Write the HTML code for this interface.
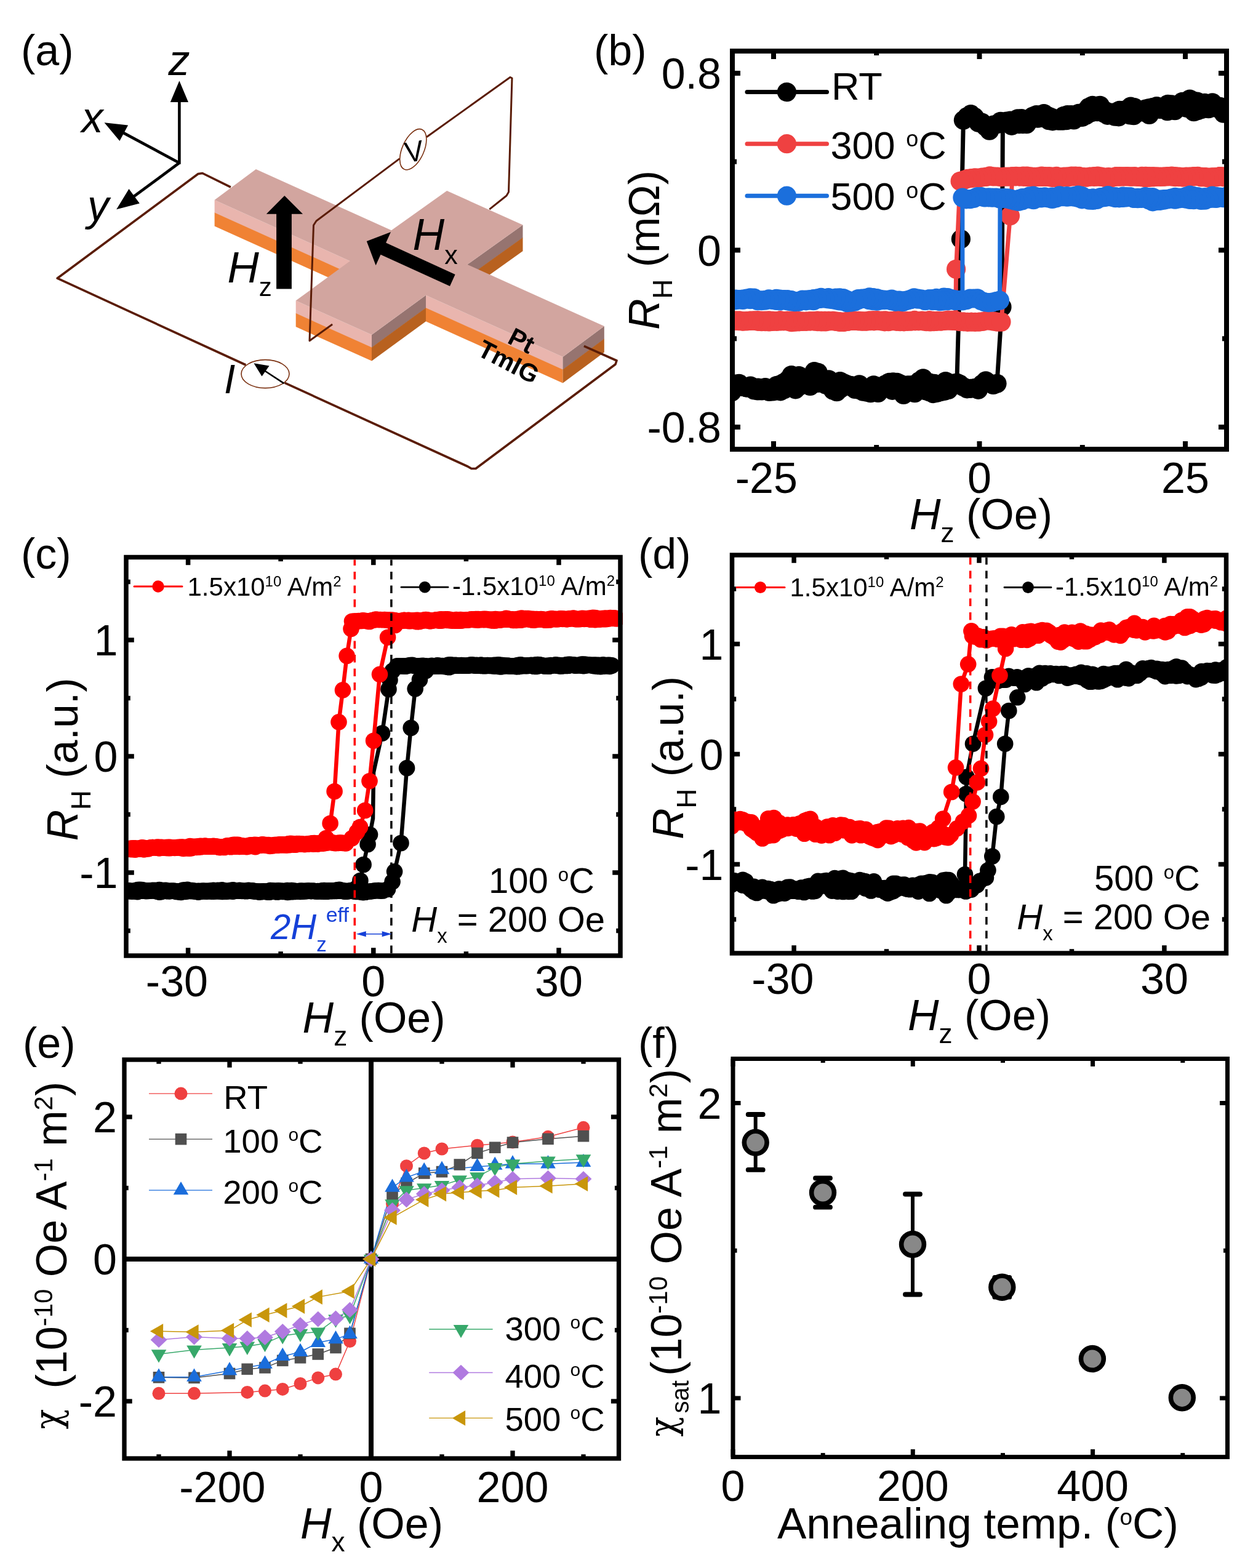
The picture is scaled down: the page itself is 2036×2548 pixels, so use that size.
<!DOCTYPE html>
<html><head><meta charset="utf-8"><title>Figure</title>
<style>html,body{margin:0;padding:0;background:#fff;} svg{display:block;}</style></head>
<body><svg xmlns="http://www.w3.org/2000/svg" width="2036" height="2548" viewBox="0 0 2036 2548" font-family="'Liberation Sans', Arial, Helvetica, sans-serif">
<rect width="2036" height="2548" fill="#fff"/>
<clipPath id="cb"><rect x="1190" y="83" width="803" height="647"/></clipPath>
<g clip-path="url(#cb)">
<polyline points="1176.7,631.6 1182.8,628.7 1188.9,627.3 1194.9,624.1 1201,623.3 1207.1,628.5 1213.2,629.8 1219.2,629.2 1225.3,634 1231.4,635 1237.4,631 1243.5,629.6 1249.6,631.5 1255.7,632.1 1261.7,626.7 1267.8,624.8 1273.9,621.7 1279.9,617.7 1286,609.5 1292.1,613.1 1298.2,610.5 1304.2,617.5 1310.3,622.1 1316.4,627.4 1322.5,620.1 1328.5,622.4 1334.6,621.4 1340.7,621.3 1346.7,616.9 1352.8,623.5 1358.9,622.1 1365,619.6 1371,622.7 1377.1,625 1383.2,626.5 1389.3,632.5 1395.3,633.2 1401.4,629.4 1407.5,632.4 1413.5,632.7 1419.6,625.9 1425.7,628 1431.8,632.7 1437.8,627.4 1443.9,630 1450,634.3 1456,632 1462.1,634 1468.2,641.5 1474.3,634.9 1480.3,634.7 1486.4,638.6 1492.5,631.6 1498.6,631.3 1504.6,635 1510.7,636.9 1516.8,639.7 1522.8,638.1 1528.9,636.5 1535,635.3 1541.1,633.5 1547.1,625.1 1553.2,625.4 1559.3,624.1 1565.3,628.5 1571.4,631.8 1577.5,631.3 1583.6,630.6 1589.6,633.3 1595.7,624 1601.8,618.9 1607.9,622.8 1613.9,625.4 1620,623.3 1628,498.9 1629.4,198.6 1635.4,197.1 1641.5,196.1 1647.6,196.7 1653.7,192.8 1659.8,192.7 1665.8,194.7 1671.9,194.9 1678,189.1 1684.1,186.6 1690.2,187.3 1696.2,184.5 1702.3,188.4 1708.4,190.9 1714.5,194.2 1720.6,196.1 1726.6,196.2 1732.7,195.6 1738.8,193.2 1744.9,194.9 1751,188.3 1757,190.3 1763.1,181.2 1769.2,174.4 1775.3,171.3 1781.3,172.3 1787.4,171.4 1793.5,183.8 1799.6,187.3 1805.7,186 1811.7,189.2 1817.8,189.8 1823.9,181.7 1830,183.2 1836.1,187 1842.1,187.6 1848.2,182.1 1854.3,181.9 1860.4,182.1 1866.5,175.9 1872.5,174.5 1878.6,174.5 1884.7,177.4 1890.8,177.4 1896.9,180.7 1902.9,177.6 1909,179.6 1915.1,169.8 1921.2,165.3 1927.2,166.1 1933.3,161.1 1939.4,164.2 1945.5,165 1951.6,171.1 1957.6,167.3 1963.7,176.7 1969.8,174.4 1975.9,175.2 1982,176.8 1988,184.1 1994.1,181.4 2000.2,180.9 2006.3,185.7" fill="none" stroke="#000" stroke-width="7" stroke-linejoin="round" stroke-linecap="round" />
<circle cx="1176.7" cy="631.6" r="15.6" fill="#000" />
<circle cx="1182.8" cy="628.7" r="15.6" fill="#000" />
<circle cx="1188.9" cy="627.3" r="15.6" fill="#000" />
<circle cx="1194.9" cy="624.1" r="15.6" fill="#000" />
<circle cx="1201" cy="623.3" r="15.6" fill="#000" />
<circle cx="1207.1" cy="628.5" r="15.6" fill="#000" />
<circle cx="1213.2" cy="629.8" r="15.6" fill="#000" />
<circle cx="1219.2" cy="629.2" r="15.6" fill="#000" />
<circle cx="1225.3" cy="634" r="15.6" fill="#000" />
<circle cx="1231.4" cy="635" r="15.6" fill="#000" />
<circle cx="1237.4" cy="631" r="15.6" fill="#000" />
<circle cx="1243.5" cy="629.6" r="15.6" fill="#000" />
<circle cx="1249.6" cy="631.5" r="15.6" fill="#000" />
<circle cx="1255.7" cy="632.1" r="15.6" fill="#000" />
<circle cx="1261.7" cy="626.7" r="15.6" fill="#000" />
<circle cx="1267.8" cy="624.8" r="15.6" fill="#000" />
<circle cx="1273.9" cy="621.7" r="15.6" fill="#000" />
<circle cx="1279.9" cy="617.7" r="15.6" fill="#000" />
<circle cx="1286" cy="609.5" r="15.6" fill="#000" />
<circle cx="1292.1" cy="613.1" r="15.6" fill="#000" />
<circle cx="1298.2" cy="610.5" r="15.6" fill="#000" />
<circle cx="1304.2" cy="617.5" r="15.6" fill="#000" />
<circle cx="1310.3" cy="622.1" r="15.6" fill="#000" />
<circle cx="1316.4" cy="627.4" r="15.6" fill="#000" />
<circle cx="1322.5" cy="620.1" r="15.6" fill="#000" />
<circle cx="1328.5" cy="622.4" r="15.6" fill="#000" />
<circle cx="1334.6" cy="621.4" r="15.6" fill="#000" />
<circle cx="1340.7" cy="621.3" r="15.6" fill="#000" />
<circle cx="1346.7" cy="616.9" r="15.6" fill="#000" />
<circle cx="1352.8" cy="623.5" r="15.6" fill="#000" />
<circle cx="1358.9" cy="622.1" r="15.6" fill="#000" />
<circle cx="1365" cy="619.6" r="15.6" fill="#000" />
<circle cx="1371" cy="622.7" r="15.6" fill="#000" />
<circle cx="1377.1" cy="625" r="15.6" fill="#000" />
<circle cx="1383.2" cy="626.5" r="15.6" fill="#000" />
<circle cx="1389.3" cy="632.5" r="15.6" fill="#000" />
<circle cx="1395.3" cy="633.2" r="15.6" fill="#000" />
<circle cx="1401.4" cy="629.4" r="15.6" fill="#000" />
<circle cx="1407.5" cy="632.4" r="15.6" fill="#000" />
<circle cx="1413.5" cy="632.7" r="15.6" fill="#000" />
<circle cx="1419.6" cy="625.9" r="15.6" fill="#000" />
<circle cx="1425.7" cy="628" r="15.6" fill="#000" />
<circle cx="1431.8" cy="632.7" r="15.6" fill="#000" />
<circle cx="1437.8" cy="627.4" r="15.6" fill="#000" />
<circle cx="1443.9" cy="630" r="15.6" fill="#000" />
<circle cx="1450" cy="634.3" r="15.6" fill="#000" />
<circle cx="1456" cy="632" r="15.6" fill="#000" />
<circle cx="1462.1" cy="634" r="15.6" fill="#000" />
<circle cx="1468.2" cy="641.5" r="15.6" fill="#000" />
<circle cx="1474.3" cy="634.9" r="15.6" fill="#000" />
<circle cx="1480.3" cy="634.7" r="15.6" fill="#000" />
<circle cx="1486.4" cy="638.6" r="15.6" fill="#000" />
<circle cx="1492.5" cy="631.6" r="15.6" fill="#000" />
<circle cx="1498.6" cy="631.3" r="15.6" fill="#000" />
<circle cx="1504.6" cy="635" r="15.6" fill="#000" />
<circle cx="1510.7" cy="636.9" r="15.6" fill="#000" />
<circle cx="1516.8" cy="639.7" r="15.6" fill="#000" />
<circle cx="1522.8" cy="638.1" r="15.6" fill="#000" />
<circle cx="1528.9" cy="636.5" r="15.6" fill="#000" />
<circle cx="1535" cy="635.3" r="15.6" fill="#000" />
<circle cx="1541.1" cy="633.5" r="15.6" fill="#000" />
<circle cx="1547.1" cy="625.1" r="15.6" fill="#000" />
<circle cx="1553.2" cy="625.4" r="15.6" fill="#000" />
<circle cx="1559.3" cy="624.1" r="15.6" fill="#000" />
<circle cx="1565.3" cy="628.5" r="15.6" fill="#000" />
<circle cx="1571.4" cy="631.8" r="15.6" fill="#000" />
<circle cx="1577.5" cy="631.3" r="15.6" fill="#000" />
<circle cx="1583.6" cy="630.6" r="15.6" fill="#000" />
<circle cx="1589.6" cy="633.3" r="15.6" fill="#000" />
<circle cx="1595.7" cy="624" r="15.6" fill="#000" />
<circle cx="1601.8" cy="618.9" r="15.6" fill="#000" />
<circle cx="1607.9" cy="622.8" r="15.6" fill="#000" />
<circle cx="1613.9" cy="625.4" r="15.6" fill="#000" />
<circle cx="1620" cy="623.3" r="15.6" fill="#000" />
<circle cx="1628" cy="498.9" r="15.6" fill="#000" />
<circle cx="1629.4" cy="198.6" r="15.6" fill="#000" />
<circle cx="1635.4" cy="197.1" r="15.6" fill="#000" />
<circle cx="1641.5" cy="196.1" r="15.6" fill="#000" />
<circle cx="1647.6" cy="196.7" r="15.6" fill="#000" />
<circle cx="1653.7" cy="192.8" r="15.6" fill="#000" />
<circle cx="1659.8" cy="192.7" r="15.6" fill="#000" />
<circle cx="1665.8" cy="194.7" r="15.6" fill="#000" />
<circle cx="1671.9" cy="194.9" r="15.6" fill="#000" />
<circle cx="1678" cy="189.1" r="15.6" fill="#000" />
<circle cx="1684.1" cy="186.6" r="15.6" fill="#000" />
<circle cx="1690.2" cy="187.3" r="15.6" fill="#000" />
<circle cx="1696.2" cy="184.5" r="15.6" fill="#000" />
<circle cx="1702.3" cy="188.4" r="15.6" fill="#000" />
<circle cx="1708.4" cy="190.9" r="15.6" fill="#000" />
<circle cx="1714.5" cy="194.2" r="15.6" fill="#000" />
<circle cx="1720.6" cy="196.1" r="15.6" fill="#000" />
<circle cx="1726.6" cy="196.2" r="15.6" fill="#000" />
<circle cx="1732.7" cy="195.6" r="15.6" fill="#000" />
<circle cx="1738.8" cy="193.2" r="15.6" fill="#000" />
<circle cx="1744.9" cy="194.9" r="15.6" fill="#000" />
<circle cx="1751" cy="188.3" r="15.6" fill="#000" />
<circle cx="1757" cy="190.3" r="15.6" fill="#000" />
<circle cx="1763.1" cy="181.2" r="15.6" fill="#000" />
<circle cx="1769.2" cy="174.4" r="15.6" fill="#000" />
<circle cx="1775.3" cy="171.3" r="15.6" fill="#000" />
<circle cx="1781.3" cy="172.3" r="15.6" fill="#000" />
<circle cx="1787.4" cy="171.4" r="15.6" fill="#000" />
<circle cx="1793.5" cy="183.8" r="15.6" fill="#000" />
<circle cx="1799.6" cy="187.3" r="15.6" fill="#000" />
<circle cx="1805.7" cy="186" r="15.6" fill="#000" />
<circle cx="1811.7" cy="189.2" r="15.6" fill="#000" />
<circle cx="1817.8" cy="189.8" r="15.6" fill="#000" />
<circle cx="1823.9" cy="181.7" r="15.6" fill="#000" />
<circle cx="1830" cy="183.2" r="15.6" fill="#000" />
<circle cx="1836.1" cy="187" r="15.6" fill="#000" />
<circle cx="1842.1" cy="187.6" r="15.6" fill="#000" />
<circle cx="1848.2" cy="182.1" r="15.6" fill="#000" />
<circle cx="1854.3" cy="181.9" r="15.6" fill="#000" />
<circle cx="1860.4" cy="182.1" r="15.6" fill="#000" />
<circle cx="1866.5" cy="175.9" r="15.6" fill="#000" />
<circle cx="1872.5" cy="174.5" r="15.6" fill="#000" />
<circle cx="1878.6" cy="174.5" r="15.6" fill="#000" />
<circle cx="1884.7" cy="177.4" r="15.6" fill="#000" />
<circle cx="1890.8" cy="177.4" r="15.6" fill="#000" />
<circle cx="1896.9" cy="180.7" r="15.6" fill="#000" />
<circle cx="1902.9" cy="177.6" r="15.6" fill="#000" />
<circle cx="1909" cy="179.6" r="15.6" fill="#000" />
<circle cx="1915.1" cy="169.8" r="15.6" fill="#000" />
<circle cx="1921.2" cy="165.3" r="15.6" fill="#000" />
<circle cx="1927.2" cy="166.1" r="15.6" fill="#000" />
<circle cx="1933.3" cy="161.1" r="15.6" fill="#000" />
<circle cx="1939.4" cy="164.2" r="15.6" fill="#000" />
<circle cx="1945.5" cy="165" r="15.6" fill="#000" />
<circle cx="1951.6" cy="171.1" r="15.6" fill="#000" />
<circle cx="1957.6" cy="167.3" r="15.6" fill="#000" />
<circle cx="1963.7" cy="176.7" r="15.6" fill="#000" />
<circle cx="1969.8" cy="174.4" r="15.6" fill="#000" />
<circle cx="1975.9" cy="175.2" r="15.6" fill="#000" />
<circle cx="1982" cy="176.8" r="15.6" fill="#000" />
<circle cx="1988" cy="184.1" r="15.6" fill="#000" />
<circle cx="1994.1" cy="181.4" r="15.6" fill="#000" />
<circle cx="2000.2" cy="180.9" r="15.6" fill="#000" />
<circle cx="2006.3" cy="185.7" r="15.6" fill="#000" />
</g>
<g clip-path="url(#cb)">
<polyline points="2006.3,172.7 2000.2,176.4 1994.2,174.7 1988.2,175.4 1982.1,173.4 1976.1,174.5 1970,166.8 1964,172.6 1958,172.2 1951.9,177.8 1945.9,179.8 1939.8,181.7 1933.8,176.6 1927.8,175.3 1921.7,172.4 1915.7,171.3 1909.7,172.8 1903.6,169.8 1897.6,169.3 1891.5,175.1 1885.5,174.6 1879.5,172.7 1873.4,178.7 1867.4,186.4 1861.3,177 1855.3,179 1849.3,180.9 1843.2,174.7 1837.2,173 1831.1,178.1 1825.1,179.4 1819.1,179.4 1813,186.9 1807,183.2 1800.9,183.1 1794.9,179.6 1788.9,178.4 1782.8,181.6 1776.8,181.9 1770.7,183.6 1764.7,187.3 1758.7,190.1 1752.6,184.4 1746.6,188.3 1740.5,186.7 1734.5,186.5 1728.5,188.3 1722.4,193.9 1716.4,194.4 1710.4,196.8 1704.3,195.7 1698.3,191.5 1692.2,191 1686.2,192.1 1680.2,190.7 1674.1,194.5 1668.1,201.7 1662,201.6 1656,201.7 1650,200.9 1643.9,204.3 1637.9,198 1631.8,198.4 1625.8,197.3 1619.8,201.8 1613.7,203.2 1607.7,212.2 1601.6,206 1595.6,199.2 1589.6,199.3 1583.5,190.2 1577.5,185.7 1571.4,189.6 1565.4,195.3 1561.4,388.5 1554.8,622.1 1548.7,623 1542.6,623.1 1536.5,619.6 1530.4,625 1524.3,629 1518.2,623.3 1512.1,622.7 1506,620.3 1500,614.9 1493.9,619.3 1487.8,624 1481.7,625.8 1475.6,625.8 1469.5,628.9 1463.4,624.1 1457.3,621.4 1451.2,620.8 1445.1,621.4 1439,624.7 1432.9,629 1426.8,638.4 1420.7,633.3 1414.6,638.6 1408.5,637.2 1402.4,636.1 1396.3,624.9 1390.2,627.9 1384.1,627.4 1378,627.4 1371.9,627.7 1365.8,631.5 1359.7,636.7 1353.6,634.2 1347.5,627.4 1341.4,624.9 1335.3,619.5 1329.2,605.3 1323.1,603.7 1317,615 1310.9,617.4 1304.8,620 1298.7,627.4 1292.6,632.8 1286.5,629 1280.4,629 1274.3,632.6 1268.2,635.8 1262.1,634.7 1256,636 1249.9,636.5 1243.8,633.3 1237.7,634.9 1231.6,630.1 1225.5,631.8 1219.4,627 1213.3,629.9 1207.2,628.3 1201.1,626.2 1195,628.2 1188.9,637 1182.8,637.5 1176.7,637.5" fill="none" stroke="#000" stroke-width="7" stroke-linejoin="round" stroke-linecap="round" />
<circle cx="2006.3" cy="172.7" r="15.6" fill="#000" />
<circle cx="2000.2" cy="176.4" r="15.6" fill="#000" />
<circle cx="1994.2" cy="174.7" r="15.6" fill="#000" />
<circle cx="1988.2" cy="175.4" r="15.6" fill="#000" />
<circle cx="1982.1" cy="173.4" r="15.6" fill="#000" />
<circle cx="1976.1" cy="174.5" r="15.6" fill="#000" />
<circle cx="1970" cy="166.8" r="15.6" fill="#000" />
<circle cx="1964" cy="172.6" r="15.6" fill="#000" />
<circle cx="1958" cy="172.2" r="15.6" fill="#000" />
<circle cx="1951.9" cy="177.8" r="15.6" fill="#000" />
<circle cx="1945.9" cy="179.8" r="15.6" fill="#000" />
<circle cx="1939.8" cy="181.7" r="15.6" fill="#000" />
<circle cx="1933.8" cy="176.6" r="15.6" fill="#000" />
<circle cx="1927.8" cy="175.3" r="15.6" fill="#000" />
<circle cx="1921.7" cy="172.4" r="15.6" fill="#000" />
<circle cx="1915.7" cy="171.3" r="15.6" fill="#000" />
<circle cx="1909.7" cy="172.8" r="15.6" fill="#000" />
<circle cx="1903.6" cy="169.8" r="15.6" fill="#000" />
<circle cx="1897.6" cy="169.3" r="15.6" fill="#000" />
<circle cx="1891.5" cy="175.1" r="15.6" fill="#000" />
<circle cx="1885.5" cy="174.6" r="15.6" fill="#000" />
<circle cx="1879.5" cy="172.7" r="15.6" fill="#000" />
<circle cx="1873.4" cy="178.7" r="15.6" fill="#000" />
<circle cx="1867.4" cy="186.4" r="15.6" fill="#000" />
<circle cx="1861.3" cy="177" r="15.6" fill="#000" />
<circle cx="1855.3" cy="179" r="15.6" fill="#000" />
<circle cx="1849.3" cy="180.9" r="15.6" fill="#000" />
<circle cx="1843.2" cy="174.7" r="15.6" fill="#000" />
<circle cx="1837.2" cy="173" r="15.6" fill="#000" />
<circle cx="1831.1" cy="178.1" r="15.6" fill="#000" />
<circle cx="1825.1" cy="179.4" r="15.6" fill="#000" />
<circle cx="1819.1" cy="179.4" r="15.6" fill="#000" />
<circle cx="1813" cy="186.9" r="15.6" fill="#000" />
<circle cx="1807" cy="183.2" r="15.6" fill="#000" />
<circle cx="1800.9" cy="183.1" r="15.6" fill="#000" />
<circle cx="1794.9" cy="179.6" r="15.6" fill="#000" />
<circle cx="1788.9" cy="178.4" r="15.6" fill="#000" />
<circle cx="1782.8" cy="181.6" r="15.6" fill="#000" />
<circle cx="1776.8" cy="181.9" r="15.6" fill="#000" />
<circle cx="1770.7" cy="183.6" r="15.6" fill="#000" />
<circle cx="1764.7" cy="187.3" r="15.6" fill="#000" />
<circle cx="1758.7" cy="190.1" r="15.6" fill="#000" />
<circle cx="1752.6" cy="184.4" r="15.6" fill="#000" />
<circle cx="1746.6" cy="188.3" r="15.6" fill="#000" />
<circle cx="1740.5" cy="186.7" r="15.6" fill="#000" />
<circle cx="1734.5" cy="186.5" r="15.6" fill="#000" />
<circle cx="1728.5" cy="188.3" r="15.6" fill="#000" />
<circle cx="1722.4" cy="193.9" r="15.6" fill="#000" />
<circle cx="1716.4" cy="194.4" r="15.6" fill="#000" />
<circle cx="1710.4" cy="196.8" r="15.6" fill="#000" />
<circle cx="1704.3" cy="195.7" r="15.6" fill="#000" />
<circle cx="1698.3" cy="191.5" r="15.6" fill="#000" />
<circle cx="1692.2" cy="191" r="15.6" fill="#000" />
<circle cx="1686.2" cy="192.1" r="15.6" fill="#000" />
<circle cx="1680.2" cy="190.7" r="15.6" fill="#000" />
<circle cx="1674.1" cy="194.5" r="15.6" fill="#000" />
<circle cx="1668.1" cy="201.7" r="15.6" fill="#000" />
<circle cx="1662" cy="201.6" r="15.6" fill="#000" />
<circle cx="1656" cy="201.7" r="15.6" fill="#000" />
<circle cx="1650" cy="200.9" r="15.6" fill="#000" />
<circle cx="1643.9" cy="204.3" r="15.6" fill="#000" />
<circle cx="1637.9" cy="198" r="15.6" fill="#000" />
<circle cx="1631.8" cy="198.4" r="15.6" fill="#000" />
<circle cx="1625.8" cy="197.3" r="15.6" fill="#000" />
<circle cx="1619.8" cy="201.8" r="15.6" fill="#000" />
<circle cx="1613.7" cy="203.2" r="15.6" fill="#000" />
<circle cx="1607.7" cy="212.2" r="15.6" fill="#000" />
<circle cx="1601.6" cy="206" r="15.6" fill="#000" />
<circle cx="1595.6" cy="199.2" r="15.6" fill="#000" />
<circle cx="1589.6" cy="199.3" r="15.6" fill="#000" />
<circle cx="1583.5" cy="190.2" r="15.6" fill="#000" />
<circle cx="1577.5" cy="185.7" r="15.6" fill="#000" />
<circle cx="1571.4" cy="189.6" r="15.6" fill="#000" />
<circle cx="1565.4" cy="195.3" r="15.6" fill="#000" />
<circle cx="1561.4" cy="388.5" r="15.6" fill="#000" />
<circle cx="1554.8" cy="622.1" r="15.6" fill="#000" />
<circle cx="1548.7" cy="623" r="15.6" fill="#000" />
<circle cx="1542.6" cy="623.1" r="15.6" fill="#000" />
<circle cx="1536.5" cy="619.6" r="15.6" fill="#000" />
<circle cx="1530.4" cy="625" r="15.6" fill="#000" />
<circle cx="1524.3" cy="629" r="15.6" fill="#000" />
<circle cx="1518.2" cy="623.3" r="15.6" fill="#000" />
<circle cx="1512.1" cy="622.7" r="15.6" fill="#000" />
<circle cx="1506" cy="620.3" r="15.6" fill="#000" />
<circle cx="1500" cy="614.9" r="15.6" fill="#000" />
<circle cx="1493.9" cy="619.3" r="15.6" fill="#000" />
<circle cx="1487.8" cy="624" r="15.6" fill="#000" />
<circle cx="1481.7" cy="625.8" r="15.6" fill="#000" />
<circle cx="1475.6" cy="625.8" r="15.6" fill="#000" />
<circle cx="1469.5" cy="628.9" r="15.6" fill="#000" />
<circle cx="1463.4" cy="624.1" r="15.6" fill="#000" />
<circle cx="1457.3" cy="621.4" r="15.6" fill="#000" />
<circle cx="1451.2" cy="620.8" r="15.6" fill="#000" />
<circle cx="1445.1" cy="621.4" r="15.6" fill="#000" />
<circle cx="1439" cy="624.7" r="15.6" fill="#000" />
<circle cx="1432.9" cy="629" r="15.6" fill="#000" />
<circle cx="1426.8" cy="638.4" r="15.6" fill="#000" />
<circle cx="1420.7" cy="633.3" r="15.6" fill="#000" />
<circle cx="1414.6" cy="638.6" r="15.6" fill="#000" />
<circle cx="1408.5" cy="637.2" r="15.6" fill="#000" />
<circle cx="1402.4" cy="636.1" r="15.6" fill="#000" />
<circle cx="1396.3" cy="624.9" r="15.6" fill="#000" />
<circle cx="1390.2" cy="627.9" r="15.6" fill="#000" />
<circle cx="1384.1" cy="627.4" r="15.6" fill="#000" />
<circle cx="1378" cy="627.4" r="15.6" fill="#000" />
<circle cx="1371.9" cy="627.7" r="15.6" fill="#000" />
<circle cx="1365.8" cy="631.5" r="15.6" fill="#000" />
<circle cx="1359.7" cy="636.7" r="15.6" fill="#000" />
<circle cx="1353.6" cy="634.2" r="15.6" fill="#000" />
<circle cx="1347.5" cy="627.4" r="15.6" fill="#000" />
<circle cx="1341.4" cy="624.9" r="15.6" fill="#000" />
<circle cx="1335.3" cy="619.5" r="15.6" fill="#000" />
<circle cx="1329.2" cy="605.3" r="15.6" fill="#000" />
<circle cx="1323.1" cy="603.7" r="15.6" fill="#000" />
<circle cx="1317" cy="615" r="15.6" fill="#000" />
<circle cx="1310.9" cy="617.4" r="15.6" fill="#000" />
<circle cx="1304.8" cy="620" r="15.6" fill="#000" />
<circle cx="1298.7" cy="627.4" r="15.6" fill="#000" />
<circle cx="1292.6" cy="632.8" r="15.6" fill="#000" />
<circle cx="1286.5" cy="629" r="15.6" fill="#000" />
<circle cx="1280.4" cy="629" r="15.6" fill="#000" />
<circle cx="1274.3" cy="632.6" r="15.6" fill="#000" />
<circle cx="1268.2" cy="635.8" r="15.6" fill="#000" />
<circle cx="1262.1" cy="634.7" r="15.6" fill="#000" />
<circle cx="1256" cy="636" r="15.6" fill="#000" />
<circle cx="1249.9" cy="636.5" r="15.6" fill="#000" />
<circle cx="1243.8" cy="633.3" r="15.6" fill="#000" />
<circle cx="1237.7" cy="634.9" r="15.6" fill="#000" />
<circle cx="1231.6" cy="630.1" r="15.6" fill="#000" />
<circle cx="1225.5" cy="631.8" r="15.6" fill="#000" />
<circle cx="1219.4" cy="627" r="15.6" fill="#000" />
<circle cx="1213.3" cy="629.9" r="15.6" fill="#000" />
<circle cx="1207.2" cy="628.3" r="15.6" fill="#000" />
<circle cx="1201.1" cy="626.2" r="15.6" fill="#000" />
<circle cx="1195" cy="628.2" r="15.6" fill="#000" />
<circle cx="1188.9" cy="637" r="15.6" fill="#000" />
<circle cx="1182.8" cy="637.5" r="15.6" fill="#000" />
<circle cx="1176.7" cy="637.5" r="15.6" fill="#000" />
</g>
<g clip-path="url(#cb)">
<polyline points="1176.7,522.1 1182.8,522.3 1188.9,521.3 1195,521.1 1201.1,520.9 1207.1,522.1 1213.2,521.5 1219.3,521.4 1225.4,521.3 1231.5,522.3 1237.6,522.6 1243.6,522.7 1249.7,522.9 1255.8,522.4 1261.9,522.3 1268,520.7 1274.1,521.7 1280.2,522.3 1286.2,523.6 1292.3,523.2 1298.4,522.8 1304.5,522.5 1310.6,522 1316.7,521.9 1322.7,521.8 1328.8,522.6 1334.9,523 1341,522.9 1347.1,522 1353.2,521.4 1359.2,522.2 1365.3,522.7 1371.4,523 1377.5,522.1 1383.6,521.4 1389.7,521.3 1395.8,521.9 1401.8,522.2 1407.9,522.1 1414,521.6 1420.1,521.8 1426.2,521.2 1432.3,521.2 1438.3,520.8 1444.4,521.9 1450.5,521.7 1456.6,522.3 1462.7,522.6 1468.8,522.8 1474.8,522.3 1480.9,521.7 1487,521.8 1493.1,521.6 1499.2,521.8 1505.3,522.7 1511.4,523 1517.4,522.7 1523.5,521.3 1529.6,521.6 1535.7,521.1 1541.8,521.1 1547.9,521.5 1553.9,521.7 1560,522.7 1566.1,522.8 1572.2,523.3 1578.3,523.1 1584.4,523.3 1590.5,523.1 1596.5,522.5 1602.6,521 1608.7,521.1 1614.8,522.1 1620.9,523.1 1627,523.1 1641.4,350.8 1645,286.7 1651,286.4 1657.1,287 1663.1,287.3 1669.1,287.6 1675.1,287.6 1681.1,287.6 1687.2,287.5 1693.2,287.4 1699.2,287.5 1705.2,287.8 1711.3,288.6 1717.3,288.9 1723.3,288.7 1729.3,287 1735.3,286.9 1741.4,286 1747.4,286.1 1753.4,286.3 1759.4,287.6 1765.4,288.2 1771.5,287 1777.5,286.5 1783.5,286.2 1789.5,287.3 1795.5,288.5 1801.6,288.9 1807.6,288.3 1813.6,286.7 1819.6,286.6 1825.7,286.9 1831.7,286.9 1837.7,286.9 1843.7,286.5 1849.7,287.5 1855.8,288 1861.8,289 1867.8,288.3 1873.8,288 1879.8,287.5 1885.9,287.5 1891.9,287.1 1897.9,286.6 1903.9,286.1 1909.9,286.6 1916,287.1 1922,287.9 1928,288 1934,287.3 1940,286.8 1946.1,286.4 1952.1,287.4 1958.1,287.6 1964.1,288 1970.2,287.9 1976.2,287.5 1982.2,286.6 1988.2,286.9 1994.2,287.7 2000.3,287.2 2006.3,286.8" fill="none" stroke="#ef4141" stroke-width="7" stroke-linejoin="round" stroke-linecap="round" />
<circle cx="1176.7" cy="522.1" r="15.6" fill="#ef4141" />
<circle cx="1182.8" cy="522.3" r="15.6" fill="#ef4141" />
<circle cx="1188.9" cy="521.3" r="15.6" fill="#ef4141" />
<circle cx="1195" cy="521.1" r="15.6" fill="#ef4141" />
<circle cx="1201.1" cy="520.9" r="15.6" fill="#ef4141" />
<circle cx="1207.1" cy="522.1" r="15.6" fill="#ef4141" />
<circle cx="1213.2" cy="521.5" r="15.6" fill="#ef4141" />
<circle cx="1219.3" cy="521.4" r="15.6" fill="#ef4141" />
<circle cx="1225.4" cy="521.3" r="15.6" fill="#ef4141" />
<circle cx="1231.5" cy="522.3" r="15.6" fill="#ef4141" />
<circle cx="1237.6" cy="522.6" r="15.6" fill="#ef4141" />
<circle cx="1243.6" cy="522.7" r="15.6" fill="#ef4141" />
<circle cx="1249.7" cy="522.9" r="15.6" fill="#ef4141" />
<circle cx="1255.8" cy="522.4" r="15.6" fill="#ef4141" />
<circle cx="1261.9" cy="522.3" r="15.6" fill="#ef4141" />
<circle cx="1268" cy="520.7" r="15.6" fill="#ef4141" />
<circle cx="1274.1" cy="521.7" r="15.6" fill="#ef4141" />
<circle cx="1280.2" cy="522.3" r="15.6" fill="#ef4141" />
<circle cx="1286.2" cy="523.6" r="15.6" fill="#ef4141" />
<circle cx="1292.3" cy="523.2" r="15.6" fill="#ef4141" />
<circle cx="1298.4" cy="522.8" r="15.6" fill="#ef4141" />
<circle cx="1304.5" cy="522.5" r="15.6" fill="#ef4141" />
<circle cx="1310.6" cy="522" r="15.6" fill="#ef4141" />
<circle cx="1316.7" cy="521.9" r="15.6" fill="#ef4141" />
<circle cx="1322.7" cy="521.8" r="15.6" fill="#ef4141" />
<circle cx="1328.8" cy="522.6" r="15.6" fill="#ef4141" />
<circle cx="1334.9" cy="523" r="15.6" fill="#ef4141" />
<circle cx="1341" cy="522.9" r="15.6" fill="#ef4141" />
<circle cx="1347.1" cy="522" r="15.6" fill="#ef4141" />
<circle cx="1353.2" cy="521.4" r="15.6" fill="#ef4141" />
<circle cx="1359.2" cy="522.2" r="15.6" fill="#ef4141" />
<circle cx="1365.3" cy="522.7" r="15.6" fill="#ef4141" />
<circle cx="1371.4" cy="523" r="15.6" fill="#ef4141" />
<circle cx="1377.5" cy="522.1" r="15.6" fill="#ef4141" />
<circle cx="1383.6" cy="521.4" r="15.6" fill="#ef4141" />
<circle cx="1389.7" cy="521.3" r="15.6" fill="#ef4141" />
<circle cx="1395.8" cy="521.9" r="15.6" fill="#ef4141" />
<circle cx="1401.8" cy="522.2" r="15.6" fill="#ef4141" />
<circle cx="1407.9" cy="522.1" r="15.6" fill="#ef4141" />
<circle cx="1414" cy="521.6" r="15.6" fill="#ef4141" />
<circle cx="1420.1" cy="521.8" r="15.6" fill="#ef4141" />
<circle cx="1426.2" cy="521.2" r="15.6" fill="#ef4141" />
<circle cx="1432.3" cy="521.2" r="15.6" fill="#ef4141" />
<circle cx="1438.3" cy="520.8" r="15.6" fill="#ef4141" />
<circle cx="1444.4" cy="521.9" r="15.6" fill="#ef4141" />
<circle cx="1450.5" cy="521.7" r="15.6" fill="#ef4141" />
<circle cx="1456.6" cy="522.3" r="15.6" fill="#ef4141" />
<circle cx="1462.7" cy="522.6" r="15.6" fill="#ef4141" />
<circle cx="1468.8" cy="522.8" r="15.6" fill="#ef4141" />
<circle cx="1474.8" cy="522.3" r="15.6" fill="#ef4141" />
<circle cx="1480.9" cy="521.7" r="15.6" fill="#ef4141" />
<circle cx="1487" cy="521.8" r="15.6" fill="#ef4141" />
<circle cx="1493.1" cy="521.6" r="15.6" fill="#ef4141" />
<circle cx="1499.2" cy="521.8" r="15.6" fill="#ef4141" />
<circle cx="1505.3" cy="522.7" r="15.6" fill="#ef4141" />
<circle cx="1511.4" cy="523" r="15.6" fill="#ef4141" />
<circle cx="1517.4" cy="522.7" r="15.6" fill="#ef4141" />
<circle cx="1523.5" cy="521.3" r="15.6" fill="#ef4141" />
<circle cx="1529.6" cy="521.6" r="15.6" fill="#ef4141" />
<circle cx="1535.7" cy="521.1" r="15.6" fill="#ef4141" />
<circle cx="1541.8" cy="521.1" r="15.6" fill="#ef4141" />
<circle cx="1547.9" cy="521.5" r="15.6" fill="#ef4141" />
<circle cx="1553.9" cy="521.7" r="15.6" fill="#ef4141" />
<circle cx="1560" cy="522.7" r="15.6" fill="#ef4141" />
<circle cx="1566.1" cy="522.8" r="15.6" fill="#ef4141" />
<circle cx="1572.2" cy="523.3" r="15.6" fill="#ef4141" />
<circle cx="1578.3" cy="523.1" r="15.6" fill="#ef4141" />
<circle cx="1584.4" cy="523.3" r="15.6" fill="#ef4141" />
<circle cx="1590.5" cy="523.1" r="15.6" fill="#ef4141" />
<circle cx="1596.5" cy="522.5" r="15.6" fill="#ef4141" />
<circle cx="1602.6" cy="521" r="15.6" fill="#ef4141" />
<circle cx="1608.7" cy="521.1" r="15.6" fill="#ef4141" />
<circle cx="1614.8" cy="522.1" r="15.6" fill="#ef4141" />
<circle cx="1620.9" cy="523.1" r="15.6" fill="#ef4141" />
<circle cx="1627" cy="523.1" r="15.6" fill="#ef4141" />
<circle cx="1641.4" cy="350.8" r="15.6" fill="#ef4141" />
<circle cx="1645" cy="286.7" r="15.6" fill="#ef4141" />
<circle cx="1651" cy="286.4" r="15.6" fill="#ef4141" />
<circle cx="1657.1" cy="287" r="15.6" fill="#ef4141" />
<circle cx="1663.1" cy="287.3" r="15.6" fill="#ef4141" />
<circle cx="1669.1" cy="287.6" r="15.6" fill="#ef4141" />
<circle cx="1675.1" cy="287.6" r="15.6" fill="#ef4141" />
<circle cx="1681.1" cy="287.6" r="15.6" fill="#ef4141" />
<circle cx="1687.2" cy="287.5" r="15.6" fill="#ef4141" />
<circle cx="1693.2" cy="287.4" r="15.6" fill="#ef4141" />
<circle cx="1699.2" cy="287.5" r="15.6" fill="#ef4141" />
<circle cx="1705.2" cy="287.8" r="15.6" fill="#ef4141" />
<circle cx="1711.3" cy="288.6" r="15.6" fill="#ef4141" />
<circle cx="1717.3" cy="288.9" r="15.6" fill="#ef4141" />
<circle cx="1723.3" cy="288.7" r="15.6" fill="#ef4141" />
<circle cx="1729.3" cy="287" r="15.6" fill="#ef4141" />
<circle cx="1735.3" cy="286.9" r="15.6" fill="#ef4141" />
<circle cx="1741.4" cy="286" r="15.6" fill="#ef4141" />
<circle cx="1747.4" cy="286.1" r="15.6" fill="#ef4141" />
<circle cx="1753.4" cy="286.3" r="15.6" fill="#ef4141" />
<circle cx="1759.4" cy="287.6" r="15.6" fill="#ef4141" />
<circle cx="1765.4" cy="288.2" r="15.6" fill="#ef4141" />
<circle cx="1771.5" cy="287" r="15.6" fill="#ef4141" />
<circle cx="1777.5" cy="286.5" r="15.6" fill="#ef4141" />
<circle cx="1783.5" cy="286.2" r="15.6" fill="#ef4141" />
<circle cx="1789.5" cy="287.3" r="15.6" fill="#ef4141" />
<circle cx="1795.5" cy="288.5" r="15.6" fill="#ef4141" />
<circle cx="1801.6" cy="288.9" r="15.6" fill="#ef4141" />
<circle cx="1807.6" cy="288.3" r="15.6" fill="#ef4141" />
<circle cx="1813.6" cy="286.7" r="15.6" fill="#ef4141" />
<circle cx="1819.6" cy="286.6" r="15.6" fill="#ef4141" />
<circle cx="1825.7" cy="286.9" r="15.6" fill="#ef4141" />
<circle cx="1831.7" cy="286.9" r="15.6" fill="#ef4141" />
<circle cx="1837.7" cy="286.9" r="15.6" fill="#ef4141" />
<circle cx="1843.7" cy="286.5" r="15.6" fill="#ef4141" />
<circle cx="1849.7" cy="287.5" r="15.6" fill="#ef4141" />
<circle cx="1855.8" cy="288" r="15.6" fill="#ef4141" />
<circle cx="1861.8" cy="289" r="15.6" fill="#ef4141" />
<circle cx="1867.8" cy="288.3" r="15.6" fill="#ef4141" />
<circle cx="1873.8" cy="288" r="15.6" fill="#ef4141" />
<circle cx="1879.8" cy="287.5" r="15.6" fill="#ef4141" />
<circle cx="1885.9" cy="287.5" r="15.6" fill="#ef4141" />
<circle cx="1891.9" cy="287.1" r="15.6" fill="#ef4141" />
<circle cx="1897.9" cy="286.6" r="15.6" fill="#ef4141" />
<circle cx="1903.9" cy="286.1" r="15.6" fill="#ef4141" />
<circle cx="1909.9" cy="286.6" r="15.6" fill="#ef4141" />
<circle cx="1916" cy="287.1" r="15.6" fill="#ef4141" />
<circle cx="1922" cy="287.9" r="15.6" fill="#ef4141" />
<circle cx="1928" cy="288" r="15.6" fill="#ef4141" />
<circle cx="1934" cy="287.3" r="15.6" fill="#ef4141" />
<circle cx="1940" cy="286.8" r="15.6" fill="#ef4141" />
<circle cx="1946.1" cy="286.4" r="15.6" fill="#ef4141" />
<circle cx="1952.1" cy="287.4" r="15.6" fill="#ef4141" />
<circle cx="1958.1" cy="287.6" r="15.6" fill="#ef4141" />
<circle cx="1964.1" cy="288" r="15.6" fill="#ef4141" />
<circle cx="1970.2" cy="287.9" r="15.6" fill="#ef4141" />
<circle cx="1976.2" cy="287.5" r="15.6" fill="#ef4141" />
<circle cx="1982.2" cy="286.6" r="15.6" fill="#ef4141" />
<circle cx="1988.2" cy="286.9" r="15.6" fill="#ef4141" />
<circle cx="1994.2" cy="287.7" r="15.6" fill="#ef4141" />
<circle cx="2000.3" cy="287.2" r="15.6" fill="#ef4141" />
<circle cx="2006.3" cy="286.8" r="15.6" fill="#ef4141" />
</g>
<g clip-path="url(#cb)">
<polyline points="2006.3,288.4 2000.2,289 1994.2,288.2 1988.2,287.8 1982.2,286.7 1976.1,288 1970.1,288.1 1964.1,289.3 1958,287.9 1952,288 1946,286.5 1939.9,286.6 1933.9,287 1927.9,287.2 1921.9,287.9 1915.8,287.6 1909.8,287.7 1903.8,286.9 1897.7,286.6 1891.7,287 1885.7,287 1879.6,286.8 1873.6,286.7 1867.6,286.5 1861.6,286.3 1855.5,286.4 1849.5,287.3 1843.5,287.2 1837.4,287.2 1831.4,286.5 1825.4,286.8 1819.3,287.1 1813.3,287.2 1807.3,288.3 1801.3,287.6 1795.2,288 1789.2,287.2 1783.2,287.2 1777.1,287.3 1771.1,287.4 1765.1,288 1759,287.7 1753,287.3 1747,286.9 1741,287 1734.9,287.9 1728.9,287.5 1722.9,287.5 1716.8,286.3 1710.8,287 1704.8,286.5 1698.7,286.5 1692.7,286.1 1686.7,287.2 1680.7,287.3 1674.6,286.8 1668.6,286 1662.6,286.1 1656.5,286.8 1650.5,286.8 1644.5,287 1638.4,287.1 1632.4,287.2 1626.4,287.7 1620.4,287 1614.3,286.9 1608.3,285.9 1602.3,287.4 1596.2,288 1590.2,289.2 1584.2,288.8 1578.1,289.6 1572.1,290.4 1566.1,292.6 1560.1,294.4 1553.6,437.4 1552.7,520.8 1546.6,520.3 1540.6,520.2 1534.5,521.3 1528.4,522.1 1522.4,522.3 1516.3,521.3 1510.2,520.7 1504.2,521.8 1498.1,521.2 1492.1,521.6 1486,520.4 1479.9,522.2 1473.9,521.5 1467.8,521.9 1461.7,520.7 1455.7,520.7 1449.6,521.5 1443.5,522.6 1437.5,522.8 1431.4,521.8 1425.4,520.5 1419.3,520.5 1413.2,520.9 1407.2,521.8 1401.1,521.9 1395,521.4 1389,521.4 1382.9,521.4 1376.8,522.5 1370.8,523.4 1364.7,523.4 1358.6,522.4 1352.6,521.6 1346.5,521.3 1340.5,521.3 1334.4,521.3 1328.3,521.1 1322.3,521.8 1316.2,521.8 1310.1,522.3 1304.1,522 1298,521.7 1291.9,521.1 1285.9,521.1 1279.8,521.2 1273.7,521.7 1267.7,521.9 1261.6,521.5 1255.6,521.4 1249.5,520.8 1243.4,521.1 1237.4,521 1231.3,520.6 1225.2,520.9 1219.2,521.2 1213.1,522 1207,521.8 1201,521.6 1194.9,521.2 1188.8,521.3 1182.8,521.2 1176.7,521.6" fill="none" stroke="#ef4141" stroke-width="7" stroke-linejoin="round" stroke-linecap="round" />
<circle cx="2006.3" cy="288.4" r="15.6" fill="#ef4141" />
<circle cx="2000.2" cy="289" r="15.6" fill="#ef4141" />
<circle cx="1994.2" cy="288.2" r="15.6" fill="#ef4141" />
<circle cx="1988.2" cy="287.8" r="15.6" fill="#ef4141" />
<circle cx="1982.2" cy="286.7" r="15.6" fill="#ef4141" />
<circle cx="1976.1" cy="288" r="15.6" fill="#ef4141" />
<circle cx="1970.1" cy="288.1" r="15.6" fill="#ef4141" />
<circle cx="1964.1" cy="289.3" r="15.6" fill="#ef4141" />
<circle cx="1958" cy="287.9" r="15.6" fill="#ef4141" />
<circle cx="1952" cy="288" r="15.6" fill="#ef4141" />
<circle cx="1946" cy="286.5" r="15.6" fill="#ef4141" />
<circle cx="1939.9" cy="286.6" r="15.6" fill="#ef4141" />
<circle cx="1933.9" cy="287" r="15.6" fill="#ef4141" />
<circle cx="1927.9" cy="287.2" r="15.6" fill="#ef4141" />
<circle cx="1921.9" cy="287.9" r="15.6" fill="#ef4141" />
<circle cx="1915.8" cy="287.6" r="15.6" fill="#ef4141" />
<circle cx="1909.8" cy="287.7" r="15.6" fill="#ef4141" />
<circle cx="1903.8" cy="286.9" r="15.6" fill="#ef4141" />
<circle cx="1897.7" cy="286.6" r="15.6" fill="#ef4141" />
<circle cx="1891.7" cy="287" r="15.6" fill="#ef4141" />
<circle cx="1885.7" cy="287" r="15.6" fill="#ef4141" />
<circle cx="1879.6" cy="286.8" r="15.6" fill="#ef4141" />
<circle cx="1873.6" cy="286.7" r="15.6" fill="#ef4141" />
<circle cx="1867.6" cy="286.5" r="15.6" fill="#ef4141" />
<circle cx="1861.6" cy="286.3" r="15.6" fill="#ef4141" />
<circle cx="1855.5" cy="286.4" r="15.6" fill="#ef4141" />
<circle cx="1849.5" cy="287.3" r="15.6" fill="#ef4141" />
<circle cx="1843.5" cy="287.2" r="15.6" fill="#ef4141" />
<circle cx="1837.4" cy="287.2" r="15.6" fill="#ef4141" />
<circle cx="1831.4" cy="286.5" r="15.6" fill="#ef4141" />
<circle cx="1825.4" cy="286.8" r="15.6" fill="#ef4141" />
<circle cx="1819.3" cy="287.1" r="15.6" fill="#ef4141" />
<circle cx="1813.3" cy="287.2" r="15.6" fill="#ef4141" />
<circle cx="1807.3" cy="288.3" r="15.6" fill="#ef4141" />
<circle cx="1801.3" cy="287.6" r="15.6" fill="#ef4141" />
<circle cx="1795.2" cy="288" r="15.6" fill="#ef4141" />
<circle cx="1789.2" cy="287.2" r="15.6" fill="#ef4141" />
<circle cx="1783.2" cy="287.2" r="15.6" fill="#ef4141" />
<circle cx="1777.1" cy="287.3" r="15.6" fill="#ef4141" />
<circle cx="1771.1" cy="287.4" r="15.6" fill="#ef4141" />
<circle cx="1765.1" cy="288" r="15.6" fill="#ef4141" />
<circle cx="1759" cy="287.7" r="15.6" fill="#ef4141" />
<circle cx="1753" cy="287.3" r="15.6" fill="#ef4141" />
<circle cx="1747" cy="286.9" r="15.6" fill="#ef4141" />
<circle cx="1741" cy="287" r="15.6" fill="#ef4141" />
<circle cx="1734.9" cy="287.9" r="15.6" fill="#ef4141" />
<circle cx="1728.9" cy="287.5" r="15.6" fill="#ef4141" />
<circle cx="1722.9" cy="287.5" r="15.6" fill="#ef4141" />
<circle cx="1716.8" cy="286.3" r="15.6" fill="#ef4141" />
<circle cx="1710.8" cy="287" r="15.6" fill="#ef4141" />
<circle cx="1704.8" cy="286.5" r="15.6" fill="#ef4141" />
<circle cx="1698.7" cy="286.5" r="15.6" fill="#ef4141" />
<circle cx="1692.7" cy="286.1" r="15.6" fill="#ef4141" />
<circle cx="1686.7" cy="287.2" r="15.6" fill="#ef4141" />
<circle cx="1680.7" cy="287.3" r="15.6" fill="#ef4141" />
<circle cx="1674.6" cy="286.8" r="15.6" fill="#ef4141" />
<circle cx="1668.6" cy="286" r="15.6" fill="#ef4141" />
<circle cx="1662.6" cy="286.1" r="15.6" fill="#ef4141" />
<circle cx="1656.5" cy="286.8" r="15.6" fill="#ef4141" />
<circle cx="1650.5" cy="286.8" r="15.6" fill="#ef4141" />
<circle cx="1644.5" cy="287" r="15.6" fill="#ef4141" />
<circle cx="1638.4" cy="287.1" r="15.6" fill="#ef4141" />
<circle cx="1632.4" cy="287.2" r="15.6" fill="#ef4141" />
<circle cx="1626.4" cy="287.7" r="15.6" fill="#ef4141" />
<circle cx="1620.4" cy="287" r="15.6" fill="#ef4141" />
<circle cx="1614.3" cy="286.9" r="15.6" fill="#ef4141" />
<circle cx="1608.3" cy="285.9" r="15.6" fill="#ef4141" />
<circle cx="1602.3" cy="287.4" r="15.6" fill="#ef4141" />
<circle cx="1596.2" cy="288" r="15.6" fill="#ef4141" />
<circle cx="1590.2" cy="289.2" r="15.6" fill="#ef4141" />
<circle cx="1584.2" cy="288.8" r="15.6" fill="#ef4141" />
<circle cx="1578.1" cy="289.6" r="15.6" fill="#ef4141" />
<circle cx="1572.1" cy="290.4" r="15.6" fill="#ef4141" />
<circle cx="1566.1" cy="292.6" r="15.6" fill="#ef4141" />
<circle cx="1560.1" cy="294.4" r="15.6" fill="#ef4141" />
<circle cx="1553.6" cy="437.4" r="15.6" fill="#ef4141" />
<circle cx="1552.7" cy="520.8" r="15.6" fill="#ef4141" />
<circle cx="1546.6" cy="520.3" r="15.6" fill="#ef4141" />
<circle cx="1540.6" cy="520.2" r="15.6" fill="#ef4141" />
<circle cx="1534.5" cy="521.3" r="15.6" fill="#ef4141" />
<circle cx="1528.4" cy="522.1" r="15.6" fill="#ef4141" />
<circle cx="1522.4" cy="522.3" r="15.6" fill="#ef4141" />
<circle cx="1516.3" cy="521.3" r="15.6" fill="#ef4141" />
<circle cx="1510.2" cy="520.7" r="15.6" fill="#ef4141" />
<circle cx="1504.2" cy="521.8" r="15.6" fill="#ef4141" />
<circle cx="1498.1" cy="521.2" r="15.6" fill="#ef4141" />
<circle cx="1492.1" cy="521.6" r="15.6" fill="#ef4141" />
<circle cx="1486" cy="520.4" r="15.6" fill="#ef4141" />
<circle cx="1479.9" cy="522.2" r="15.6" fill="#ef4141" />
<circle cx="1473.9" cy="521.5" r="15.6" fill="#ef4141" />
<circle cx="1467.8" cy="521.9" r="15.6" fill="#ef4141" />
<circle cx="1461.7" cy="520.7" r="15.6" fill="#ef4141" />
<circle cx="1455.7" cy="520.7" r="15.6" fill="#ef4141" />
<circle cx="1449.6" cy="521.5" r="15.6" fill="#ef4141" />
<circle cx="1443.5" cy="522.6" r="15.6" fill="#ef4141" />
<circle cx="1437.5" cy="522.8" r="15.6" fill="#ef4141" />
<circle cx="1431.4" cy="521.8" r="15.6" fill="#ef4141" />
<circle cx="1425.4" cy="520.5" r="15.6" fill="#ef4141" />
<circle cx="1419.3" cy="520.5" r="15.6" fill="#ef4141" />
<circle cx="1413.2" cy="520.9" r="15.6" fill="#ef4141" />
<circle cx="1407.2" cy="521.8" r="15.6" fill="#ef4141" />
<circle cx="1401.1" cy="521.9" r="15.6" fill="#ef4141" />
<circle cx="1395" cy="521.4" r="15.6" fill="#ef4141" />
<circle cx="1389" cy="521.4" r="15.6" fill="#ef4141" />
<circle cx="1382.9" cy="521.4" r="15.6" fill="#ef4141" />
<circle cx="1376.8" cy="522.5" r="15.6" fill="#ef4141" />
<circle cx="1370.8" cy="523.4" r="15.6" fill="#ef4141" />
<circle cx="1364.7" cy="523.4" r="15.6" fill="#ef4141" />
<circle cx="1358.6" cy="522.4" r="15.6" fill="#ef4141" />
<circle cx="1352.6" cy="521.6" r="15.6" fill="#ef4141" />
<circle cx="1346.5" cy="521.3" r="15.6" fill="#ef4141" />
<circle cx="1340.5" cy="521.3" r="15.6" fill="#ef4141" />
<circle cx="1334.4" cy="521.3" r="15.6" fill="#ef4141" />
<circle cx="1328.3" cy="521.1" r="15.6" fill="#ef4141" />
<circle cx="1322.3" cy="521.8" r="15.6" fill="#ef4141" />
<circle cx="1316.2" cy="521.8" r="15.6" fill="#ef4141" />
<circle cx="1310.1" cy="522.3" r="15.6" fill="#ef4141" />
<circle cx="1304.1" cy="522" r="15.6" fill="#ef4141" />
<circle cx="1298" cy="521.7" r="15.6" fill="#ef4141" />
<circle cx="1291.9" cy="521.1" r="15.6" fill="#ef4141" />
<circle cx="1285.9" cy="521.1" r="15.6" fill="#ef4141" />
<circle cx="1279.8" cy="521.2" r="15.6" fill="#ef4141" />
<circle cx="1273.7" cy="521.7" r="15.6" fill="#ef4141" />
<circle cx="1267.7" cy="521.9" r="15.6" fill="#ef4141" />
<circle cx="1261.6" cy="521.5" r="15.6" fill="#ef4141" />
<circle cx="1255.6" cy="521.4" r="15.6" fill="#ef4141" />
<circle cx="1249.5" cy="520.8" r="15.6" fill="#ef4141" />
<circle cx="1243.4" cy="521.1" r="15.6" fill="#ef4141" />
<circle cx="1237.4" cy="521" r="15.6" fill="#ef4141" />
<circle cx="1231.3" cy="520.6" r="15.6" fill="#ef4141" />
<circle cx="1225.2" cy="520.9" r="15.6" fill="#ef4141" />
<circle cx="1219.2" cy="521.2" r="15.6" fill="#ef4141" />
<circle cx="1213.1" cy="522" r="15.6" fill="#ef4141" />
<circle cx="1207" cy="521.8" r="15.6" fill="#ef4141" />
<circle cx="1201" cy="521.6" r="15.6" fill="#ef4141" />
<circle cx="1194.9" cy="521.2" r="15.6" fill="#ef4141" />
<circle cx="1188.8" cy="521.3" r="15.6" fill="#ef4141" />
<circle cx="1182.8" cy="521.2" r="15.6" fill="#ef4141" />
<circle cx="1176.7" cy="521.6" r="15.6" fill="#ef4141" />
</g>
<g clip-path="url(#cb)">
<polyline points="1176.7,486.2 1182.8,486.5 1188.8,486.5 1194.9,487.8 1200.9,487 1207,487.5 1213,485.7 1219.1,486.7 1225.1,486.4 1231.2,488.6 1237.2,488.6 1243.3,487.5 1249.3,486.9 1255.4,487.2 1261.4,488.4 1267.5,489 1273.5,486.5 1279.6,486.6 1285.7,487.7 1291.7,490.6 1297.8,490.3 1303.8,487.1 1309.9,487.1 1315.9,486.6 1322,485.5 1328,484.8 1334.1,483.3 1340.1,484.7 1346.2,483.5 1352.2,486.7 1358.3,487.8 1364.3,488.9 1370.4,489.4 1376.4,491.7 1382.5,491.2 1388.5,488.9 1394.6,485.6 1400.6,485 1406.7,485.7 1412.7,487.6 1418.8,488.6 1424.8,489.2 1430.9,487.9 1436.9,487.7 1443,487.4 1449,489 1455.1,490.3 1461.2,489.9 1467.2,488.8 1473.3,488 1479.3,486.4 1485.4,484.9 1491.4,485.1 1497.5,486.2 1503.5,488.5 1509.6,485.8 1515.6,485.5 1521.7,484.4 1527.7,485.4 1533.8,483.2 1539.8,483.5 1545.9,485.5 1551.9,488.6 1558,488.3 1564,487.2 1570.1,487.7 1576.1,485.2 1582.2,485 1588.2,484.8 1594.3,488.8 1600.3,490.9 1606.4,491.6 1612.4,491.1 1618.5,489.5 1624.5,488.2 1625,321.8 1631,321.7 1637.1,321.9 1643.1,324.8 1649.2,324.6 1655.2,323.5 1661.3,321.5 1667.3,323.2 1673.4,323.2 1679.4,324.7 1685.5,322 1691.5,321.9 1697.6,319.9 1703.6,322 1709.7,323.4 1715.7,321.9 1721.8,319.9 1727.8,319.1 1733.9,320.1 1740,319.4 1746,320.2 1752.1,321.5 1758.1,323.8 1764.2,322.1 1770.2,322.7 1776.3,321.9 1782.3,323.7 1788.4,321.4 1794.4,320.7 1800.5,319.7 1806.5,319.9 1812.6,321.7 1818.6,321.8 1824.7,321.5 1830.7,320.8 1836.8,320.1 1842.9,322.2 1848.9,321.4 1855,321.3 1861,321.7 1867.1,325 1873.1,327.8 1879.2,326.5 1885.2,324.1 1891.3,323.6 1897.3,323.4 1903.4,322 1909.4,320.4 1915.5,321 1921.5,321.2 1927.6,319.2 1933.6,317 1939.7,318.7 1945.8,319.7 1951.8,321.2 1957.9,320.7 1963.9,322.3 1970,322.1 1976,322.4 1982.1,320.7 1988.1,320.6 1994.2,318.9 2000.2,321.2 2006.3,321.6" fill="none" stroke="#1b6fdc" stroke-width="7" stroke-linejoin="round" stroke-linecap="round" />
<circle cx="1176.7" cy="486.2" r="15.6" fill="#1b6fdc" />
<circle cx="1182.8" cy="486.5" r="15.6" fill="#1b6fdc" />
<circle cx="1188.8" cy="486.5" r="15.6" fill="#1b6fdc" />
<circle cx="1194.9" cy="487.8" r="15.6" fill="#1b6fdc" />
<circle cx="1200.9" cy="487" r="15.6" fill="#1b6fdc" />
<circle cx="1207" cy="487.5" r="15.6" fill="#1b6fdc" />
<circle cx="1213" cy="485.7" r="15.6" fill="#1b6fdc" />
<circle cx="1219.1" cy="486.7" r="15.6" fill="#1b6fdc" />
<circle cx="1225.1" cy="486.4" r="15.6" fill="#1b6fdc" />
<circle cx="1231.2" cy="488.6" r="15.6" fill="#1b6fdc" />
<circle cx="1237.2" cy="488.6" r="15.6" fill="#1b6fdc" />
<circle cx="1243.3" cy="487.5" r="15.6" fill="#1b6fdc" />
<circle cx="1249.3" cy="486.9" r="15.6" fill="#1b6fdc" />
<circle cx="1255.4" cy="487.2" r="15.6" fill="#1b6fdc" />
<circle cx="1261.4" cy="488.4" r="15.6" fill="#1b6fdc" />
<circle cx="1267.5" cy="489" r="15.6" fill="#1b6fdc" />
<circle cx="1273.5" cy="486.5" r="15.6" fill="#1b6fdc" />
<circle cx="1279.6" cy="486.6" r="15.6" fill="#1b6fdc" />
<circle cx="1285.7" cy="487.7" r="15.6" fill="#1b6fdc" />
<circle cx="1291.7" cy="490.6" r="15.6" fill="#1b6fdc" />
<circle cx="1297.8" cy="490.3" r="15.6" fill="#1b6fdc" />
<circle cx="1303.8" cy="487.1" r="15.6" fill="#1b6fdc" />
<circle cx="1309.9" cy="487.1" r="15.6" fill="#1b6fdc" />
<circle cx="1315.9" cy="486.6" r="15.6" fill="#1b6fdc" />
<circle cx="1322" cy="485.5" r="15.6" fill="#1b6fdc" />
<circle cx="1328" cy="484.8" r="15.6" fill="#1b6fdc" />
<circle cx="1334.1" cy="483.3" r="15.6" fill="#1b6fdc" />
<circle cx="1340.1" cy="484.7" r="15.6" fill="#1b6fdc" />
<circle cx="1346.2" cy="483.5" r="15.6" fill="#1b6fdc" />
<circle cx="1352.2" cy="486.7" r="15.6" fill="#1b6fdc" />
<circle cx="1358.3" cy="487.8" r="15.6" fill="#1b6fdc" />
<circle cx="1364.3" cy="488.9" r="15.6" fill="#1b6fdc" />
<circle cx="1370.4" cy="489.4" r="15.6" fill="#1b6fdc" />
<circle cx="1376.4" cy="491.7" r="15.6" fill="#1b6fdc" />
<circle cx="1382.5" cy="491.2" r="15.6" fill="#1b6fdc" />
<circle cx="1388.5" cy="488.9" r="15.6" fill="#1b6fdc" />
<circle cx="1394.6" cy="485.6" r="15.6" fill="#1b6fdc" />
<circle cx="1400.6" cy="485" r="15.6" fill="#1b6fdc" />
<circle cx="1406.7" cy="485.7" r="15.6" fill="#1b6fdc" />
<circle cx="1412.7" cy="487.6" r="15.6" fill="#1b6fdc" />
<circle cx="1418.8" cy="488.6" r="15.6" fill="#1b6fdc" />
<circle cx="1424.8" cy="489.2" r="15.6" fill="#1b6fdc" />
<circle cx="1430.9" cy="487.9" r="15.6" fill="#1b6fdc" />
<circle cx="1436.9" cy="487.7" r="15.6" fill="#1b6fdc" />
<circle cx="1443" cy="487.4" r="15.6" fill="#1b6fdc" />
<circle cx="1449" cy="489" r="15.6" fill="#1b6fdc" />
<circle cx="1455.1" cy="490.3" r="15.6" fill="#1b6fdc" />
<circle cx="1461.2" cy="489.9" r="15.6" fill="#1b6fdc" />
<circle cx="1467.2" cy="488.8" r="15.6" fill="#1b6fdc" />
<circle cx="1473.3" cy="488" r="15.6" fill="#1b6fdc" />
<circle cx="1479.3" cy="486.4" r="15.6" fill="#1b6fdc" />
<circle cx="1485.4" cy="484.9" r="15.6" fill="#1b6fdc" />
<circle cx="1491.4" cy="485.1" r="15.6" fill="#1b6fdc" />
<circle cx="1497.5" cy="486.2" r="15.6" fill="#1b6fdc" />
<circle cx="1503.5" cy="488.5" r="15.6" fill="#1b6fdc" />
<circle cx="1509.6" cy="485.8" r="15.6" fill="#1b6fdc" />
<circle cx="1515.6" cy="485.5" r="15.6" fill="#1b6fdc" />
<circle cx="1521.7" cy="484.4" r="15.6" fill="#1b6fdc" />
<circle cx="1527.7" cy="485.4" r="15.6" fill="#1b6fdc" />
<circle cx="1533.8" cy="483.2" r="15.6" fill="#1b6fdc" />
<circle cx="1539.8" cy="483.5" r="15.6" fill="#1b6fdc" />
<circle cx="1545.9" cy="485.5" r="15.6" fill="#1b6fdc" />
<circle cx="1551.9" cy="488.6" r="15.6" fill="#1b6fdc" />
<circle cx="1558" cy="488.3" r="15.6" fill="#1b6fdc" />
<circle cx="1564" cy="487.2" r="15.6" fill="#1b6fdc" />
<circle cx="1570.1" cy="487.7" r="15.6" fill="#1b6fdc" />
<circle cx="1576.1" cy="485.2" r="15.6" fill="#1b6fdc" />
<circle cx="1582.2" cy="485" r="15.6" fill="#1b6fdc" />
<circle cx="1588.2" cy="484.8" r="15.6" fill="#1b6fdc" />
<circle cx="1594.3" cy="488.8" r="15.6" fill="#1b6fdc" />
<circle cx="1600.3" cy="490.9" r="15.6" fill="#1b6fdc" />
<circle cx="1606.4" cy="491.6" r="15.6" fill="#1b6fdc" />
<circle cx="1612.4" cy="491.1" r="15.6" fill="#1b6fdc" />
<circle cx="1618.5" cy="489.5" r="15.6" fill="#1b6fdc" />
<circle cx="1624.5" cy="488.2" r="15.6" fill="#1b6fdc" />
<circle cx="1625" cy="321.8" r="15.6" fill="#1b6fdc" />
<circle cx="1631" cy="321.7" r="15.6" fill="#1b6fdc" />
<circle cx="1637.1" cy="321.9" r="15.6" fill="#1b6fdc" />
<circle cx="1643.1" cy="324.8" r="15.6" fill="#1b6fdc" />
<circle cx="1649.2" cy="324.6" r="15.6" fill="#1b6fdc" />
<circle cx="1655.2" cy="323.5" r="15.6" fill="#1b6fdc" />
<circle cx="1661.3" cy="321.5" r="15.6" fill="#1b6fdc" />
<circle cx="1667.3" cy="323.2" r="15.6" fill="#1b6fdc" />
<circle cx="1673.4" cy="323.2" r="15.6" fill="#1b6fdc" />
<circle cx="1679.4" cy="324.7" r="15.6" fill="#1b6fdc" />
<circle cx="1685.5" cy="322" r="15.6" fill="#1b6fdc" />
<circle cx="1691.5" cy="321.9" r="15.6" fill="#1b6fdc" />
<circle cx="1697.6" cy="319.9" r="15.6" fill="#1b6fdc" />
<circle cx="1703.6" cy="322" r="15.6" fill="#1b6fdc" />
<circle cx="1709.7" cy="323.4" r="15.6" fill="#1b6fdc" />
<circle cx="1715.7" cy="321.9" r="15.6" fill="#1b6fdc" />
<circle cx="1721.8" cy="319.9" r="15.6" fill="#1b6fdc" />
<circle cx="1727.8" cy="319.1" r="15.6" fill="#1b6fdc" />
<circle cx="1733.9" cy="320.1" r="15.6" fill="#1b6fdc" />
<circle cx="1740" cy="319.4" r="15.6" fill="#1b6fdc" />
<circle cx="1746" cy="320.2" r="15.6" fill="#1b6fdc" />
<circle cx="1752.1" cy="321.5" r="15.6" fill="#1b6fdc" />
<circle cx="1758.1" cy="323.8" r="15.6" fill="#1b6fdc" />
<circle cx="1764.2" cy="322.1" r="15.6" fill="#1b6fdc" />
<circle cx="1770.2" cy="322.7" r="15.6" fill="#1b6fdc" />
<circle cx="1776.3" cy="321.9" r="15.6" fill="#1b6fdc" />
<circle cx="1782.3" cy="323.7" r="15.6" fill="#1b6fdc" />
<circle cx="1788.4" cy="321.4" r="15.6" fill="#1b6fdc" />
<circle cx="1794.4" cy="320.7" r="15.6" fill="#1b6fdc" />
<circle cx="1800.5" cy="319.7" r="15.6" fill="#1b6fdc" />
<circle cx="1806.5" cy="319.9" r="15.6" fill="#1b6fdc" />
<circle cx="1812.6" cy="321.7" r="15.6" fill="#1b6fdc" />
<circle cx="1818.6" cy="321.8" r="15.6" fill="#1b6fdc" />
<circle cx="1824.7" cy="321.5" r="15.6" fill="#1b6fdc" />
<circle cx="1830.7" cy="320.8" r="15.6" fill="#1b6fdc" />
<circle cx="1836.8" cy="320.1" r="15.6" fill="#1b6fdc" />
<circle cx="1842.9" cy="322.2" r="15.6" fill="#1b6fdc" />
<circle cx="1848.9" cy="321.4" r="15.6" fill="#1b6fdc" />
<circle cx="1855" cy="321.3" r="15.6" fill="#1b6fdc" />
<circle cx="1861" cy="321.7" r="15.6" fill="#1b6fdc" />
<circle cx="1867.1" cy="325" r="15.6" fill="#1b6fdc" />
<circle cx="1873.1" cy="327.8" r="15.6" fill="#1b6fdc" />
<circle cx="1879.2" cy="326.5" r="15.6" fill="#1b6fdc" />
<circle cx="1885.2" cy="324.1" r="15.6" fill="#1b6fdc" />
<circle cx="1891.3" cy="323.6" r="15.6" fill="#1b6fdc" />
<circle cx="1897.3" cy="323.4" r="15.6" fill="#1b6fdc" />
<circle cx="1903.4" cy="322" r="15.6" fill="#1b6fdc" />
<circle cx="1909.4" cy="320.4" r="15.6" fill="#1b6fdc" />
<circle cx="1915.5" cy="321" r="15.6" fill="#1b6fdc" />
<circle cx="1921.5" cy="321.2" r="15.6" fill="#1b6fdc" />
<circle cx="1927.6" cy="319.2" r="15.6" fill="#1b6fdc" />
<circle cx="1933.6" cy="317" r="15.6" fill="#1b6fdc" />
<circle cx="1939.7" cy="318.7" r="15.6" fill="#1b6fdc" />
<circle cx="1945.8" cy="319.7" r="15.6" fill="#1b6fdc" />
<circle cx="1951.8" cy="321.2" r="15.6" fill="#1b6fdc" />
<circle cx="1957.9" cy="320.7" r="15.6" fill="#1b6fdc" />
<circle cx="1963.9" cy="322.3" r="15.6" fill="#1b6fdc" />
<circle cx="1970" cy="322.1" r="15.6" fill="#1b6fdc" />
<circle cx="1976" cy="322.4" r="15.6" fill="#1b6fdc" />
<circle cx="1982.1" cy="320.7" r="15.6" fill="#1b6fdc" />
<circle cx="1988.1" cy="320.6" r="15.6" fill="#1b6fdc" />
<circle cx="1994.2" cy="318.9" r="15.6" fill="#1b6fdc" />
<circle cx="2000.2" cy="321.2" r="15.6" fill="#1b6fdc" />
<circle cx="2006.3" cy="321.6" r="15.6" fill="#1b6fdc" />
</g>
<g clip-path="url(#cb)">
<polyline points="2006.3,320.6 2000.2,320.2 1994.2,320 1988.1,321.6 1982,320.2 1976,319.3 1969.9,318 1963.9,322.8 1957.8,325.1 1951.7,325.4 1945.7,323.3 1939.6,324.6 1933.6,324.4 1927.5,323.2 1921.4,322.2 1915.4,323 1909.3,324.2 1903.3,322.3 1897.2,323.9 1891.1,325.1 1885.1,326.3 1879,324.9 1873,320.6 1866.9,320.7 1860.9,319.7 1854.8,322.5 1848.7,322.6 1842.7,322.4 1836.6,319.9 1830.6,319.6 1824.5,319.1 1818.4,320.7 1812.4,319.6 1806.3,320 1800.3,317.7 1794.2,319.8 1788.1,320.5 1782.1,324.5 1776,325.4 1770,325.1 1763.9,321.7 1757.8,318.4 1751.8,317 1745.7,318.5 1739.7,319.6 1733.6,318.7 1727.5,319.7 1721.5,317.8 1715.4,320.5 1709.4,320 1703.3,321.4 1697.2,320.9 1691.2,320.4 1685.1,320.1 1679.1,318.2 1673,318.8 1666.9,321.7 1660.9,325.9 1654.8,327.4 1648.8,326.1 1642.7,323.1 1636.7,323.2 1630.6,322.3 1624.5,323 1618.5,321 1612.4,321.2 1606.4,320.8 1600.3,321 1594.2,319.6 1588.2,319.7 1582.1,322.4 1576.1,323.6 1570,323.8 1563.9,321.1 1563.9,488.9 1557.9,487.6 1551.8,486.8 1545.8,487 1539.7,488.6 1533.7,489 1527.6,489.7 1521.6,488.7 1515.5,488.6 1509.5,486.2 1503.4,488.7 1497.4,486.4 1491.3,486.2 1485.3,483.9 1479.2,486.9 1473.2,488.4 1467.1,490.6 1461.1,488 1455,488.2 1449,486.2 1442.9,487.3 1436.9,487 1430.8,486.3 1424.8,484.7 1418.7,483.6 1412.7,482.9 1406.6,484.6 1400.6,485.5 1394.5,487.5 1388.5,490.1 1382.4,489.5 1376.4,487.3 1370.3,484.6 1364.3,483.8 1358.2,484.2 1352.2,485.5 1346.1,485.9 1340.1,485 1334,485.3 1328,485.9 1321.9,488.6 1315.9,487.9 1309.8,488.8 1303.8,488.4 1297.7,489.7 1291.7,489.5 1285.6,489.9 1279.6,488.9 1273.5,486.7 1267.5,486.1 1261.4,485.3 1255.4,487.3 1249.3,485.9 1243.3,488.1 1237.2,487.9 1231.2,488.1 1225.1,484.2 1219.1,483.8 1213,485.1 1207,486.2 1200.9,486.7 1194.9,486 1188.8,487.5 1182.8,486.6 1176.7,487.3" fill="none" stroke="#1b6fdc" stroke-width="7" stroke-linejoin="round" stroke-linecap="round" />
<circle cx="2006.3" cy="320.6" r="15.6" fill="#1b6fdc" />
<circle cx="2000.2" cy="320.2" r="15.6" fill="#1b6fdc" />
<circle cx="1994.2" cy="320" r="15.6" fill="#1b6fdc" />
<circle cx="1988.1" cy="321.6" r="15.6" fill="#1b6fdc" />
<circle cx="1982" cy="320.2" r="15.6" fill="#1b6fdc" />
<circle cx="1976" cy="319.3" r="15.6" fill="#1b6fdc" />
<circle cx="1969.9" cy="318" r="15.6" fill="#1b6fdc" />
<circle cx="1963.9" cy="322.8" r="15.6" fill="#1b6fdc" />
<circle cx="1957.8" cy="325.1" r="15.6" fill="#1b6fdc" />
<circle cx="1951.7" cy="325.4" r="15.6" fill="#1b6fdc" />
<circle cx="1945.7" cy="323.3" r="15.6" fill="#1b6fdc" />
<circle cx="1939.6" cy="324.6" r="15.6" fill="#1b6fdc" />
<circle cx="1933.6" cy="324.4" r="15.6" fill="#1b6fdc" />
<circle cx="1927.5" cy="323.2" r="15.6" fill="#1b6fdc" />
<circle cx="1921.4" cy="322.2" r="15.6" fill="#1b6fdc" />
<circle cx="1915.4" cy="323" r="15.6" fill="#1b6fdc" />
<circle cx="1909.3" cy="324.2" r="15.6" fill="#1b6fdc" />
<circle cx="1903.3" cy="322.3" r="15.6" fill="#1b6fdc" />
<circle cx="1897.2" cy="323.9" r="15.6" fill="#1b6fdc" />
<circle cx="1891.1" cy="325.1" r="15.6" fill="#1b6fdc" />
<circle cx="1885.1" cy="326.3" r="15.6" fill="#1b6fdc" />
<circle cx="1879" cy="324.9" r="15.6" fill="#1b6fdc" />
<circle cx="1873" cy="320.6" r="15.6" fill="#1b6fdc" />
<circle cx="1866.9" cy="320.7" r="15.6" fill="#1b6fdc" />
<circle cx="1860.9" cy="319.7" r="15.6" fill="#1b6fdc" />
<circle cx="1854.8" cy="322.5" r="15.6" fill="#1b6fdc" />
<circle cx="1848.7" cy="322.6" r="15.6" fill="#1b6fdc" />
<circle cx="1842.7" cy="322.4" r="15.6" fill="#1b6fdc" />
<circle cx="1836.6" cy="319.9" r="15.6" fill="#1b6fdc" />
<circle cx="1830.6" cy="319.6" r="15.6" fill="#1b6fdc" />
<circle cx="1824.5" cy="319.1" r="15.6" fill="#1b6fdc" />
<circle cx="1818.4" cy="320.7" r="15.6" fill="#1b6fdc" />
<circle cx="1812.4" cy="319.6" r="15.6" fill="#1b6fdc" />
<circle cx="1806.3" cy="320" r="15.6" fill="#1b6fdc" />
<circle cx="1800.3" cy="317.7" r="15.6" fill="#1b6fdc" />
<circle cx="1794.2" cy="319.8" r="15.6" fill="#1b6fdc" />
<circle cx="1788.1" cy="320.5" r="15.6" fill="#1b6fdc" />
<circle cx="1782.1" cy="324.5" r="15.6" fill="#1b6fdc" />
<circle cx="1776" cy="325.4" r="15.6" fill="#1b6fdc" />
<circle cx="1770" cy="325.1" r="15.6" fill="#1b6fdc" />
<circle cx="1763.9" cy="321.7" r="15.6" fill="#1b6fdc" />
<circle cx="1757.8" cy="318.4" r="15.6" fill="#1b6fdc" />
<circle cx="1751.8" cy="317" r="15.6" fill="#1b6fdc" />
<circle cx="1745.7" cy="318.5" r="15.6" fill="#1b6fdc" />
<circle cx="1739.7" cy="319.6" r="15.6" fill="#1b6fdc" />
<circle cx="1733.6" cy="318.7" r="15.6" fill="#1b6fdc" />
<circle cx="1727.5" cy="319.7" r="15.6" fill="#1b6fdc" />
<circle cx="1721.5" cy="317.8" r="15.6" fill="#1b6fdc" />
<circle cx="1715.4" cy="320.5" r="15.6" fill="#1b6fdc" />
<circle cx="1709.4" cy="320" r="15.6" fill="#1b6fdc" />
<circle cx="1703.3" cy="321.4" r="15.6" fill="#1b6fdc" />
<circle cx="1697.2" cy="320.9" r="15.6" fill="#1b6fdc" />
<circle cx="1691.2" cy="320.4" r="15.6" fill="#1b6fdc" />
<circle cx="1685.1" cy="320.1" r="15.6" fill="#1b6fdc" />
<circle cx="1679.1" cy="318.2" r="15.6" fill="#1b6fdc" />
<circle cx="1673" cy="318.8" r="15.6" fill="#1b6fdc" />
<circle cx="1666.9" cy="321.7" r="15.6" fill="#1b6fdc" />
<circle cx="1660.9" cy="325.9" r="15.6" fill="#1b6fdc" />
<circle cx="1654.8" cy="327.4" r="15.6" fill="#1b6fdc" />
<circle cx="1648.8" cy="326.1" r="15.6" fill="#1b6fdc" />
<circle cx="1642.7" cy="323.1" r="15.6" fill="#1b6fdc" />
<circle cx="1636.7" cy="323.2" r="15.6" fill="#1b6fdc" />
<circle cx="1630.6" cy="322.3" r="15.6" fill="#1b6fdc" />
<circle cx="1624.5" cy="323" r="15.6" fill="#1b6fdc" />
<circle cx="1618.5" cy="321" r="15.6" fill="#1b6fdc" />
<circle cx="1612.4" cy="321.2" r="15.6" fill="#1b6fdc" />
<circle cx="1606.4" cy="320.8" r="15.6" fill="#1b6fdc" />
<circle cx="1600.3" cy="321" r="15.6" fill="#1b6fdc" />
<circle cx="1594.2" cy="319.6" r="15.6" fill="#1b6fdc" />
<circle cx="1588.2" cy="319.7" r="15.6" fill="#1b6fdc" />
<circle cx="1582.1" cy="322.4" r="15.6" fill="#1b6fdc" />
<circle cx="1576.1" cy="323.6" r="15.6" fill="#1b6fdc" />
<circle cx="1570" cy="323.8" r="15.6" fill="#1b6fdc" />
<circle cx="1563.9" cy="321.1" r="15.6" fill="#1b6fdc" />
<circle cx="1563.9" cy="488.9" r="15.6" fill="#1b6fdc" />
<circle cx="1557.9" cy="487.6" r="15.6" fill="#1b6fdc" />
<circle cx="1551.8" cy="486.8" r="15.6" fill="#1b6fdc" />
<circle cx="1545.8" cy="487" r="15.6" fill="#1b6fdc" />
<circle cx="1539.7" cy="488.6" r="15.6" fill="#1b6fdc" />
<circle cx="1533.7" cy="489" r="15.6" fill="#1b6fdc" />
<circle cx="1527.6" cy="489.7" r="15.6" fill="#1b6fdc" />
<circle cx="1521.6" cy="488.7" r="15.6" fill="#1b6fdc" />
<circle cx="1515.5" cy="488.6" r="15.6" fill="#1b6fdc" />
<circle cx="1509.5" cy="486.2" r="15.6" fill="#1b6fdc" />
<circle cx="1503.4" cy="488.7" r="15.6" fill="#1b6fdc" />
<circle cx="1497.4" cy="486.4" r="15.6" fill="#1b6fdc" />
<circle cx="1491.3" cy="486.2" r="15.6" fill="#1b6fdc" />
<circle cx="1485.3" cy="483.9" r="15.6" fill="#1b6fdc" />
<circle cx="1479.2" cy="486.9" r="15.6" fill="#1b6fdc" />
<circle cx="1473.2" cy="488.4" r="15.6" fill="#1b6fdc" />
<circle cx="1467.1" cy="490.6" r="15.6" fill="#1b6fdc" />
<circle cx="1461.1" cy="488" r="15.6" fill="#1b6fdc" />
<circle cx="1455" cy="488.2" r="15.6" fill="#1b6fdc" />
<circle cx="1449" cy="486.2" r="15.6" fill="#1b6fdc" />
<circle cx="1442.9" cy="487.3" r="15.6" fill="#1b6fdc" />
<circle cx="1436.9" cy="487" r="15.6" fill="#1b6fdc" />
<circle cx="1430.8" cy="486.3" r="15.6" fill="#1b6fdc" />
<circle cx="1424.8" cy="484.7" r="15.6" fill="#1b6fdc" />
<circle cx="1418.7" cy="483.6" r="15.6" fill="#1b6fdc" />
<circle cx="1412.7" cy="482.9" r="15.6" fill="#1b6fdc" />
<circle cx="1406.6" cy="484.6" r="15.6" fill="#1b6fdc" />
<circle cx="1400.6" cy="485.5" r="15.6" fill="#1b6fdc" />
<circle cx="1394.5" cy="487.5" r="15.6" fill="#1b6fdc" />
<circle cx="1388.5" cy="490.1" r="15.6" fill="#1b6fdc" />
<circle cx="1382.4" cy="489.5" r="15.6" fill="#1b6fdc" />
<circle cx="1376.4" cy="487.3" r="15.6" fill="#1b6fdc" />
<circle cx="1370.3" cy="484.6" r="15.6" fill="#1b6fdc" />
<circle cx="1364.3" cy="483.8" r="15.6" fill="#1b6fdc" />
<circle cx="1358.2" cy="484.2" r="15.6" fill="#1b6fdc" />
<circle cx="1352.2" cy="485.5" r="15.6" fill="#1b6fdc" />
<circle cx="1346.1" cy="485.9" r="15.6" fill="#1b6fdc" />
<circle cx="1340.1" cy="485" r="15.6" fill="#1b6fdc" />
<circle cx="1334" cy="485.3" r="15.6" fill="#1b6fdc" />
<circle cx="1328" cy="485.9" r="15.6" fill="#1b6fdc" />
<circle cx="1321.9" cy="488.6" r="15.6" fill="#1b6fdc" />
<circle cx="1315.9" cy="487.9" r="15.6" fill="#1b6fdc" />
<circle cx="1309.8" cy="488.8" r="15.6" fill="#1b6fdc" />
<circle cx="1303.8" cy="488.4" r="15.6" fill="#1b6fdc" />
<circle cx="1297.7" cy="489.7" r="15.6" fill="#1b6fdc" />
<circle cx="1291.7" cy="489.5" r="15.6" fill="#1b6fdc" />
<circle cx="1285.6" cy="489.9" r="15.6" fill="#1b6fdc" />
<circle cx="1279.6" cy="488.9" r="15.6" fill="#1b6fdc" />
<circle cx="1273.5" cy="486.7" r="15.6" fill="#1b6fdc" />
<circle cx="1267.5" cy="486.1" r="15.6" fill="#1b6fdc" />
<circle cx="1261.4" cy="485.3" r="15.6" fill="#1b6fdc" />
<circle cx="1255.4" cy="487.3" r="15.6" fill="#1b6fdc" />
<circle cx="1249.3" cy="485.9" r="15.6" fill="#1b6fdc" />
<circle cx="1243.3" cy="488.1" r="15.6" fill="#1b6fdc" />
<circle cx="1237.2" cy="487.9" r="15.6" fill="#1b6fdc" />
<circle cx="1231.2" cy="488.1" r="15.6" fill="#1b6fdc" />
<circle cx="1225.1" cy="484.2" r="15.6" fill="#1b6fdc" />
<circle cx="1219.1" cy="483.8" r="15.6" fill="#1b6fdc" />
<circle cx="1213" cy="485.1" r="15.6" fill="#1b6fdc" />
<circle cx="1207" cy="486.2" r="15.6" fill="#1b6fdc" />
<circle cx="1200.9" cy="486.7" r="15.6" fill="#1b6fdc" />
<circle cx="1194.9" cy="486" r="15.6" fill="#1b6fdc" />
<circle cx="1188.8" cy="487.5" r="15.6" fill="#1b6fdc" />
<circle cx="1182.8" cy="486.6" r="15.6" fill="#1b6fdc" />
<circle cx="1176.7" cy="487.3" r="15.6" fill="#1b6fdc" />
</g>
<line x1="1257" y1="83" x2="1257" y2="96" stroke="#000" stroke-width="8" stroke-linecap="butt" />
<line x1="1257" y1="730" x2="1257" y2="717" stroke="#000" stroke-width="8" stroke-linecap="butt" />
<line x1="1591.5" y1="83" x2="1591.5" y2="96" stroke="#000" stroke-width="8" stroke-linecap="butt" />
<line x1="1591.5" y1="730" x2="1591.5" y2="717" stroke="#000" stroke-width="8" stroke-linecap="butt" />
<line x1="1926" y1="83" x2="1926" y2="96" stroke="#000" stroke-width="8" stroke-linecap="butt" />
<line x1="1926" y1="730" x2="1926" y2="717" stroke="#000" stroke-width="8" stroke-linecap="butt" />
<line x1="1424.2" y1="83" x2="1424.2" y2="90" stroke="#000" stroke-width="8" stroke-linecap="butt" />
<line x1="1424.2" y1="730" x2="1424.2" y2="723" stroke="#000" stroke-width="8" stroke-linecap="butt" />
<line x1="1758.8" y1="83" x2="1758.8" y2="90" stroke="#000" stroke-width="8" stroke-linecap="butt" />
<line x1="1758.8" y1="730" x2="1758.8" y2="723" stroke="#000" stroke-width="8" stroke-linecap="butt" />
<line x1="1190" y1="119" x2="1203" y2="119" stroke="#000" stroke-width="8" stroke-linecap="butt" />
<line x1="1993" y1="119" x2="1980" y2="119" stroke="#000" stroke-width="8" stroke-linecap="butt" />
<line x1="1190" y1="406.5" x2="1203" y2="406.5" stroke="#000" stroke-width="8" stroke-linecap="butt" />
<line x1="1993" y1="406.5" x2="1980" y2="406.5" stroke="#000" stroke-width="8" stroke-linecap="butt" />
<line x1="1190" y1="694" x2="1203" y2="694" stroke="#000" stroke-width="8" stroke-linecap="butt" />
<line x1="1993" y1="694" x2="1980" y2="694" stroke="#000" stroke-width="8" stroke-linecap="butt" />
<line x1="1190" y1="262.7" x2="1197" y2="262.7" stroke="#000" stroke-width="8" stroke-linecap="butt" />
<line x1="1993" y1="262.7" x2="1986" y2="262.7" stroke="#000" stroke-width="8" stroke-linecap="butt" />
<line x1="1190" y1="550.3" x2="1197" y2="550.3" stroke="#000" stroke-width="8" stroke-linecap="butt" />
<line x1="1993" y1="550.3" x2="1986" y2="550.3" stroke="#000" stroke-width="8" stroke-linecap="butt" />
<rect x="1190" y="83" width="803" height="647" fill="none" stroke="#000" stroke-width="8" stroke-linejoin="miter"/>
<text x="1295.9" y="800.5" font-size="70" text-anchor="end"  style="">-25</text>
<text x="1591.5" y="800.5" font-size="70" text-anchor="middle"  style="">0</text>
<text x="1926" y="800.5" font-size="70" text-anchor="middle"  style="">25</text>
<text x="1172" y="144" font-size="70" text-anchor="end"  style="">0.8</text>
<text x="1172" y="431.6" font-size="70" text-anchor="end"  style="">0</text>
<text x="1172" y="719.1" font-size="70" text-anchor="end"  style="">-0.8</text>
<line x1="1214" y1="149.6" x2="1343.5" y2="149.6" stroke="#000" stroke-width="7" stroke-linecap="round" />
<circle cx="1278.4" cy="149.6" r="15.6" fill="#000" />
<line x1="1214" y1="233.7" x2="1343.5" y2="233.7" stroke="#ef4141" stroke-width="7" stroke-linecap="round" />
<circle cx="1278.4" cy="233.7" r="15.6" fill="#ef4141" />
<line x1="1214" y1="318.2" x2="1343.5" y2="318.2" stroke="#1b6fdc" stroke-width="7" stroke-linecap="round" />
<circle cx="1278.4" cy="318.2" r="15.6" fill="#1b6fdc" />
<text x="1351" y="161.8" font-size="63" text-anchor="start"  style="">RT</text>
<text x="1349.5" y="257.5" font-size="63" text-anchor="start"  style="">300 <tspan font-size="36" dy="-19.5">o</tspan><tspan dy="19.5">C</tspan></text>
<text x="1349.5" y="341.2" font-size="63" text-anchor="start"  style="">500 <tspan font-size="36" dy="-19.5">o</tspan><tspan dy="19.5">C</tspan></text>
<text x="1594" y="859.5" font-size="70" text-anchor="middle"  style=""><tspan font-style="italic">H</tspan><tspan font-size="44" dy="21">z</tspan><tspan dy="-21"> (Oe)</tspan></text>
<g transform="translate(1071,406.5) rotate(-90)">
<text x="0" y="0" font-size="70" text-anchor="middle"  style=""><tspan font-style="italic">R</tspan><tspan font-size="44" dy="21">H</tspan><tspan dy="-21"> (mΩ)</tspan></text>
</g>
<text x="965" y="105.5" font-size="70" text-anchor="start"  style="">(b)</text>
<clipPath id="cc"><rect x="203" y="905.5" width="809" height="647.5"/></clipPath>
<g clip-path="url(#cc)">
<polyline points="994.3,1081.7 990.8,1082.9 987.2,1082.5 983.7,1081.8 980.2,1080.2 976.7,1081.1 973.1,1080.8 969.6,1080.9 966.1,1080.6 962.5,1080.7 959,1080.5 955.5,1080.3 952,1079.7 948.4,1079.5 944.9,1079.6 941.4,1080.6 937.8,1081.2 934.3,1080.6 930.8,1080.3 927.3,1080.8 923.7,1081.8 920.2,1082 916.7,1081.3 913.1,1081.3 909.6,1081.1 906.1,1080.9 902.6,1080.3 899,1081.2 895.5,1081.9 892,1082.8 888.4,1081.9 884.9,1082.3 881.4,1081.4 877.9,1081.6 874.3,1082.3 870.8,1083 867.3,1082.8 863.7,1081.6 860.2,1081.4 856.7,1082.2 853.2,1082.1 849.6,1081.1 846.1,1080.4 842.6,1080.7 839.1,1081.5 835.5,1082.3 832,1082.4 828.5,1082.7 824.9,1081.6 821.4,1081.9 817.9,1082.5 814.4,1083.4 810.8,1083.1 807.3,1082.2 803.8,1082.7 800.2,1082.1 796.7,1082 793.2,1081.4 789.7,1082.2 786.1,1082.1 782.6,1082 779.1,1081.5 775.5,1081.8 772,1081.6 768.5,1081.2 765,1081.1 761.4,1081.6 757.9,1081.7 754.4,1081.6 750.8,1081.5 747.3,1081.5 743.8,1081.7 740.3,1080.9 736.7,1081.9 733.2,1082.9 729.7,1084.3 726.1,1083.7 722.6,1083 719.1,1082.1 715.6,1082.3 712,1082.7 708.5,1082 705,1082.5 701.5,1081.7 697.9,1083 694.4,1082.6 690.9,1082.3 687.3,1081.8 683.8,1082.1 680.3,1082.4 676.8,1082.5 673.2,1081.9 669.7,1080.9 666.2,1081.1 662.6,1081.7 659.1,1082.8 655.6,1082.4 652.1,1082.5 648.5,1082.3 645,1082.3 638,1090 633.5,1105 631.5,1120 621,1191.5 607,1255 606,1330 601,1356.2 597.6,1372 590.6,1405 585.4,1431 578,1444 570,1447.6 566.5,1448.1 562.9,1447.8 559.4,1448.5 555.9,1447.6 552.3,1447.7 548.8,1447.8 545.2,1448 541.7,1447.9 538.2,1447.2 534.6,1447.7 531.1,1448.8 527.6,1448.8 524,1448.5 520.5,1448.3 516.9,1448.2 513.4,1448.2 509.9,1447.9 506.3,1447.9 502.8,1447.5 499.3,1447.6 495.7,1447.8 492.2,1447.8 488.7,1447.6 485.1,1448.1 481.6,1448.4 478,1449 474.5,1449.1 471,1449.2 467.4,1449.9 463.9,1448.9 460.4,1449 456.8,1447.8 453.3,1449.1 449.8,1449.5 446.2,1448.7 442.7,1447.4 439.1,1447 435.6,1448.2 432.1,1449 428.5,1448.7 425,1448.5 421.5,1448.5 417.9,1448.5 414.4,1448.7 410.8,1447.4 407.3,1447.7 403.8,1446.8 400.2,1448.3 396.7,1447.9 393.2,1447.9 389.6,1447.7 386.1,1447.3 382.6,1447.3 379,1446.4 375.5,1446.8 371.9,1447.5 368.4,1448.7 364.9,1448.6 361.3,1448.9 357.8,1448.4 354.3,1448.4 350.7,1448.2 347.2,1448.7 343.7,1448.6 340.1,1448.2 336.6,1447.7 333,1447.9 329.5,1447.5 326,1448.1 322.4,1447.9 318.9,1448.5 315.4,1447.6 311.8,1448 308.3,1448 304.7,1448.2 301.2,1448.9 297.7,1448.9 294.1,1449.9 290.6,1449.4 287.1,1449 283.5,1448 280,1447.7 276.5,1448.1 272.9,1448.3 269.4,1447.9 265.8,1447.1 262.3,1446.9 258.8,1446 255.2,1447 251.7,1446.8 248.2,1447.5 244.6,1447.2 241.1,1447.7 237.6,1447.4 234,1446.7 230.5,1446 226.9,1445.8 223.4,1446.1 219.9,1447.3 216.3,1447.8 212.8,1448.5 209.3,1447.2 205.7,1447.8 202.2,1447.4 198.6,1448 195.1,1447.8" fill="none" stroke="#000" stroke-width="6.5" stroke-linejoin="round" stroke-linecap="round" />
<circle cx="994.3" cy="1081.7" r="13.3" fill="#000" />
<circle cx="990.8" cy="1082.9" r="13.3" fill="#000" />
<circle cx="987.2" cy="1082.5" r="13.3" fill="#000" />
<circle cx="983.7" cy="1081.8" r="13.3" fill="#000" />
<circle cx="980.2" cy="1080.2" r="13.3" fill="#000" />
<circle cx="976.7" cy="1081.1" r="13.3" fill="#000" />
<circle cx="973.1" cy="1080.8" r="13.3" fill="#000" />
<circle cx="969.6" cy="1080.9" r="13.3" fill="#000" />
<circle cx="966.1" cy="1080.6" r="13.3" fill="#000" />
<circle cx="962.5" cy="1080.7" r="13.3" fill="#000" />
<circle cx="959" cy="1080.5" r="13.3" fill="#000" />
<circle cx="955.5" cy="1080.3" r="13.3" fill="#000" />
<circle cx="952" cy="1079.7" r="13.3" fill="#000" />
<circle cx="948.4" cy="1079.5" r="13.3" fill="#000" />
<circle cx="944.9" cy="1079.6" r="13.3" fill="#000" />
<circle cx="941.4" cy="1080.6" r="13.3" fill="#000" />
<circle cx="937.8" cy="1081.2" r="13.3" fill="#000" />
<circle cx="934.3" cy="1080.6" r="13.3" fill="#000" />
<circle cx="930.8" cy="1080.3" r="13.3" fill="#000" />
<circle cx="927.3" cy="1080.8" r="13.3" fill="#000" />
<circle cx="923.7" cy="1081.8" r="13.3" fill="#000" />
<circle cx="920.2" cy="1082" r="13.3" fill="#000" />
<circle cx="916.7" cy="1081.3" r="13.3" fill="#000" />
<circle cx="913.1" cy="1081.3" r="13.3" fill="#000" />
<circle cx="909.6" cy="1081.1" r="13.3" fill="#000" />
<circle cx="906.1" cy="1080.9" r="13.3" fill="#000" />
<circle cx="902.6" cy="1080.3" r="13.3" fill="#000" />
<circle cx="899" cy="1081.2" r="13.3" fill="#000" />
<circle cx="895.5" cy="1081.9" r="13.3" fill="#000" />
<circle cx="892" cy="1082.8" r="13.3" fill="#000" />
<circle cx="888.4" cy="1081.9" r="13.3" fill="#000" />
<circle cx="884.9" cy="1082.3" r="13.3" fill="#000" />
<circle cx="881.4" cy="1081.4" r="13.3" fill="#000" />
<circle cx="877.9" cy="1081.6" r="13.3" fill="#000" />
<circle cx="874.3" cy="1082.3" r="13.3" fill="#000" />
<circle cx="870.8" cy="1083" r="13.3" fill="#000" />
<circle cx="867.3" cy="1082.8" r="13.3" fill="#000" />
<circle cx="863.7" cy="1081.6" r="13.3" fill="#000" />
<circle cx="860.2" cy="1081.4" r="13.3" fill="#000" />
<circle cx="856.7" cy="1082.2" r="13.3" fill="#000" />
<circle cx="853.2" cy="1082.1" r="13.3" fill="#000" />
<circle cx="849.6" cy="1081.1" r="13.3" fill="#000" />
<circle cx="846.1" cy="1080.4" r="13.3" fill="#000" />
<circle cx="842.6" cy="1080.7" r="13.3" fill="#000" />
<circle cx="839.1" cy="1081.5" r="13.3" fill="#000" />
<circle cx="835.5" cy="1082.3" r="13.3" fill="#000" />
<circle cx="832" cy="1082.4" r="13.3" fill="#000" />
<circle cx="828.5" cy="1082.7" r="13.3" fill="#000" />
<circle cx="824.9" cy="1081.6" r="13.3" fill="#000" />
<circle cx="821.4" cy="1081.9" r="13.3" fill="#000" />
<circle cx="817.9" cy="1082.5" r="13.3" fill="#000" />
<circle cx="814.4" cy="1083.4" r="13.3" fill="#000" />
<circle cx="810.8" cy="1083.1" r="13.3" fill="#000" />
<circle cx="807.3" cy="1082.2" r="13.3" fill="#000" />
<circle cx="803.8" cy="1082.7" r="13.3" fill="#000" />
<circle cx="800.2" cy="1082.1" r="13.3" fill="#000" />
<circle cx="796.7" cy="1082" r="13.3" fill="#000" />
<circle cx="793.2" cy="1081.4" r="13.3" fill="#000" />
<circle cx="789.7" cy="1082.2" r="13.3" fill="#000" />
<circle cx="786.1" cy="1082.1" r="13.3" fill="#000" />
<circle cx="782.6" cy="1082" r="13.3" fill="#000" />
<circle cx="779.1" cy="1081.5" r="13.3" fill="#000" />
<circle cx="775.5" cy="1081.8" r="13.3" fill="#000" />
<circle cx="772" cy="1081.6" r="13.3" fill="#000" />
<circle cx="768.5" cy="1081.2" r="13.3" fill="#000" />
<circle cx="765" cy="1081.1" r="13.3" fill="#000" />
<circle cx="761.4" cy="1081.6" r="13.3" fill="#000" />
<circle cx="757.9" cy="1081.7" r="13.3" fill="#000" />
<circle cx="754.4" cy="1081.6" r="13.3" fill="#000" />
<circle cx="750.8" cy="1081.5" r="13.3" fill="#000" />
<circle cx="747.3" cy="1081.5" r="13.3" fill="#000" />
<circle cx="743.8" cy="1081.7" r="13.3" fill="#000" />
<circle cx="740.3" cy="1080.9" r="13.3" fill="#000" />
<circle cx="736.7" cy="1081.9" r="13.3" fill="#000" />
<circle cx="733.2" cy="1082.9" r="13.3" fill="#000" />
<circle cx="729.7" cy="1084.3" r="13.3" fill="#000" />
<circle cx="726.1" cy="1083.7" r="13.3" fill="#000" />
<circle cx="722.6" cy="1083" r="13.3" fill="#000" />
<circle cx="719.1" cy="1082.1" r="13.3" fill="#000" />
<circle cx="715.6" cy="1082.3" r="13.3" fill="#000" />
<circle cx="712" cy="1082.7" r="13.3" fill="#000" />
<circle cx="708.5" cy="1082" r="13.3" fill="#000" />
<circle cx="705" cy="1082.5" r="13.3" fill="#000" />
<circle cx="701.5" cy="1081.7" r="13.3" fill="#000" />
<circle cx="697.9" cy="1083" r="13.3" fill="#000" />
<circle cx="694.4" cy="1082.6" r="13.3" fill="#000" />
<circle cx="690.9" cy="1082.3" r="13.3" fill="#000" />
<circle cx="687.3" cy="1081.8" r="13.3" fill="#000" />
<circle cx="683.8" cy="1082.1" r="13.3" fill="#000" />
<circle cx="680.3" cy="1082.4" r="13.3" fill="#000" />
<circle cx="676.8" cy="1082.5" r="13.3" fill="#000" />
<circle cx="673.2" cy="1081.9" r="13.3" fill="#000" />
<circle cx="669.7" cy="1080.9" r="13.3" fill="#000" />
<circle cx="666.2" cy="1081.1" r="13.3" fill="#000" />
<circle cx="662.6" cy="1081.7" r="13.3" fill="#000" />
<circle cx="659.1" cy="1082.8" r="13.3" fill="#000" />
<circle cx="655.6" cy="1082.4" r="13.3" fill="#000" />
<circle cx="652.1" cy="1082.5" r="13.3" fill="#000" />
<circle cx="648.5" cy="1082.3" r="13.3" fill="#000" />
<circle cx="645" cy="1082.3" r="13.3" fill="#000" />
<circle cx="638" cy="1090" r="13.3" fill="#000" />
<circle cx="633.5" cy="1105" r="13.3" fill="#000" />
<circle cx="631.5" cy="1120" r="13.3" fill="#000" />
<circle cx="621" cy="1191.5" r="13.3" fill="#000" />
<circle cx="601" cy="1356.2" r="13.3" fill="#000" />
<circle cx="597.6" cy="1372" r="13.3" fill="#000" />
<circle cx="590.6" cy="1405" r="13.3" fill="#000" />
<circle cx="585.4" cy="1431" r="13.3" fill="#000" />
<circle cx="578" cy="1444" r="13.3" fill="#000" />
<circle cx="570" cy="1447.6" r="13.3" fill="#000" />
<circle cx="566.5" cy="1448.1" r="13.3" fill="#000" />
<circle cx="562.9" cy="1447.8" r="13.3" fill="#000" />
<circle cx="559.4" cy="1448.5" r="13.3" fill="#000" />
<circle cx="555.9" cy="1447.6" r="13.3" fill="#000" />
<circle cx="552.3" cy="1447.7" r="13.3" fill="#000" />
<circle cx="548.8" cy="1447.8" r="13.3" fill="#000" />
<circle cx="545.2" cy="1448" r="13.3" fill="#000" />
<circle cx="541.7" cy="1447.9" r="13.3" fill="#000" />
<circle cx="538.2" cy="1447.2" r="13.3" fill="#000" />
<circle cx="534.6" cy="1447.7" r="13.3" fill="#000" />
<circle cx="531.1" cy="1448.8" r="13.3" fill="#000" />
<circle cx="527.6" cy="1448.8" r="13.3" fill="#000" />
<circle cx="524" cy="1448.5" r="13.3" fill="#000" />
<circle cx="520.5" cy="1448.3" r="13.3" fill="#000" />
<circle cx="516.9" cy="1448.2" r="13.3" fill="#000" />
<circle cx="513.4" cy="1448.2" r="13.3" fill="#000" />
<circle cx="509.9" cy="1447.9" r="13.3" fill="#000" />
<circle cx="506.3" cy="1447.9" r="13.3" fill="#000" />
<circle cx="502.8" cy="1447.5" r="13.3" fill="#000" />
<circle cx="499.3" cy="1447.6" r="13.3" fill="#000" />
<circle cx="495.7" cy="1447.8" r="13.3" fill="#000" />
<circle cx="492.2" cy="1447.8" r="13.3" fill="#000" />
<circle cx="488.7" cy="1447.6" r="13.3" fill="#000" />
<circle cx="485.1" cy="1448.1" r="13.3" fill="#000" />
<circle cx="481.6" cy="1448.4" r="13.3" fill="#000" />
<circle cx="478" cy="1449" r="13.3" fill="#000" />
<circle cx="474.5" cy="1449.1" r="13.3" fill="#000" />
<circle cx="471" cy="1449.2" r="13.3" fill="#000" />
<circle cx="467.4" cy="1449.9" r="13.3" fill="#000" />
<circle cx="463.9" cy="1448.9" r="13.3" fill="#000" />
<circle cx="460.4" cy="1449" r="13.3" fill="#000" />
<circle cx="456.8" cy="1447.8" r="13.3" fill="#000" />
<circle cx="453.3" cy="1449.1" r="13.3" fill="#000" />
<circle cx="449.8" cy="1449.5" r="13.3" fill="#000" />
<circle cx="446.2" cy="1448.7" r="13.3" fill="#000" />
<circle cx="442.7" cy="1447.4" r="13.3" fill="#000" />
<circle cx="439.1" cy="1447" r="13.3" fill="#000" />
<circle cx="435.6" cy="1448.2" r="13.3" fill="#000" />
<circle cx="432.1" cy="1449" r="13.3" fill="#000" />
<circle cx="428.5" cy="1448.7" r="13.3" fill="#000" />
<circle cx="425" cy="1448.5" r="13.3" fill="#000" />
<circle cx="421.5" cy="1448.5" r="13.3" fill="#000" />
<circle cx="417.9" cy="1448.5" r="13.3" fill="#000" />
<circle cx="414.4" cy="1448.7" r="13.3" fill="#000" />
<circle cx="410.8" cy="1447.4" r="13.3" fill="#000" />
<circle cx="407.3" cy="1447.7" r="13.3" fill="#000" />
<circle cx="403.8" cy="1446.8" r="13.3" fill="#000" />
<circle cx="400.2" cy="1448.3" r="13.3" fill="#000" />
<circle cx="396.7" cy="1447.9" r="13.3" fill="#000" />
<circle cx="393.2" cy="1447.9" r="13.3" fill="#000" />
<circle cx="389.6" cy="1447.7" r="13.3" fill="#000" />
<circle cx="386.1" cy="1447.3" r="13.3" fill="#000" />
<circle cx="382.6" cy="1447.3" r="13.3" fill="#000" />
<circle cx="379" cy="1446.4" r="13.3" fill="#000" />
<circle cx="375.5" cy="1446.8" r="13.3" fill="#000" />
<circle cx="371.9" cy="1447.5" r="13.3" fill="#000" />
<circle cx="368.4" cy="1448.7" r="13.3" fill="#000" />
<circle cx="364.9" cy="1448.6" r="13.3" fill="#000" />
<circle cx="361.3" cy="1448.9" r="13.3" fill="#000" />
<circle cx="357.8" cy="1448.4" r="13.3" fill="#000" />
<circle cx="354.3" cy="1448.4" r="13.3" fill="#000" />
<circle cx="350.7" cy="1448.2" r="13.3" fill="#000" />
<circle cx="347.2" cy="1448.7" r="13.3" fill="#000" />
<circle cx="343.7" cy="1448.6" r="13.3" fill="#000" />
<circle cx="340.1" cy="1448.2" r="13.3" fill="#000" />
<circle cx="336.6" cy="1447.7" r="13.3" fill="#000" />
<circle cx="333" cy="1447.9" r="13.3" fill="#000" />
<circle cx="329.5" cy="1447.5" r="13.3" fill="#000" />
<circle cx="326" cy="1448.1" r="13.3" fill="#000" />
<circle cx="322.4" cy="1447.9" r="13.3" fill="#000" />
<circle cx="318.9" cy="1448.5" r="13.3" fill="#000" />
<circle cx="315.4" cy="1447.6" r="13.3" fill="#000" />
<circle cx="311.8" cy="1448" r="13.3" fill="#000" />
<circle cx="308.3" cy="1448" r="13.3" fill="#000" />
<circle cx="304.7" cy="1448.2" r="13.3" fill="#000" />
<circle cx="301.2" cy="1448.9" r="13.3" fill="#000" />
<circle cx="297.7" cy="1448.9" r="13.3" fill="#000" />
<circle cx="294.1" cy="1449.9" r="13.3" fill="#000" />
<circle cx="290.6" cy="1449.4" r="13.3" fill="#000" />
<circle cx="287.1" cy="1449" r="13.3" fill="#000" />
<circle cx="283.5" cy="1448" r="13.3" fill="#000" />
<circle cx="280" cy="1447.7" r="13.3" fill="#000" />
<circle cx="276.5" cy="1448.1" r="13.3" fill="#000" />
<circle cx="272.9" cy="1448.3" r="13.3" fill="#000" />
<circle cx="269.4" cy="1447.9" r="13.3" fill="#000" />
<circle cx="265.8" cy="1447.1" r="13.3" fill="#000" />
<circle cx="262.3" cy="1446.9" r="13.3" fill="#000" />
<circle cx="258.8" cy="1446" r="13.3" fill="#000" />
<circle cx="255.2" cy="1447" r="13.3" fill="#000" />
<circle cx="251.7" cy="1446.8" r="13.3" fill="#000" />
<circle cx="248.2" cy="1447.5" r="13.3" fill="#000" />
<circle cx="244.6" cy="1447.2" r="13.3" fill="#000" />
<circle cx="241.1" cy="1447.7" r="13.3" fill="#000" />
<circle cx="237.6" cy="1447.4" r="13.3" fill="#000" />
<circle cx="234" cy="1446.7" r="13.3" fill="#000" />
<circle cx="230.5" cy="1446" r="13.3" fill="#000" />
<circle cx="226.9" cy="1445.8" r="13.3" fill="#000" />
<circle cx="223.4" cy="1446.1" r="13.3" fill="#000" />
<circle cx="219.9" cy="1447.3" r="13.3" fill="#000" />
<circle cx="216.3" cy="1447.8" r="13.3" fill="#000" />
<circle cx="212.8" cy="1448.5" r="13.3" fill="#000" />
<circle cx="209.3" cy="1447.2" r="13.3" fill="#000" />
<circle cx="205.7" cy="1447.8" r="13.3" fill="#000" />
<circle cx="202.2" cy="1447.4" r="13.3" fill="#000" />
<circle cx="198.6" cy="1448" r="13.3" fill="#000" />
<circle cx="195.1" cy="1447.8" r="13.3" fill="#000" />
</g>
<g clip-path="url(#cc)">
<polyline points="195.1,1449.1 198.6,1449.2 202.2,1449 205.7,1447.7 209.2,1447.9 212.8,1447.7 216.3,1448.5 219.8,1448.3 223.3,1449.2 226.9,1447.9 230.4,1447.8 233.9,1447.4 237.4,1448.1 241,1447.9 244.5,1447.3 248,1446.9 251.6,1447.3 255.1,1448.5 258.6,1449.7 262.1,1449.1 265.7,1447.6 269.2,1446.9 272.7,1447.9 276.3,1447.9 279.8,1447.8 283.3,1447.7 286.8,1448.5 290.4,1448.6 293.9,1447.7 297.4,1446.6 301,1446.4 304.5,1445.9 308,1447 311.5,1447 315.1,1448.3 318.6,1448.8 322.1,1449.6 325.6,1448.9 329.2,1448.4 332.7,1448.4 336.2,1448.6 339.8,1447.7 343.3,1447.2 346.8,1446.8 350.3,1447.9 353.9,1446.8 357.4,1447.1 360.9,1446.3 364.5,1447.3 368,1447.8 371.5,1448.1 375,1448.1 378.6,1448.6 382.1,1447.4 385.6,1447.5 389.2,1446.7 392.7,1447.7 396.2,1447.8 399.7,1447.7 403.3,1447.4 406.8,1447.6 410.3,1448.2 413.8,1448.2 417.4,1448.8 420.9,1449.7 424.4,1449.3 428,1448.5 431.5,1448.6 435,1449.7 438.5,1449.6 442.1,1448.4 445.6,1447.8 449.1,1447.6 452.7,1447.4 456.2,1448 459.7,1447.9 463.2,1448 466.8,1447.1 470.3,1447.2 473.8,1447 477.4,1447.5 480.9,1448 484.4,1448.6 487.9,1448.9 491.5,1448.6 495,1448.4 498.5,1448.1 502,1447.8 505.6,1448.1 509.1,1447.7 512.6,1448.5 516.2,1448.1 519.7,1448.3 523.2,1447.4 526.7,1447.1 530.3,1447.5 533.8,1447.4 537.3,1448.3 540.9,1447.8 544.4,1447.1 547.9,1446.3 551.4,1445.7 555,1446.7 558.5,1447.5 562,1448.8 565.6,1448.2 569.1,1447.3 572.6,1447.9 576.1,1448.6 579.7,1449 583.2,1448.6 586.7,1449.6 590.2,1450.2 593.8,1449.8 597.3,1448.8 600.8,1448.5 604.4,1448.2 607.9,1447.5 611.4,1447.3 614.9,1447.1 618.5,1447.6 622,1447.5 630,1445 637.6,1432.8 641.1,1416.3 651.5,1370 661.1,1248.1 667.7,1182.8 674.7,1119.3 682,1104.5 692,1090 700,1083 703.5,1082.6 707.1,1082.5 710.6,1081.3 714.2,1081.9 717.7,1082.4 721.3,1082.3 724.8,1081.7 728.4,1080.5 731.9,1080.2 735.5,1080.9 739,1081.6 742.5,1081.6 746.1,1081.2 749.6,1081.1 753.2,1081.8 756.7,1081.7 760.3,1081.6 763.8,1080.5 767.4,1080.3 770.9,1081.1 774.5,1080.9 778,1081.3 781.6,1080.6 785.1,1081.5 788.6,1081.3 792.2,1081.1 795.7,1081.3 799.3,1081.6 802.8,1080.8 806.4,1080.7 809.9,1080.3 813.5,1080.9 817,1081.1 820.6,1081.8 824.1,1082.4 827.6,1082.1 831.2,1082.2 834.7,1082.3 838.3,1083.1 841.8,1083.3 845.4,1082.7 848.9,1082.1 852.5,1081.8 856,1081.2 859.6,1081.4 863.1,1080.8 866.6,1081.2 870.2,1080.3 873.7,1080.1 877.3,1080.3 880.8,1081.5 884.4,1082.4 887.9,1082.3 891.5,1081.8 895,1081 898.6,1081.2 902.1,1081.2 905.7,1081.8 909.2,1082.4 912.7,1082.5 916.3,1081.5 919.8,1080.3 923.4,1079.7 926.9,1079.8 930.5,1080.8 934,1081.6 937.6,1081.4 941.1,1081.1 944.7,1081.6 948.2,1082.1 951.7,1081.5 955.3,1080.7 958.8,1081 962.4,1081.6 965.9,1082.3 969.5,1082.7 973,1083 976.6,1083.1 980.1,1082.8 983.7,1081.5 987.2,1080.8 990.7,1080.7 994.3,1081.4" fill="none" stroke="#000" stroke-width="6.5" stroke-linejoin="round" stroke-linecap="round" />
<circle cx="195.1" cy="1449.1" r="13.3" fill="#000" />
<circle cx="198.6" cy="1449.2" r="13.3" fill="#000" />
<circle cx="202.2" cy="1449" r="13.3" fill="#000" />
<circle cx="205.7" cy="1447.7" r="13.3" fill="#000" />
<circle cx="209.2" cy="1447.9" r="13.3" fill="#000" />
<circle cx="212.8" cy="1447.7" r="13.3" fill="#000" />
<circle cx="216.3" cy="1448.5" r="13.3" fill="#000" />
<circle cx="219.8" cy="1448.3" r="13.3" fill="#000" />
<circle cx="223.3" cy="1449.2" r="13.3" fill="#000" />
<circle cx="226.9" cy="1447.9" r="13.3" fill="#000" />
<circle cx="230.4" cy="1447.8" r="13.3" fill="#000" />
<circle cx="233.9" cy="1447.4" r="13.3" fill="#000" />
<circle cx="237.4" cy="1448.1" r="13.3" fill="#000" />
<circle cx="241" cy="1447.9" r="13.3" fill="#000" />
<circle cx="244.5" cy="1447.3" r="13.3" fill="#000" />
<circle cx="248" cy="1446.9" r="13.3" fill="#000" />
<circle cx="251.6" cy="1447.3" r="13.3" fill="#000" />
<circle cx="255.1" cy="1448.5" r="13.3" fill="#000" />
<circle cx="258.6" cy="1449.7" r="13.3" fill="#000" />
<circle cx="262.1" cy="1449.1" r="13.3" fill="#000" />
<circle cx="265.7" cy="1447.6" r="13.3" fill="#000" />
<circle cx="269.2" cy="1446.9" r="13.3" fill="#000" />
<circle cx="272.7" cy="1447.9" r="13.3" fill="#000" />
<circle cx="276.3" cy="1447.9" r="13.3" fill="#000" />
<circle cx="279.8" cy="1447.8" r="13.3" fill="#000" />
<circle cx="283.3" cy="1447.7" r="13.3" fill="#000" />
<circle cx="286.8" cy="1448.5" r="13.3" fill="#000" />
<circle cx="290.4" cy="1448.6" r="13.3" fill="#000" />
<circle cx="293.9" cy="1447.7" r="13.3" fill="#000" />
<circle cx="297.4" cy="1446.6" r="13.3" fill="#000" />
<circle cx="301" cy="1446.4" r="13.3" fill="#000" />
<circle cx="304.5" cy="1445.9" r="13.3" fill="#000" />
<circle cx="308" cy="1447" r="13.3" fill="#000" />
<circle cx="311.5" cy="1447" r="13.3" fill="#000" />
<circle cx="315.1" cy="1448.3" r="13.3" fill="#000" />
<circle cx="318.6" cy="1448.8" r="13.3" fill="#000" />
<circle cx="322.1" cy="1449.6" r="13.3" fill="#000" />
<circle cx="325.6" cy="1448.9" r="13.3" fill="#000" />
<circle cx="329.2" cy="1448.4" r="13.3" fill="#000" />
<circle cx="332.7" cy="1448.4" r="13.3" fill="#000" />
<circle cx="336.2" cy="1448.6" r="13.3" fill="#000" />
<circle cx="339.8" cy="1447.7" r="13.3" fill="#000" />
<circle cx="343.3" cy="1447.2" r="13.3" fill="#000" />
<circle cx="346.8" cy="1446.8" r="13.3" fill="#000" />
<circle cx="350.3" cy="1447.9" r="13.3" fill="#000" />
<circle cx="353.9" cy="1446.8" r="13.3" fill="#000" />
<circle cx="357.4" cy="1447.1" r="13.3" fill="#000" />
<circle cx="360.9" cy="1446.3" r="13.3" fill="#000" />
<circle cx="364.5" cy="1447.3" r="13.3" fill="#000" />
<circle cx="368" cy="1447.8" r="13.3" fill="#000" />
<circle cx="371.5" cy="1448.1" r="13.3" fill="#000" />
<circle cx="375" cy="1448.1" r="13.3" fill="#000" />
<circle cx="378.6" cy="1448.6" r="13.3" fill="#000" />
<circle cx="382.1" cy="1447.4" r="13.3" fill="#000" />
<circle cx="385.6" cy="1447.5" r="13.3" fill="#000" />
<circle cx="389.2" cy="1446.7" r="13.3" fill="#000" />
<circle cx="392.7" cy="1447.7" r="13.3" fill="#000" />
<circle cx="396.2" cy="1447.8" r="13.3" fill="#000" />
<circle cx="399.7" cy="1447.7" r="13.3" fill="#000" />
<circle cx="403.3" cy="1447.4" r="13.3" fill="#000" />
<circle cx="406.8" cy="1447.6" r="13.3" fill="#000" />
<circle cx="410.3" cy="1448.2" r="13.3" fill="#000" />
<circle cx="413.8" cy="1448.2" r="13.3" fill="#000" />
<circle cx="417.4" cy="1448.8" r="13.3" fill="#000" />
<circle cx="420.9" cy="1449.7" r="13.3" fill="#000" />
<circle cx="424.4" cy="1449.3" r="13.3" fill="#000" />
<circle cx="428" cy="1448.5" r="13.3" fill="#000" />
<circle cx="431.5" cy="1448.6" r="13.3" fill="#000" />
<circle cx="435" cy="1449.7" r="13.3" fill="#000" />
<circle cx="438.5" cy="1449.6" r="13.3" fill="#000" />
<circle cx="442.1" cy="1448.4" r="13.3" fill="#000" />
<circle cx="445.6" cy="1447.8" r="13.3" fill="#000" />
<circle cx="449.1" cy="1447.6" r="13.3" fill="#000" />
<circle cx="452.7" cy="1447.4" r="13.3" fill="#000" />
<circle cx="456.2" cy="1448" r="13.3" fill="#000" />
<circle cx="459.7" cy="1447.9" r="13.3" fill="#000" />
<circle cx="463.2" cy="1448" r="13.3" fill="#000" />
<circle cx="466.8" cy="1447.1" r="13.3" fill="#000" />
<circle cx="470.3" cy="1447.2" r="13.3" fill="#000" />
<circle cx="473.8" cy="1447" r="13.3" fill="#000" />
<circle cx="477.4" cy="1447.5" r="13.3" fill="#000" />
<circle cx="480.9" cy="1448" r="13.3" fill="#000" />
<circle cx="484.4" cy="1448.6" r="13.3" fill="#000" />
<circle cx="487.9" cy="1448.9" r="13.3" fill="#000" />
<circle cx="491.5" cy="1448.6" r="13.3" fill="#000" />
<circle cx="495" cy="1448.4" r="13.3" fill="#000" />
<circle cx="498.5" cy="1448.1" r="13.3" fill="#000" />
<circle cx="502" cy="1447.8" r="13.3" fill="#000" />
<circle cx="505.6" cy="1448.1" r="13.3" fill="#000" />
<circle cx="509.1" cy="1447.7" r="13.3" fill="#000" />
<circle cx="512.6" cy="1448.5" r="13.3" fill="#000" />
<circle cx="516.2" cy="1448.1" r="13.3" fill="#000" />
<circle cx="519.7" cy="1448.3" r="13.3" fill="#000" />
<circle cx="523.2" cy="1447.4" r="13.3" fill="#000" />
<circle cx="526.7" cy="1447.1" r="13.3" fill="#000" />
<circle cx="530.3" cy="1447.5" r="13.3" fill="#000" />
<circle cx="533.8" cy="1447.4" r="13.3" fill="#000" />
<circle cx="537.3" cy="1448.3" r="13.3" fill="#000" />
<circle cx="540.9" cy="1447.8" r="13.3" fill="#000" />
<circle cx="544.4" cy="1447.1" r="13.3" fill="#000" />
<circle cx="547.9" cy="1446.3" r="13.3" fill="#000" />
<circle cx="551.4" cy="1445.7" r="13.3" fill="#000" />
<circle cx="555" cy="1446.7" r="13.3" fill="#000" />
<circle cx="558.5" cy="1447.5" r="13.3" fill="#000" />
<circle cx="562" cy="1448.8" r="13.3" fill="#000" />
<circle cx="565.6" cy="1448.2" r="13.3" fill="#000" />
<circle cx="569.1" cy="1447.3" r="13.3" fill="#000" />
<circle cx="572.6" cy="1447.9" r="13.3" fill="#000" />
<circle cx="576.1" cy="1448.6" r="13.3" fill="#000" />
<circle cx="579.7" cy="1449" r="13.3" fill="#000" />
<circle cx="583.2" cy="1448.6" r="13.3" fill="#000" />
<circle cx="586.7" cy="1449.6" r="13.3" fill="#000" />
<circle cx="590.2" cy="1450.2" r="13.3" fill="#000" />
<circle cx="593.8" cy="1449.8" r="13.3" fill="#000" />
<circle cx="597.3" cy="1448.8" r="13.3" fill="#000" />
<circle cx="600.8" cy="1448.5" r="13.3" fill="#000" />
<circle cx="604.4" cy="1448.2" r="13.3" fill="#000" />
<circle cx="607.9" cy="1447.5" r="13.3" fill="#000" />
<circle cx="611.4" cy="1447.3" r="13.3" fill="#000" />
<circle cx="614.9" cy="1447.1" r="13.3" fill="#000" />
<circle cx="618.5" cy="1447.6" r="13.3" fill="#000" />
<circle cx="622" cy="1447.5" r="13.3" fill="#000" />
<circle cx="630" cy="1445" r="13.3" fill="#000" />
<circle cx="637.6" cy="1432.8" r="13.3" fill="#000" />
<circle cx="641.1" cy="1416.3" r="13.3" fill="#000" />
<circle cx="651.5" cy="1370" r="13.3" fill="#000" />
<circle cx="661.1" cy="1248.1" r="13.3" fill="#000" />
<circle cx="667.7" cy="1182.8" r="13.3" fill="#000" />
<circle cx="674.7" cy="1119.3" r="13.3" fill="#000" />
<circle cx="682" cy="1104.5" r="13.3" fill="#000" />
<circle cx="692" cy="1090" r="13.3" fill="#000" />
<circle cx="700" cy="1083" r="13.3" fill="#000" />
<circle cx="703.5" cy="1082.6" r="13.3" fill="#000" />
<circle cx="707.1" cy="1082.5" r="13.3" fill="#000" />
<circle cx="710.6" cy="1081.3" r="13.3" fill="#000" />
<circle cx="714.2" cy="1081.9" r="13.3" fill="#000" />
<circle cx="717.7" cy="1082.4" r="13.3" fill="#000" />
<circle cx="721.3" cy="1082.3" r="13.3" fill="#000" />
<circle cx="724.8" cy="1081.7" r="13.3" fill="#000" />
<circle cx="728.4" cy="1080.5" r="13.3" fill="#000" />
<circle cx="731.9" cy="1080.2" r="13.3" fill="#000" />
<circle cx="735.5" cy="1080.9" r="13.3" fill="#000" />
<circle cx="739" cy="1081.6" r="13.3" fill="#000" />
<circle cx="742.5" cy="1081.6" r="13.3" fill="#000" />
<circle cx="746.1" cy="1081.2" r="13.3" fill="#000" />
<circle cx="749.6" cy="1081.1" r="13.3" fill="#000" />
<circle cx="753.2" cy="1081.8" r="13.3" fill="#000" />
<circle cx="756.7" cy="1081.7" r="13.3" fill="#000" />
<circle cx="760.3" cy="1081.6" r="13.3" fill="#000" />
<circle cx="763.8" cy="1080.5" r="13.3" fill="#000" />
<circle cx="767.4" cy="1080.3" r="13.3" fill="#000" />
<circle cx="770.9" cy="1081.1" r="13.3" fill="#000" />
<circle cx="774.5" cy="1080.9" r="13.3" fill="#000" />
<circle cx="778" cy="1081.3" r="13.3" fill="#000" />
<circle cx="781.6" cy="1080.6" r="13.3" fill="#000" />
<circle cx="785.1" cy="1081.5" r="13.3" fill="#000" />
<circle cx="788.6" cy="1081.3" r="13.3" fill="#000" />
<circle cx="792.2" cy="1081.1" r="13.3" fill="#000" />
<circle cx="795.7" cy="1081.3" r="13.3" fill="#000" />
<circle cx="799.3" cy="1081.6" r="13.3" fill="#000" />
<circle cx="802.8" cy="1080.8" r="13.3" fill="#000" />
<circle cx="806.4" cy="1080.7" r="13.3" fill="#000" />
<circle cx="809.9" cy="1080.3" r="13.3" fill="#000" />
<circle cx="813.5" cy="1080.9" r="13.3" fill="#000" />
<circle cx="817" cy="1081.1" r="13.3" fill="#000" />
<circle cx="820.6" cy="1081.8" r="13.3" fill="#000" />
<circle cx="824.1" cy="1082.4" r="13.3" fill="#000" />
<circle cx="827.6" cy="1082.1" r="13.3" fill="#000" />
<circle cx="831.2" cy="1082.2" r="13.3" fill="#000" />
<circle cx="834.7" cy="1082.3" r="13.3" fill="#000" />
<circle cx="838.3" cy="1083.1" r="13.3" fill="#000" />
<circle cx="841.8" cy="1083.3" r="13.3" fill="#000" />
<circle cx="845.4" cy="1082.7" r="13.3" fill="#000" />
<circle cx="848.9" cy="1082.1" r="13.3" fill="#000" />
<circle cx="852.5" cy="1081.8" r="13.3" fill="#000" />
<circle cx="856" cy="1081.2" r="13.3" fill="#000" />
<circle cx="859.6" cy="1081.4" r="13.3" fill="#000" />
<circle cx="863.1" cy="1080.8" r="13.3" fill="#000" />
<circle cx="866.6" cy="1081.2" r="13.3" fill="#000" />
<circle cx="870.2" cy="1080.3" r="13.3" fill="#000" />
<circle cx="873.7" cy="1080.1" r="13.3" fill="#000" />
<circle cx="877.3" cy="1080.3" r="13.3" fill="#000" />
<circle cx="880.8" cy="1081.5" r="13.3" fill="#000" />
<circle cx="884.4" cy="1082.4" r="13.3" fill="#000" />
<circle cx="887.9" cy="1082.3" r="13.3" fill="#000" />
<circle cx="891.5" cy="1081.8" r="13.3" fill="#000" />
<circle cx="895" cy="1081" r="13.3" fill="#000" />
<circle cx="898.6" cy="1081.2" r="13.3" fill="#000" />
<circle cx="902.1" cy="1081.2" r="13.3" fill="#000" />
<circle cx="905.7" cy="1081.8" r="13.3" fill="#000" />
<circle cx="909.2" cy="1082.4" r="13.3" fill="#000" />
<circle cx="912.7" cy="1082.5" r="13.3" fill="#000" />
<circle cx="916.3" cy="1081.5" r="13.3" fill="#000" />
<circle cx="919.8" cy="1080.3" r="13.3" fill="#000" />
<circle cx="923.4" cy="1079.7" r="13.3" fill="#000" />
<circle cx="926.9" cy="1079.8" r="13.3" fill="#000" />
<circle cx="930.5" cy="1080.8" r="13.3" fill="#000" />
<circle cx="934" cy="1081.6" r="13.3" fill="#000" />
<circle cx="937.6" cy="1081.4" r="13.3" fill="#000" />
<circle cx="941.1" cy="1081.1" r="13.3" fill="#000" />
<circle cx="944.7" cy="1081.6" r="13.3" fill="#000" />
<circle cx="948.2" cy="1082.1" r="13.3" fill="#000" />
<circle cx="951.7" cy="1081.5" r="13.3" fill="#000" />
<circle cx="955.3" cy="1080.7" r="13.3" fill="#000" />
<circle cx="958.8" cy="1081" r="13.3" fill="#000" />
<circle cx="962.4" cy="1081.6" r="13.3" fill="#000" />
<circle cx="965.9" cy="1082.3" r="13.3" fill="#000" />
<circle cx="969.5" cy="1082.7" r="13.3" fill="#000" />
<circle cx="973" cy="1083" r="13.3" fill="#000" />
<circle cx="976.6" cy="1083.1" r="13.3" fill="#000" />
<circle cx="980.1" cy="1082.8" r="13.3" fill="#000" />
<circle cx="983.7" cy="1081.5" r="13.3" fill="#000" />
<circle cx="987.2" cy="1080.8" r="13.3" fill="#000" />
<circle cx="990.7" cy="1080.7" r="13.3" fill="#000" />
<circle cx="994.3" cy="1081.4" r="13.3" fill="#000" />
</g>
<g clip-path="url(#cc)">
<polyline points="1002.3,1005.3 998.8,1005.2 995.3,1005 991.7,1005.2 988.2,1005.7 984.7,1006.3 981.2,1006.1 977.6,1006.3 974.1,1006.4 970.6,1004.9 967.1,1004.1 963.5,1003.8 960,1004.5 956.5,1004.9 952.9,1005.7 949.4,1006 945.9,1005.4 942.4,1005.8 938.8,1005.9 935.3,1005.9 931.8,1005.1 928.3,1005.5 924.7,1005.8 921.2,1006.1 917.7,1005.7 914.1,1005.6 910.6,1005.4 907.1,1006 903.6,1006.1 900,1006.2 896.5,1005.9 893,1007.5 889.5,1007.1 885.9,1007.8 882.4,1006.5 878.9,1006.8 875.3,1006.5 871.8,1007 868.3,1007.6 864.8,1007.5 861.2,1006.8 857.7,1006 854.2,1006.2 850.7,1006.7 847.1,1007.7 843.6,1007.7 840.1,1007.9 836.5,1008 833,1007.9 829.5,1006.8 826,1005.6 822.4,1004.8 818.9,1006.3 815.4,1006.5 811.9,1007.8 808.3,1007.3 804.8,1008.5 801.3,1008.5 797.7,1008.2 794.2,1007.3 790.7,1006.9 787.2,1007.1 783.6,1007 780.1,1007 776.6,1007.7 773.1,1007.1 769.5,1007.3 766,1006.2 762.5,1007.1 758.9,1007.4 755.4,1007.8 751.9,1008.1 748.4,1007 744.8,1007.6 741.3,1007 737.8,1008.1 734.3,1007.7 730.7,1006.8 727.2,1006.2 723.7,1006.2 720.1,1008.2 716.6,1008.7 713.1,1008.7 709.6,1007.4 706,1008 702.5,1008.7 699,1009.4 695.5,1008.7 691.9,1007.1 688.4,1007.6 684.9,1008.9 681.3,1010 677.8,1010.3 674.3,1009.3 670.8,1008.5 667.2,1008.6 663.7,1007.8 660.2,1008.2 656.7,1007.7 653.1,1008.8 649.6,1009.1 646.1,1009.2 642.5,1008.4 639,1007.7 635.5,1007.6 632,1007.6 628.4,1007.6 624.9,1007.1 621.4,1007.2 617.9,1007 614.3,1007 610.8,1006.5 607.3,1007.5 603.7,1008.3 600.2,1010 596.7,1009.3 593.2,1008.8 589.6,1008.3 586.1,1009 582.6,1009.1 579.1,1009.5 575.5,1009.5 572,1009.7 570.5,1021.8 563.6,1065.8 557,1121.4 550.5,1173.3 543.6,1286 536.6,1338 530,1362 525,1369.5 521.5,1369.8 517.9,1370.5 514.4,1370.6 510.8,1370.1 507.3,1370.3 503.7,1371.3 500.2,1371.6 496.6,1371.7 493.1,1371.8 489.5,1371.4 486,1371 482.4,1371.1 478.9,1371.7 475.3,1371 471.8,1370.7 468.2,1371.4 464.7,1373.3 461.2,1372.5 457.6,1373.4 454.1,1372.3 450.5,1373.8 447,1373.3 443.4,1374.4 439.9,1374.1 436.3,1373.1 432.8,1373 429.2,1372.7 425.7,1372.2 422.1,1373.3 418.6,1374.1 415,1376.2 411.5,1374.5 407.9,1375 404.4,1375 400.8,1376.2 397.3,1375.6 393.8,1374.4 390.2,1373.7 386.7,1372.8 383.1,1372.7 379.6,1372.9 376,1373.6 372.5,1374.4 368.9,1374.4 365.4,1375.8 361.8,1376.6 358.3,1376.7 354.7,1376.5 351.2,1375.6 347.6,1375.6 344.1,1375.6 340.5,1375.4 337,1375.6 333.5,1374.6 329.9,1375.4 326.4,1376.3 322.8,1376.7 319.3,1376.9 315.7,1375.8 312.2,1375.7 308.6,1375.1 305.1,1376.3 301.5,1378 298,1378.9 294.4,1378 290.9,1377.3 287.3,1377.1 283.8,1377.9 280.2,1377.8 276.7,1378.2 273.1,1378.2 269.6,1377.9 266.1,1377.6 262.5,1376.7 259,1376.8 255.4,1376.5 251.9,1377.3 248.3,1377.1 244.8,1377.9 241.2,1378.3 237.7,1378.2 234.1,1377.9 230.6,1377.3 227,1378.4 223.5,1379.7 219.9,1380.6 216.4,1380.2 212.8,1380.2 209.3,1379.2 205.8,1380.2 202.2,1379.3 198.7,1378.8 195.1,1378.2" fill="none" stroke="#ff0000" stroke-width="6.5" stroke-linejoin="round" stroke-linecap="round" />
<circle cx="1002.3" cy="1005.3" r="13.3" fill="#ff0000" />
<circle cx="998.8" cy="1005.2" r="13.3" fill="#ff0000" />
<circle cx="995.3" cy="1005" r="13.3" fill="#ff0000" />
<circle cx="991.7" cy="1005.2" r="13.3" fill="#ff0000" />
<circle cx="988.2" cy="1005.7" r="13.3" fill="#ff0000" />
<circle cx="984.7" cy="1006.3" r="13.3" fill="#ff0000" />
<circle cx="981.2" cy="1006.1" r="13.3" fill="#ff0000" />
<circle cx="977.6" cy="1006.3" r="13.3" fill="#ff0000" />
<circle cx="974.1" cy="1006.4" r="13.3" fill="#ff0000" />
<circle cx="970.6" cy="1004.9" r="13.3" fill="#ff0000" />
<circle cx="967.1" cy="1004.1" r="13.3" fill="#ff0000" />
<circle cx="963.5" cy="1003.8" r="13.3" fill="#ff0000" />
<circle cx="960" cy="1004.5" r="13.3" fill="#ff0000" />
<circle cx="956.5" cy="1004.9" r="13.3" fill="#ff0000" />
<circle cx="952.9" cy="1005.7" r="13.3" fill="#ff0000" />
<circle cx="949.4" cy="1006" r="13.3" fill="#ff0000" />
<circle cx="945.9" cy="1005.4" r="13.3" fill="#ff0000" />
<circle cx="942.4" cy="1005.8" r="13.3" fill="#ff0000" />
<circle cx="938.8" cy="1005.9" r="13.3" fill="#ff0000" />
<circle cx="935.3" cy="1005.9" r="13.3" fill="#ff0000" />
<circle cx="931.8" cy="1005.1" r="13.3" fill="#ff0000" />
<circle cx="928.3" cy="1005.5" r="13.3" fill="#ff0000" />
<circle cx="924.7" cy="1005.8" r="13.3" fill="#ff0000" />
<circle cx="921.2" cy="1006.1" r="13.3" fill="#ff0000" />
<circle cx="917.7" cy="1005.7" r="13.3" fill="#ff0000" />
<circle cx="914.1" cy="1005.6" r="13.3" fill="#ff0000" />
<circle cx="910.6" cy="1005.4" r="13.3" fill="#ff0000" />
<circle cx="907.1" cy="1006" r="13.3" fill="#ff0000" />
<circle cx="903.6" cy="1006.1" r="13.3" fill="#ff0000" />
<circle cx="900" cy="1006.2" r="13.3" fill="#ff0000" />
<circle cx="896.5" cy="1005.9" r="13.3" fill="#ff0000" />
<circle cx="893" cy="1007.5" r="13.3" fill="#ff0000" />
<circle cx="889.5" cy="1007.1" r="13.3" fill="#ff0000" />
<circle cx="885.9" cy="1007.8" r="13.3" fill="#ff0000" />
<circle cx="882.4" cy="1006.5" r="13.3" fill="#ff0000" />
<circle cx="878.9" cy="1006.8" r="13.3" fill="#ff0000" />
<circle cx="875.3" cy="1006.5" r="13.3" fill="#ff0000" />
<circle cx="871.8" cy="1007" r="13.3" fill="#ff0000" />
<circle cx="868.3" cy="1007.6" r="13.3" fill="#ff0000" />
<circle cx="864.8" cy="1007.5" r="13.3" fill="#ff0000" />
<circle cx="861.2" cy="1006.8" r="13.3" fill="#ff0000" />
<circle cx="857.7" cy="1006" r="13.3" fill="#ff0000" />
<circle cx="854.2" cy="1006.2" r="13.3" fill="#ff0000" />
<circle cx="850.7" cy="1006.7" r="13.3" fill="#ff0000" />
<circle cx="847.1" cy="1007.7" r="13.3" fill="#ff0000" />
<circle cx="843.6" cy="1007.7" r="13.3" fill="#ff0000" />
<circle cx="840.1" cy="1007.9" r="13.3" fill="#ff0000" />
<circle cx="836.5" cy="1008" r="13.3" fill="#ff0000" />
<circle cx="833" cy="1007.9" r="13.3" fill="#ff0000" />
<circle cx="829.5" cy="1006.8" r="13.3" fill="#ff0000" />
<circle cx="826" cy="1005.6" r="13.3" fill="#ff0000" />
<circle cx="822.4" cy="1004.8" r="13.3" fill="#ff0000" />
<circle cx="818.9" cy="1006.3" r="13.3" fill="#ff0000" />
<circle cx="815.4" cy="1006.5" r="13.3" fill="#ff0000" />
<circle cx="811.9" cy="1007.8" r="13.3" fill="#ff0000" />
<circle cx="808.3" cy="1007.3" r="13.3" fill="#ff0000" />
<circle cx="804.8" cy="1008.5" r="13.3" fill="#ff0000" />
<circle cx="801.3" cy="1008.5" r="13.3" fill="#ff0000" />
<circle cx="797.7" cy="1008.2" r="13.3" fill="#ff0000" />
<circle cx="794.2" cy="1007.3" r="13.3" fill="#ff0000" />
<circle cx="790.7" cy="1006.9" r="13.3" fill="#ff0000" />
<circle cx="787.2" cy="1007.1" r="13.3" fill="#ff0000" />
<circle cx="783.6" cy="1007" r="13.3" fill="#ff0000" />
<circle cx="780.1" cy="1007" r="13.3" fill="#ff0000" />
<circle cx="776.6" cy="1007.7" r="13.3" fill="#ff0000" />
<circle cx="773.1" cy="1007.1" r="13.3" fill="#ff0000" />
<circle cx="769.5" cy="1007.3" r="13.3" fill="#ff0000" />
<circle cx="766" cy="1006.2" r="13.3" fill="#ff0000" />
<circle cx="762.5" cy="1007.1" r="13.3" fill="#ff0000" />
<circle cx="758.9" cy="1007.4" r="13.3" fill="#ff0000" />
<circle cx="755.4" cy="1007.8" r="13.3" fill="#ff0000" />
<circle cx="751.9" cy="1008.1" r="13.3" fill="#ff0000" />
<circle cx="748.4" cy="1007" r="13.3" fill="#ff0000" />
<circle cx="744.8" cy="1007.6" r="13.3" fill="#ff0000" />
<circle cx="741.3" cy="1007" r="13.3" fill="#ff0000" />
<circle cx="737.8" cy="1008.1" r="13.3" fill="#ff0000" />
<circle cx="734.3" cy="1007.7" r="13.3" fill="#ff0000" />
<circle cx="730.7" cy="1006.8" r="13.3" fill="#ff0000" />
<circle cx="727.2" cy="1006.2" r="13.3" fill="#ff0000" />
<circle cx="723.7" cy="1006.2" r="13.3" fill="#ff0000" />
<circle cx="720.1" cy="1008.2" r="13.3" fill="#ff0000" />
<circle cx="716.6" cy="1008.7" r="13.3" fill="#ff0000" />
<circle cx="713.1" cy="1008.7" r="13.3" fill="#ff0000" />
<circle cx="709.6" cy="1007.4" r="13.3" fill="#ff0000" />
<circle cx="706" cy="1008" r="13.3" fill="#ff0000" />
<circle cx="702.5" cy="1008.7" r="13.3" fill="#ff0000" />
<circle cx="699" cy="1009.4" r="13.3" fill="#ff0000" />
<circle cx="695.5" cy="1008.7" r="13.3" fill="#ff0000" />
<circle cx="691.9" cy="1007.1" r="13.3" fill="#ff0000" />
<circle cx="688.4" cy="1007.6" r="13.3" fill="#ff0000" />
<circle cx="684.9" cy="1008.9" r="13.3" fill="#ff0000" />
<circle cx="681.3" cy="1010" r="13.3" fill="#ff0000" />
<circle cx="677.8" cy="1010.3" r="13.3" fill="#ff0000" />
<circle cx="674.3" cy="1009.3" r="13.3" fill="#ff0000" />
<circle cx="670.8" cy="1008.5" r="13.3" fill="#ff0000" />
<circle cx="667.2" cy="1008.6" r="13.3" fill="#ff0000" />
<circle cx="663.7" cy="1007.8" r="13.3" fill="#ff0000" />
<circle cx="660.2" cy="1008.2" r="13.3" fill="#ff0000" />
<circle cx="656.7" cy="1007.7" r="13.3" fill="#ff0000" />
<circle cx="653.1" cy="1008.8" r="13.3" fill="#ff0000" />
<circle cx="649.6" cy="1009.1" r="13.3" fill="#ff0000" />
<circle cx="646.1" cy="1009.2" r="13.3" fill="#ff0000" />
<circle cx="642.5" cy="1008.4" r="13.3" fill="#ff0000" />
<circle cx="639" cy="1007.7" r="13.3" fill="#ff0000" />
<circle cx="635.5" cy="1007.6" r="13.3" fill="#ff0000" />
<circle cx="632" cy="1007.6" r="13.3" fill="#ff0000" />
<circle cx="628.4" cy="1007.6" r="13.3" fill="#ff0000" />
<circle cx="624.9" cy="1007.1" r="13.3" fill="#ff0000" />
<circle cx="621.4" cy="1007.2" r="13.3" fill="#ff0000" />
<circle cx="617.9" cy="1007" r="13.3" fill="#ff0000" />
<circle cx="614.3" cy="1007" r="13.3" fill="#ff0000" />
<circle cx="610.8" cy="1006.5" r="13.3" fill="#ff0000" />
<circle cx="607.3" cy="1007.5" r="13.3" fill="#ff0000" />
<circle cx="603.7" cy="1008.3" r="13.3" fill="#ff0000" />
<circle cx="600.2" cy="1010" r="13.3" fill="#ff0000" />
<circle cx="596.7" cy="1009.3" r="13.3" fill="#ff0000" />
<circle cx="593.2" cy="1008.8" r="13.3" fill="#ff0000" />
<circle cx="589.6" cy="1008.3" r="13.3" fill="#ff0000" />
<circle cx="586.1" cy="1009" r="13.3" fill="#ff0000" />
<circle cx="582.6" cy="1009.1" r="13.3" fill="#ff0000" />
<circle cx="579.1" cy="1009.5" r="13.3" fill="#ff0000" />
<circle cx="575.5" cy="1009.5" r="13.3" fill="#ff0000" />
<circle cx="572" cy="1009.7" r="13.3" fill="#ff0000" />
<circle cx="570.5" cy="1021.8" r="13.3" fill="#ff0000" />
<circle cx="563.6" cy="1065.8" r="13.3" fill="#ff0000" />
<circle cx="557" cy="1121.4" r="13.3" fill="#ff0000" />
<circle cx="550.5" cy="1173.3" r="13.3" fill="#ff0000" />
<circle cx="543.6" cy="1286" r="13.3" fill="#ff0000" />
<circle cx="536.6" cy="1338" r="13.3" fill="#ff0000" />
<circle cx="530" cy="1362" r="13.3" fill="#ff0000" />
<circle cx="525" cy="1369.5" r="13.3" fill="#ff0000" />
<circle cx="521.5" cy="1369.8" r="13.3" fill="#ff0000" />
<circle cx="517.9" cy="1370.5" r="13.3" fill="#ff0000" />
<circle cx="514.4" cy="1370.6" r="13.3" fill="#ff0000" />
<circle cx="510.8" cy="1370.1" r="13.3" fill="#ff0000" />
<circle cx="507.3" cy="1370.3" r="13.3" fill="#ff0000" />
<circle cx="503.7" cy="1371.3" r="13.3" fill="#ff0000" />
<circle cx="500.2" cy="1371.6" r="13.3" fill="#ff0000" />
<circle cx="496.6" cy="1371.7" r="13.3" fill="#ff0000" />
<circle cx="493.1" cy="1371.8" r="13.3" fill="#ff0000" />
<circle cx="489.5" cy="1371.4" r="13.3" fill="#ff0000" />
<circle cx="486" cy="1371" r="13.3" fill="#ff0000" />
<circle cx="482.4" cy="1371.1" r="13.3" fill="#ff0000" />
<circle cx="478.9" cy="1371.7" r="13.3" fill="#ff0000" />
<circle cx="475.3" cy="1371" r="13.3" fill="#ff0000" />
<circle cx="471.8" cy="1370.7" r="13.3" fill="#ff0000" />
<circle cx="468.2" cy="1371.4" r="13.3" fill="#ff0000" />
<circle cx="464.7" cy="1373.3" r="13.3" fill="#ff0000" />
<circle cx="461.2" cy="1372.5" r="13.3" fill="#ff0000" />
<circle cx="457.6" cy="1373.4" r="13.3" fill="#ff0000" />
<circle cx="454.1" cy="1372.3" r="13.3" fill="#ff0000" />
<circle cx="450.5" cy="1373.8" r="13.3" fill="#ff0000" />
<circle cx="447" cy="1373.3" r="13.3" fill="#ff0000" />
<circle cx="443.4" cy="1374.4" r="13.3" fill="#ff0000" />
<circle cx="439.9" cy="1374.1" r="13.3" fill="#ff0000" />
<circle cx="436.3" cy="1373.1" r="13.3" fill="#ff0000" />
<circle cx="432.8" cy="1373" r="13.3" fill="#ff0000" />
<circle cx="429.2" cy="1372.7" r="13.3" fill="#ff0000" />
<circle cx="425.7" cy="1372.2" r="13.3" fill="#ff0000" />
<circle cx="422.1" cy="1373.3" r="13.3" fill="#ff0000" />
<circle cx="418.6" cy="1374.1" r="13.3" fill="#ff0000" />
<circle cx="415" cy="1376.2" r="13.3" fill="#ff0000" />
<circle cx="411.5" cy="1374.5" r="13.3" fill="#ff0000" />
<circle cx="407.9" cy="1375" r="13.3" fill="#ff0000" />
<circle cx="404.4" cy="1375" r="13.3" fill="#ff0000" />
<circle cx="400.8" cy="1376.2" r="13.3" fill="#ff0000" />
<circle cx="397.3" cy="1375.6" r="13.3" fill="#ff0000" />
<circle cx="393.8" cy="1374.4" r="13.3" fill="#ff0000" />
<circle cx="390.2" cy="1373.7" r="13.3" fill="#ff0000" />
<circle cx="386.7" cy="1372.8" r="13.3" fill="#ff0000" />
<circle cx="383.1" cy="1372.7" r="13.3" fill="#ff0000" />
<circle cx="379.6" cy="1372.9" r="13.3" fill="#ff0000" />
<circle cx="376" cy="1373.6" r="13.3" fill="#ff0000" />
<circle cx="372.5" cy="1374.4" r="13.3" fill="#ff0000" />
<circle cx="368.9" cy="1374.4" r="13.3" fill="#ff0000" />
<circle cx="365.4" cy="1375.8" r="13.3" fill="#ff0000" />
<circle cx="361.8" cy="1376.6" r="13.3" fill="#ff0000" />
<circle cx="358.3" cy="1376.7" r="13.3" fill="#ff0000" />
<circle cx="354.7" cy="1376.5" r="13.3" fill="#ff0000" />
<circle cx="351.2" cy="1375.6" r="13.3" fill="#ff0000" />
<circle cx="347.6" cy="1375.6" r="13.3" fill="#ff0000" />
<circle cx="344.1" cy="1375.6" r="13.3" fill="#ff0000" />
<circle cx="340.5" cy="1375.4" r="13.3" fill="#ff0000" />
<circle cx="337" cy="1375.6" r="13.3" fill="#ff0000" />
<circle cx="333.5" cy="1374.6" r="13.3" fill="#ff0000" />
<circle cx="329.9" cy="1375.4" r="13.3" fill="#ff0000" />
<circle cx="326.4" cy="1376.3" r="13.3" fill="#ff0000" />
<circle cx="322.8" cy="1376.7" r="13.3" fill="#ff0000" />
<circle cx="319.3" cy="1376.9" r="13.3" fill="#ff0000" />
<circle cx="315.7" cy="1375.8" r="13.3" fill="#ff0000" />
<circle cx="312.2" cy="1375.7" r="13.3" fill="#ff0000" />
<circle cx="308.6" cy="1375.1" r="13.3" fill="#ff0000" />
<circle cx="305.1" cy="1376.3" r="13.3" fill="#ff0000" />
<circle cx="301.5" cy="1378" r="13.3" fill="#ff0000" />
<circle cx="298" cy="1378.9" r="13.3" fill="#ff0000" />
<circle cx="294.4" cy="1378" r="13.3" fill="#ff0000" />
<circle cx="290.9" cy="1377.3" r="13.3" fill="#ff0000" />
<circle cx="287.3" cy="1377.1" r="13.3" fill="#ff0000" />
<circle cx="283.8" cy="1377.9" r="13.3" fill="#ff0000" />
<circle cx="280.2" cy="1377.8" r="13.3" fill="#ff0000" />
<circle cx="276.7" cy="1378.2" r="13.3" fill="#ff0000" />
<circle cx="273.1" cy="1378.2" r="13.3" fill="#ff0000" />
<circle cx="269.6" cy="1377.9" r="13.3" fill="#ff0000" />
<circle cx="266.1" cy="1377.6" r="13.3" fill="#ff0000" />
<circle cx="262.5" cy="1376.7" r="13.3" fill="#ff0000" />
<circle cx="259" cy="1376.8" r="13.3" fill="#ff0000" />
<circle cx="255.4" cy="1376.5" r="13.3" fill="#ff0000" />
<circle cx="251.9" cy="1377.3" r="13.3" fill="#ff0000" />
<circle cx="248.3" cy="1377.1" r="13.3" fill="#ff0000" />
<circle cx="244.8" cy="1377.9" r="13.3" fill="#ff0000" />
<circle cx="241.2" cy="1378.3" r="13.3" fill="#ff0000" />
<circle cx="237.7" cy="1378.2" r="13.3" fill="#ff0000" />
<circle cx="234.1" cy="1377.9" r="13.3" fill="#ff0000" />
<circle cx="230.6" cy="1377.3" r="13.3" fill="#ff0000" />
<circle cx="227" cy="1378.4" r="13.3" fill="#ff0000" />
<circle cx="223.5" cy="1379.7" r="13.3" fill="#ff0000" />
<circle cx="219.9" cy="1380.6" r="13.3" fill="#ff0000" />
<circle cx="216.4" cy="1380.2" r="13.3" fill="#ff0000" />
<circle cx="212.8" cy="1380.2" r="13.3" fill="#ff0000" />
<circle cx="209.3" cy="1379.2" r="13.3" fill="#ff0000" />
<circle cx="205.8" cy="1380.2" r="13.3" fill="#ff0000" />
<circle cx="202.2" cy="1379.3" r="13.3" fill="#ff0000" />
<circle cx="198.7" cy="1378.8" r="13.3" fill="#ff0000" />
<circle cx="195.1" cy="1378.2" r="13.3" fill="#ff0000" />
</g>
<g clip-path="url(#cc)">
<polyline points="195.1,1381.7 198.6,1381.2 202.2,1379.9 205.7,1379 209.2,1379.4 212.7,1378.6 216.3,1378.2 219.8,1378.3 223.3,1379 226.9,1379.8 230.4,1379.5 233.9,1380.4 237.4,1379.4 241,1379.4 244.5,1377.3 248,1377 251.6,1377.4 255.1,1377.7 258.6,1378.4 262.1,1377.7 265.7,1377.6 269.2,1377.1 272.7,1376.7 276.2,1376.9 279.8,1377.3 283.3,1377.8 286.8,1377.6 290.4,1376.8 293.9,1376.5 297.4,1376.6 300.9,1377.4 304.5,1378.4 308,1378.7 311.5,1378.2 315.1,1376.8 318.6,1375.9 322.1,1375.4 325.6,1374.9 329.2,1375 332.7,1375.1 336.2,1375.8 339.7,1375.7 343.3,1375.7 346.8,1374.7 350.3,1375.6 353.9,1375.8 357.4,1377.1 360.9,1376.6 364.4,1377 368,1375.9 371.5,1375.8 375,1376.3 378.6,1375.7 382.1,1375.8 385.6,1375.3 389.1,1375.9 392.7,1375.6 396.2,1375.4 399.7,1374.8 403.2,1374.5 406.8,1373.4 410.3,1373.3 413.8,1372.7 417.4,1373 420.9,1373.2 424.4,1373.6 427.9,1372.9 431.5,1373.7 435,1374 438.5,1374.9 442.1,1373.7 445.6,1373 449.1,1372.8 452.6,1373.1 456.2,1372.2 459.7,1372.2 463.2,1373.3 466.7,1373.1 470.3,1373.1 473.8,1371.8 477.3,1372.6 480.9,1372.6 484.4,1371.8 487.9,1371.8 491.4,1371.8 495,1372.2 498.5,1371.8 502,1371 505.6,1370.8 509.1,1371.7 512.6,1371.1 516.1,1371.6 519.7,1370.2 523.2,1370.8 526.7,1370.3 530.2,1369.5 533.8,1369.1 537.3,1368.6 540.8,1369.5 544.4,1370.1 547.9,1370 551.4,1369.6 554.9,1369.5 558.5,1370 562,1370.4 572,1362 580,1352 585,1344 593.2,1317 600.5,1269.2 607.1,1203.7 617,1095.8 630.1,1035.7 642,1016 650,1009.2 653.5,1008.8 657,1008 660.6,1008.4 664.1,1009.2 667.6,1009.2 671.1,1008.6 674.7,1008.1 678.2,1007.8 681.7,1008.6 685.2,1008.7 688.8,1008.4 692.3,1007.2 695.8,1007.5 699.3,1008.3 702.8,1008.4 706.4,1007.7 709.9,1007.4 713.4,1006.7 716.9,1006.3 720.5,1006.7 724,1007.2 727.5,1008 731,1008.1 734.6,1008.6 738.1,1008.4 741.6,1008.8 745.1,1008.8 748.7,1008.6 752.2,1007.9 755.7,1007.7 759.2,1007.5 762.7,1007.1 766.3,1006.8 769.8,1006.3 773.3,1006.1 776.8,1006 780.4,1006.7 783.9,1006 787.4,1005.9 790.9,1006.1 794.5,1006.9 798,1006.5 801.5,1006.7 805,1006.1 808.5,1006.5 812.1,1006.8 815.6,1007 819.1,1006.8 822.6,1006.7 826.2,1006.8 829.7,1006.9 833.2,1006.4 836.7,1007.1 840.3,1006.1 843.8,1005.6 847.3,1004.6 850.8,1005.1 854.3,1005 857.9,1005.1 861.4,1005.7 864.9,1005.7 868.4,1006.1 872,1006.1 875.5,1006.2 879,1006.1 882.5,1006.7 886.1,1007.1 889.6,1006.7 893.1,1005.9 896.6,1005.3 900.2,1005.7 903.7,1006.1 907.2,1006.1 910.7,1005.8 914.2,1005.9 917.8,1006 921.3,1006.2 924.8,1005.2 928.3,1005 931.9,1004.6 935.4,1006.1 938.9,1006.2 942.4,1006.2 946,1004.9 949.5,1005 953,1005.5 956.5,1005.8 960,1006.8 963.6,1006.6 967.1,1007.1 970.6,1006.3 974.1,1006.4 977.7,1005 981.2,1004.8 984.7,1004.5 988.2,1005 991.8,1004 995.3,1004.4 998.8,1004.3 1002.3,1005.3" fill="none" stroke="#ff0000" stroke-width="6.5" stroke-linejoin="round" stroke-linecap="round" />
<circle cx="195.1" cy="1381.7" r="13.3" fill="#ff0000" />
<circle cx="198.6" cy="1381.2" r="13.3" fill="#ff0000" />
<circle cx="202.2" cy="1379.9" r="13.3" fill="#ff0000" />
<circle cx="205.7" cy="1379" r="13.3" fill="#ff0000" />
<circle cx="209.2" cy="1379.4" r="13.3" fill="#ff0000" />
<circle cx="212.7" cy="1378.6" r="13.3" fill="#ff0000" />
<circle cx="216.3" cy="1378.2" r="13.3" fill="#ff0000" />
<circle cx="219.8" cy="1378.3" r="13.3" fill="#ff0000" />
<circle cx="223.3" cy="1379" r="13.3" fill="#ff0000" />
<circle cx="226.9" cy="1379.8" r="13.3" fill="#ff0000" />
<circle cx="230.4" cy="1379.5" r="13.3" fill="#ff0000" />
<circle cx="233.9" cy="1380.4" r="13.3" fill="#ff0000" />
<circle cx="237.4" cy="1379.4" r="13.3" fill="#ff0000" />
<circle cx="241" cy="1379.4" r="13.3" fill="#ff0000" />
<circle cx="244.5" cy="1377.3" r="13.3" fill="#ff0000" />
<circle cx="248" cy="1377" r="13.3" fill="#ff0000" />
<circle cx="251.6" cy="1377.4" r="13.3" fill="#ff0000" />
<circle cx="255.1" cy="1377.7" r="13.3" fill="#ff0000" />
<circle cx="258.6" cy="1378.4" r="13.3" fill="#ff0000" />
<circle cx="262.1" cy="1377.7" r="13.3" fill="#ff0000" />
<circle cx="265.7" cy="1377.6" r="13.3" fill="#ff0000" />
<circle cx="269.2" cy="1377.1" r="13.3" fill="#ff0000" />
<circle cx="272.7" cy="1376.7" r="13.3" fill="#ff0000" />
<circle cx="276.2" cy="1376.9" r="13.3" fill="#ff0000" />
<circle cx="279.8" cy="1377.3" r="13.3" fill="#ff0000" />
<circle cx="283.3" cy="1377.8" r="13.3" fill="#ff0000" />
<circle cx="286.8" cy="1377.6" r="13.3" fill="#ff0000" />
<circle cx="290.4" cy="1376.8" r="13.3" fill="#ff0000" />
<circle cx="293.9" cy="1376.5" r="13.3" fill="#ff0000" />
<circle cx="297.4" cy="1376.6" r="13.3" fill="#ff0000" />
<circle cx="300.9" cy="1377.4" r="13.3" fill="#ff0000" />
<circle cx="304.5" cy="1378.4" r="13.3" fill="#ff0000" />
<circle cx="308" cy="1378.7" r="13.3" fill="#ff0000" />
<circle cx="311.5" cy="1378.2" r="13.3" fill="#ff0000" />
<circle cx="315.1" cy="1376.8" r="13.3" fill="#ff0000" />
<circle cx="318.6" cy="1375.9" r="13.3" fill="#ff0000" />
<circle cx="322.1" cy="1375.4" r="13.3" fill="#ff0000" />
<circle cx="325.6" cy="1374.9" r="13.3" fill="#ff0000" />
<circle cx="329.2" cy="1375" r="13.3" fill="#ff0000" />
<circle cx="332.7" cy="1375.1" r="13.3" fill="#ff0000" />
<circle cx="336.2" cy="1375.8" r="13.3" fill="#ff0000" />
<circle cx="339.7" cy="1375.7" r="13.3" fill="#ff0000" />
<circle cx="343.3" cy="1375.7" r="13.3" fill="#ff0000" />
<circle cx="346.8" cy="1374.7" r="13.3" fill="#ff0000" />
<circle cx="350.3" cy="1375.6" r="13.3" fill="#ff0000" />
<circle cx="353.9" cy="1375.8" r="13.3" fill="#ff0000" />
<circle cx="357.4" cy="1377.1" r="13.3" fill="#ff0000" />
<circle cx="360.9" cy="1376.6" r="13.3" fill="#ff0000" />
<circle cx="364.4" cy="1377" r="13.3" fill="#ff0000" />
<circle cx="368" cy="1375.9" r="13.3" fill="#ff0000" />
<circle cx="371.5" cy="1375.8" r="13.3" fill="#ff0000" />
<circle cx="375" cy="1376.3" r="13.3" fill="#ff0000" />
<circle cx="378.6" cy="1375.7" r="13.3" fill="#ff0000" />
<circle cx="382.1" cy="1375.8" r="13.3" fill="#ff0000" />
<circle cx="385.6" cy="1375.3" r="13.3" fill="#ff0000" />
<circle cx="389.1" cy="1375.9" r="13.3" fill="#ff0000" />
<circle cx="392.7" cy="1375.6" r="13.3" fill="#ff0000" />
<circle cx="396.2" cy="1375.4" r="13.3" fill="#ff0000" />
<circle cx="399.7" cy="1374.8" r="13.3" fill="#ff0000" />
<circle cx="403.2" cy="1374.5" r="13.3" fill="#ff0000" />
<circle cx="406.8" cy="1373.4" r="13.3" fill="#ff0000" />
<circle cx="410.3" cy="1373.3" r="13.3" fill="#ff0000" />
<circle cx="413.8" cy="1372.7" r="13.3" fill="#ff0000" />
<circle cx="417.4" cy="1373" r="13.3" fill="#ff0000" />
<circle cx="420.9" cy="1373.2" r="13.3" fill="#ff0000" />
<circle cx="424.4" cy="1373.6" r="13.3" fill="#ff0000" />
<circle cx="427.9" cy="1372.9" r="13.3" fill="#ff0000" />
<circle cx="431.5" cy="1373.7" r="13.3" fill="#ff0000" />
<circle cx="435" cy="1374" r="13.3" fill="#ff0000" />
<circle cx="438.5" cy="1374.9" r="13.3" fill="#ff0000" />
<circle cx="442.1" cy="1373.7" r="13.3" fill="#ff0000" />
<circle cx="445.6" cy="1373" r="13.3" fill="#ff0000" />
<circle cx="449.1" cy="1372.8" r="13.3" fill="#ff0000" />
<circle cx="452.6" cy="1373.1" r="13.3" fill="#ff0000" />
<circle cx="456.2" cy="1372.2" r="13.3" fill="#ff0000" />
<circle cx="459.7" cy="1372.2" r="13.3" fill="#ff0000" />
<circle cx="463.2" cy="1373.3" r="13.3" fill="#ff0000" />
<circle cx="466.7" cy="1373.1" r="13.3" fill="#ff0000" />
<circle cx="470.3" cy="1373.1" r="13.3" fill="#ff0000" />
<circle cx="473.8" cy="1371.8" r="13.3" fill="#ff0000" />
<circle cx="477.3" cy="1372.6" r="13.3" fill="#ff0000" />
<circle cx="480.9" cy="1372.6" r="13.3" fill="#ff0000" />
<circle cx="484.4" cy="1371.8" r="13.3" fill="#ff0000" />
<circle cx="487.9" cy="1371.8" r="13.3" fill="#ff0000" />
<circle cx="491.4" cy="1371.8" r="13.3" fill="#ff0000" />
<circle cx="495" cy="1372.2" r="13.3" fill="#ff0000" />
<circle cx="498.5" cy="1371.8" r="13.3" fill="#ff0000" />
<circle cx="502" cy="1371" r="13.3" fill="#ff0000" />
<circle cx="505.6" cy="1370.8" r="13.3" fill="#ff0000" />
<circle cx="509.1" cy="1371.7" r="13.3" fill="#ff0000" />
<circle cx="512.6" cy="1371.1" r="13.3" fill="#ff0000" />
<circle cx="516.1" cy="1371.6" r="13.3" fill="#ff0000" />
<circle cx="519.7" cy="1370.2" r="13.3" fill="#ff0000" />
<circle cx="523.2" cy="1370.8" r="13.3" fill="#ff0000" />
<circle cx="526.7" cy="1370.3" r="13.3" fill="#ff0000" />
<circle cx="530.2" cy="1369.5" r="13.3" fill="#ff0000" />
<circle cx="533.8" cy="1369.1" r="13.3" fill="#ff0000" />
<circle cx="537.3" cy="1368.6" r="13.3" fill="#ff0000" />
<circle cx="540.8" cy="1369.5" r="13.3" fill="#ff0000" />
<circle cx="544.4" cy="1370.1" r="13.3" fill="#ff0000" />
<circle cx="547.9" cy="1370" r="13.3" fill="#ff0000" />
<circle cx="551.4" cy="1369.6" r="13.3" fill="#ff0000" />
<circle cx="554.9" cy="1369.5" r="13.3" fill="#ff0000" />
<circle cx="558.5" cy="1370" r="13.3" fill="#ff0000" />
<circle cx="562" cy="1370.4" r="13.3" fill="#ff0000" />
<circle cx="572" cy="1362" r="13.3" fill="#ff0000" />
<circle cx="580" cy="1352" r="13.3" fill="#ff0000" />
<circle cx="585" cy="1344" r="13.3" fill="#ff0000" />
<circle cx="593.2" cy="1317" r="13.3" fill="#ff0000" />
<circle cx="600.5" cy="1269.2" r="13.3" fill="#ff0000" />
<circle cx="607.1" cy="1203.7" r="13.3" fill="#ff0000" />
<circle cx="617" cy="1095.8" r="13.3" fill="#ff0000" />
<circle cx="630.1" cy="1035.7" r="13.3" fill="#ff0000" />
<circle cx="642" cy="1016" r="13.3" fill="#ff0000" />
<circle cx="650" cy="1009.2" r="13.3" fill="#ff0000" />
<circle cx="653.5" cy="1008.8" r="13.3" fill="#ff0000" />
<circle cx="657" cy="1008" r="13.3" fill="#ff0000" />
<circle cx="660.6" cy="1008.4" r="13.3" fill="#ff0000" />
<circle cx="664.1" cy="1009.2" r="13.3" fill="#ff0000" />
<circle cx="667.6" cy="1009.2" r="13.3" fill="#ff0000" />
<circle cx="671.1" cy="1008.6" r="13.3" fill="#ff0000" />
<circle cx="674.7" cy="1008.1" r="13.3" fill="#ff0000" />
<circle cx="678.2" cy="1007.8" r="13.3" fill="#ff0000" />
<circle cx="681.7" cy="1008.6" r="13.3" fill="#ff0000" />
<circle cx="685.2" cy="1008.7" r="13.3" fill="#ff0000" />
<circle cx="688.8" cy="1008.4" r="13.3" fill="#ff0000" />
<circle cx="692.3" cy="1007.2" r="13.3" fill="#ff0000" />
<circle cx="695.8" cy="1007.5" r="13.3" fill="#ff0000" />
<circle cx="699.3" cy="1008.3" r="13.3" fill="#ff0000" />
<circle cx="702.8" cy="1008.4" r="13.3" fill="#ff0000" />
<circle cx="706.4" cy="1007.7" r="13.3" fill="#ff0000" />
<circle cx="709.9" cy="1007.4" r="13.3" fill="#ff0000" />
<circle cx="713.4" cy="1006.7" r="13.3" fill="#ff0000" />
<circle cx="716.9" cy="1006.3" r="13.3" fill="#ff0000" />
<circle cx="720.5" cy="1006.7" r="13.3" fill="#ff0000" />
<circle cx="724" cy="1007.2" r="13.3" fill="#ff0000" />
<circle cx="727.5" cy="1008" r="13.3" fill="#ff0000" />
<circle cx="731" cy="1008.1" r="13.3" fill="#ff0000" />
<circle cx="734.6" cy="1008.6" r="13.3" fill="#ff0000" />
<circle cx="738.1" cy="1008.4" r="13.3" fill="#ff0000" />
<circle cx="741.6" cy="1008.8" r="13.3" fill="#ff0000" />
<circle cx="745.1" cy="1008.8" r="13.3" fill="#ff0000" />
<circle cx="748.7" cy="1008.6" r="13.3" fill="#ff0000" />
<circle cx="752.2" cy="1007.9" r="13.3" fill="#ff0000" />
<circle cx="755.7" cy="1007.7" r="13.3" fill="#ff0000" />
<circle cx="759.2" cy="1007.5" r="13.3" fill="#ff0000" />
<circle cx="762.7" cy="1007.1" r="13.3" fill="#ff0000" />
<circle cx="766.3" cy="1006.8" r="13.3" fill="#ff0000" />
<circle cx="769.8" cy="1006.3" r="13.3" fill="#ff0000" />
<circle cx="773.3" cy="1006.1" r="13.3" fill="#ff0000" />
<circle cx="776.8" cy="1006" r="13.3" fill="#ff0000" />
<circle cx="780.4" cy="1006.7" r="13.3" fill="#ff0000" />
<circle cx="783.9" cy="1006" r="13.3" fill="#ff0000" />
<circle cx="787.4" cy="1005.9" r="13.3" fill="#ff0000" />
<circle cx="790.9" cy="1006.1" r="13.3" fill="#ff0000" />
<circle cx="794.5" cy="1006.9" r="13.3" fill="#ff0000" />
<circle cx="798" cy="1006.5" r="13.3" fill="#ff0000" />
<circle cx="801.5" cy="1006.7" r="13.3" fill="#ff0000" />
<circle cx="805" cy="1006.1" r="13.3" fill="#ff0000" />
<circle cx="808.5" cy="1006.5" r="13.3" fill="#ff0000" />
<circle cx="812.1" cy="1006.8" r="13.3" fill="#ff0000" />
<circle cx="815.6" cy="1007" r="13.3" fill="#ff0000" />
<circle cx="819.1" cy="1006.8" r="13.3" fill="#ff0000" />
<circle cx="822.6" cy="1006.7" r="13.3" fill="#ff0000" />
<circle cx="826.2" cy="1006.8" r="13.3" fill="#ff0000" />
<circle cx="829.7" cy="1006.9" r="13.3" fill="#ff0000" />
<circle cx="833.2" cy="1006.4" r="13.3" fill="#ff0000" />
<circle cx="836.7" cy="1007.1" r="13.3" fill="#ff0000" />
<circle cx="840.3" cy="1006.1" r="13.3" fill="#ff0000" />
<circle cx="843.8" cy="1005.6" r="13.3" fill="#ff0000" />
<circle cx="847.3" cy="1004.6" r="13.3" fill="#ff0000" />
<circle cx="850.8" cy="1005.1" r="13.3" fill="#ff0000" />
<circle cx="854.3" cy="1005" r="13.3" fill="#ff0000" />
<circle cx="857.9" cy="1005.1" r="13.3" fill="#ff0000" />
<circle cx="861.4" cy="1005.7" r="13.3" fill="#ff0000" />
<circle cx="864.9" cy="1005.7" r="13.3" fill="#ff0000" />
<circle cx="868.4" cy="1006.1" r="13.3" fill="#ff0000" />
<circle cx="872" cy="1006.1" r="13.3" fill="#ff0000" />
<circle cx="875.5" cy="1006.2" r="13.3" fill="#ff0000" />
<circle cx="879" cy="1006.1" r="13.3" fill="#ff0000" />
<circle cx="882.5" cy="1006.7" r="13.3" fill="#ff0000" />
<circle cx="886.1" cy="1007.1" r="13.3" fill="#ff0000" />
<circle cx="889.6" cy="1006.7" r="13.3" fill="#ff0000" />
<circle cx="893.1" cy="1005.9" r="13.3" fill="#ff0000" />
<circle cx="896.6" cy="1005.3" r="13.3" fill="#ff0000" />
<circle cx="900.2" cy="1005.7" r="13.3" fill="#ff0000" />
<circle cx="903.7" cy="1006.1" r="13.3" fill="#ff0000" />
<circle cx="907.2" cy="1006.1" r="13.3" fill="#ff0000" />
<circle cx="910.7" cy="1005.8" r="13.3" fill="#ff0000" />
<circle cx="914.2" cy="1005.9" r="13.3" fill="#ff0000" />
<circle cx="917.8" cy="1006" r="13.3" fill="#ff0000" />
<circle cx="921.3" cy="1006.2" r="13.3" fill="#ff0000" />
<circle cx="924.8" cy="1005.2" r="13.3" fill="#ff0000" />
<circle cx="928.3" cy="1005" r="13.3" fill="#ff0000" />
<circle cx="931.9" cy="1004.6" r="13.3" fill="#ff0000" />
<circle cx="935.4" cy="1006.1" r="13.3" fill="#ff0000" />
<circle cx="938.9" cy="1006.2" r="13.3" fill="#ff0000" />
<circle cx="942.4" cy="1006.2" r="13.3" fill="#ff0000" />
<circle cx="946" cy="1004.9" r="13.3" fill="#ff0000" />
<circle cx="949.5" cy="1005" r="13.3" fill="#ff0000" />
<circle cx="953" cy="1005.5" r="13.3" fill="#ff0000" />
<circle cx="956.5" cy="1005.8" r="13.3" fill="#ff0000" />
<circle cx="960" cy="1006.8" r="13.3" fill="#ff0000" />
<circle cx="963.6" cy="1006.6" r="13.3" fill="#ff0000" />
<circle cx="967.1" cy="1007.1" r="13.3" fill="#ff0000" />
<circle cx="970.6" cy="1006.3" r="13.3" fill="#ff0000" />
<circle cx="974.1" cy="1006.4" r="13.3" fill="#ff0000" />
<circle cx="977.7" cy="1005" r="13.3" fill="#ff0000" />
<circle cx="981.2" cy="1004.8" r="13.3" fill="#ff0000" />
<circle cx="984.7" cy="1004.5" r="13.3" fill="#ff0000" />
<circle cx="988.2" cy="1005" r="13.3" fill="#ff0000" />
<circle cx="991.8" cy="1004" r="13.3" fill="#ff0000" />
<circle cx="995.3" cy="1004.4" r="13.3" fill="#ff0000" />
<circle cx="998.8" cy="1004.3" r="13.3" fill="#ff0000" />
<circle cx="1002.3" cy="1005.3" r="13.3" fill="#ff0000" />
</g>
<line x1="576.3" y1="909.5" x2="576.3" y2="1549" stroke="#ff0000" stroke-width="3.5" stroke-dasharray="12.5 10" stroke-dashoffset="3"/>
<line x1="635.9" y1="909.5" x2="635.9" y2="1549" stroke="#000" stroke-width="3.5" stroke-dasharray="12.5 10" stroke-dashoffset="3"/>
<line x1="305.6" y1="905.5" x2="305.6" y2="918.2" stroke="#000" stroke-width="7.5" stroke-linecap="butt" />
<line x1="305.6" y1="1553" x2="305.6" y2="1540.2" stroke="#000" stroke-width="7.5" stroke-linecap="butt" />
<line x1="606.8" y1="905.5" x2="606.8" y2="918.2" stroke="#000" stroke-width="7.5" stroke-linecap="butt" />
<line x1="606.8" y1="1553" x2="606.8" y2="1540.2" stroke="#000" stroke-width="7.5" stroke-linecap="butt" />
<line x1="908" y1="905.5" x2="908" y2="918.2" stroke="#000" stroke-width="7.5" stroke-linecap="butt" />
<line x1="908" y1="1553" x2="908" y2="1540.2" stroke="#000" stroke-width="7.5" stroke-linecap="butt" />
<line x1="456.1" y1="905.5" x2="456.1" y2="912.2" stroke="#000" stroke-width="7.5" stroke-linecap="butt" />
<line x1="456.1" y1="1553" x2="456.1" y2="1546.2" stroke="#000" stroke-width="7.5" stroke-linecap="butt" />
<line x1="757.4" y1="905.5" x2="757.4" y2="912.2" stroke="#000" stroke-width="7.5" stroke-linecap="butt" />
<line x1="757.4" y1="1553" x2="757.4" y2="1546.2" stroke="#000" stroke-width="7.5" stroke-linecap="butt" />
<line x1="205" y1="1040" x2="217.8" y2="1040" stroke="#000" stroke-width="7.5" stroke-linecap="butt" />
<line x1="1008" y1="1040" x2="995.2" y2="1040" stroke="#000" stroke-width="7.5" stroke-linecap="butt" />
<line x1="205" y1="1229" x2="217.8" y2="1229" stroke="#000" stroke-width="7.5" stroke-linecap="butt" />
<line x1="1008" y1="1229" x2="995.2" y2="1229" stroke="#000" stroke-width="7.5" stroke-linecap="butt" />
<line x1="205" y1="1418" x2="217.8" y2="1418" stroke="#000" stroke-width="7.5" stroke-linecap="butt" />
<line x1="1008" y1="1418" x2="995.2" y2="1418" stroke="#000" stroke-width="7.5" stroke-linecap="butt" />
<line x1="205" y1="945.5" x2="211.8" y2="945.5" stroke="#000" stroke-width="7.5" stroke-linecap="butt" />
<line x1="1008" y1="945.5" x2="1001.2" y2="945.5" stroke="#000" stroke-width="7.5" stroke-linecap="butt" />
<line x1="205" y1="1134.5" x2="211.8" y2="1134.5" stroke="#000" stroke-width="7.5" stroke-linecap="butt" />
<line x1="1008" y1="1134.5" x2="1001.2" y2="1134.5" stroke="#000" stroke-width="7.5" stroke-linecap="butt" />
<line x1="205" y1="1323.5" x2="211.8" y2="1323.5" stroke="#000" stroke-width="7.5" stroke-linecap="butt" />
<line x1="1008" y1="1323.5" x2="1001.2" y2="1323.5" stroke="#000" stroke-width="7.5" stroke-linecap="butt" />
<line x1="205" y1="1512.5" x2="211.8" y2="1512.5" stroke="#000" stroke-width="7.5" stroke-linecap="butt" />
<line x1="1008" y1="1512.5" x2="1001.2" y2="1512.5" stroke="#000" stroke-width="7.5" stroke-linecap="butt" />
<rect x="205" y="905.5" width="803" height="647.5" fill="none" stroke="#000" stroke-width="7.5" stroke-linejoin="miter"/>
<text x="338" y="1618.5" font-size="70" text-anchor="end"  style="">-30</text>
<text x="606.8" y="1618.5" font-size="70" text-anchor="middle"  style="">0</text>
<text x="908" y="1618.5" font-size="70" text-anchor="middle"  style="">30</text>
<text x="191.5" y="1065.1" font-size="70" text-anchor="end"  style="">1</text>
<text x="191.5" y="1254.1" font-size="70" text-anchor="end"  style="">0</text>
<text x="191.5" y="1443.1" font-size="70" text-anchor="end"  style="">-1</text>
<line x1="218" y1="953" x2="296" y2="953" stroke="#ff0000" stroke-width="3" stroke-linecap="round" />
<circle cx="257" cy="953" r="9.7" fill="#ff0000" />
<text x="304.5" y="968.2" font-size="42" text-anchor="start"  style="">1.5x10<tspan font-size="24" dy="-15">10</tspan><tspan dy="15"> A/m</tspan><tspan font-size="24" dy="-15">2</tspan></text>
<line x1="652" y1="954.2" x2="728" y2="954.2" stroke="#000" stroke-width="2.8" stroke-linecap="round" />
<circle cx="690.3" cy="954.2" r="9.4" fill="#000" />
<text x="735" y="967.4" font-size="42" text-anchor="start"  style="">-1.5x10<tspan font-size="24" dy="-15">10</tspan><tspan dy="15"> A/m</tspan><tspan font-size="24" dy="-15">2</tspan></text>
<text x="966" y="1450.8" font-size="58" text-anchor="end"  style="">100 <tspan font-size="31" dy="-19">o</tspan><tspan dy="19">C</tspan></text>
<text x="983" y="1513.5" font-size="58" text-anchor="end"  style=""><tspan font-style="italic">H</tspan><tspan font-size="33" dy="18">x</tspan><tspan dy="-18"> = 200 Oe</tspan></text>
<text x="440" y="1525.5" font-size="58" text-anchor="start" fill="#1540d8" style=""><tspan font-style="italic">2H</tspan><tspan font-size="33" dy="20.5">z</tspan><tspan font-size="34" dy="-48" dx="-1">eff</tspan></text>
<line x1="590" y1="1517.8" x2="625" y2="1517.8" stroke="#1540d8" stroke-width="1.6" stroke-linecap="butt" />
<polygon points="578.8,1517.8 594.8,1513.3 594.8,1522.3" fill="#1540d8" />
<polygon points="636.6,1517.8 620.6,1513.3 620.6,1522.3" fill="#1540d8" />
<text x="607.6" y="1678" font-size="70" text-anchor="middle"  style=""><tspan font-style="italic">H</tspan><tspan font-size="44" dy="21">z</tspan><tspan dy="-21"> (Oe)</tspan></text>
<g transform="translate(125.7,1234) rotate(-90)">
<text x="0" y="0" font-size="70" text-anchor="middle"  style=""><tspan font-style="italic">R</tspan><tspan font-size="44" dy="21">H</tspan><tspan dy="-21"> (a.u.)</tspan></text>
</g>
<text x="34" y="924" font-size="70" text-anchor="start"  style="">(c)</text>
<clipPath id="cd"><rect x="1187.5" y="902" width="807.0" height="647"/></clipPath>
<g clip-path="url(#cd)">
<polyline points="2002.2,1090.6 1997.7,1091.6 1993.2,1088.9 1988.6,1087.9 1984.1,1089.3 1979.5,1090.2 1975,1088.6 1970.5,1090.3 1965.9,1090.6 1961.4,1090 1956.9,1092.4 1952.3,1091 1947.8,1095.8 1943.2,1099.7 1938.7,1098.9 1934.2,1098.2 1929.6,1097.4 1925.1,1090.2 1920.6,1085.6 1916,1085.8 1911.5,1083.4 1906.9,1085.7 1902.4,1089.9 1897.9,1088.1 1893.3,1090.3 1888.8,1088 1884.3,1087.8 1879.7,1086.7 1875.2,1089.1 1870.6,1085 1866.1,1086 1861.6,1087.6 1857,1090 1852.5,1094 1848,1094.9 1843.4,1095.5 1838.9,1093.6 1834.3,1093.4 1829.8,1087.7 1825.3,1092.8 1820.7,1093.7 1816.2,1094.1 1811.7,1094 1807.1,1100.9 1802.6,1099.1 1798,1102.6 1793.5,1104.8 1789,1106.9 1784.4,1107.5 1779.9,1106.6 1775.4,1107.6 1770.8,1107.8 1766.3,1105.4 1761.7,1100.7 1757.2,1100.4 1752.7,1099 1748.1,1095.8 1743.6,1097.2 1739.1,1100.2 1734.5,1101.6 1730,1095 1725.4,1097.8 1720.9,1098 1716.4,1095.6 1711.8,1095.3 1707.3,1095 1702.8,1096.9 1698.2,1094.1 1693.7,1097.9 1689.1,1093.7 1684.6,1100.6 1680.1,1098.7 1675.5,1102.2 1671,1098.3 1666.5,1101.1 1661.9,1104.7 1657.4,1103.5 1652.8,1100.2 1648.3,1101.8 1643.8,1101 1639.2,1098.8 1634.7,1104.6 1630.2,1104.8 1625.6,1101.6 1621.1,1106.7 1616.5,1104.1 1612,1100.4 1601.9,1118.5 1581,1208.7 1570.5,1262.7 1570,1290 1568,1421 1560,1446 1555.5,1443.7 1550.9,1443.4 1546.4,1436.4 1541.9,1430.1 1537.4,1429.8 1532.8,1430.6 1528.3,1438 1523.8,1442.4 1519.3,1444.9 1514.7,1444.6 1510.2,1452 1505.7,1447 1501.2,1443.5 1496.6,1446.7 1492.1,1448.6 1487.6,1442.1 1483,1438.7 1478.5,1445.3 1474,1444.7 1469.5,1437.5 1464.9,1437.8 1460.4,1437.9 1455.9,1435.8 1451.4,1435.7 1446.8,1442.2 1442.3,1445.4 1437.8,1443 1433.3,1443.4 1428.7,1445.7 1424.2,1443.6 1419.7,1444.6 1415.2,1447.5 1410.6,1443.6 1406.1,1443.7 1401.6,1439.2 1397,1430 1392.5,1434.5 1388,1435.2 1383.5,1431.6 1378.9,1430.6 1374.4,1433.1 1369.9,1426.7 1365.4,1427.8 1360.8,1429.7 1356.3,1427.1 1351.8,1433.2 1347.3,1433.1 1342.7,1431 1338.2,1431.9 1333.7,1438.4 1329.1,1431.8 1324.6,1440.5 1320.1,1441.1 1315.6,1439.9 1311,1440.7 1306.5,1449.3 1302,1442.6 1297.5,1448 1292.9,1445.1 1288.4,1447.8 1283.9,1441.5 1279.4,1441.8 1274.8,1444.3 1270.3,1447.4 1265.8,1444.5 1261.2,1453.2 1256.7,1455.3 1252.2,1447.4 1247.7,1448.6 1243.1,1444.9 1238.6,1441.7 1234.1,1444.1 1229.6,1444.8 1225,1440.9 1220.5,1444.8 1216,1441.6 1211.5,1435.2 1206.9,1438.5 1202.4,1434.4 1197.9,1432.7 1193.3,1431.4 1188.8,1433.5 1184.3,1431.8 1179.8,1437.8" fill="none" stroke="#000" stroke-width="6.5" stroke-linejoin="round" stroke-linecap="round" />
<circle cx="2002.2" cy="1090.6" r="13.3" fill="#000" />
<circle cx="1997.7" cy="1091.6" r="13.3" fill="#000" />
<circle cx="1993.2" cy="1088.9" r="13.3" fill="#000" />
<circle cx="1988.6" cy="1087.9" r="13.3" fill="#000" />
<circle cx="1984.1" cy="1089.3" r="13.3" fill="#000" />
<circle cx="1979.5" cy="1090.2" r="13.3" fill="#000" />
<circle cx="1975" cy="1088.6" r="13.3" fill="#000" />
<circle cx="1970.5" cy="1090.3" r="13.3" fill="#000" />
<circle cx="1965.9" cy="1090.6" r="13.3" fill="#000" />
<circle cx="1961.4" cy="1090" r="13.3" fill="#000" />
<circle cx="1956.9" cy="1092.4" r="13.3" fill="#000" />
<circle cx="1952.3" cy="1091" r="13.3" fill="#000" />
<circle cx="1947.8" cy="1095.8" r="13.3" fill="#000" />
<circle cx="1943.2" cy="1099.7" r="13.3" fill="#000" />
<circle cx="1938.7" cy="1098.9" r="13.3" fill="#000" />
<circle cx="1934.2" cy="1098.2" r="13.3" fill="#000" />
<circle cx="1929.6" cy="1097.4" r="13.3" fill="#000" />
<circle cx="1925.1" cy="1090.2" r="13.3" fill="#000" />
<circle cx="1920.6" cy="1085.6" r="13.3" fill="#000" />
<circle cx="1916" cy="1085.8" r="13.3" fill="#000" />
<circle cx="1911.5" cy="1083.4" r="13.3" fill="#000" />
<circle cx="1906.9" cy="1085.7" r="13.3" fill="#000" />
<circle cx="1902.4" cy="1089.9" r="13.3" fill="#000" />
<circle cx="1897.9" cy="1088.1" r="13.3" fill="#000" />
<circle cx="1893.3" cy="1090.3" r="13.3" fill="#000" />
<circle cx="1888.8" cy="1088" r="13.3" fill="#000" />
<circle cx="1884.3" cy="1087.8" r="13.3" fill="#000" />
<circle cx="1879.7" cy="1086.7" r="13.3" fill="#000" />
<circle cx="1875.2" cy="1089.1" r="13.3" fill="#000" />
<circle cx="1870.6" cy="1085" r="13.3" fill="#000" />
<circle cx="1866.1" cy="1086" r="13.3" fill="#000" />
<circle cx="1861.6" cy="1087.6" r="13.3" fill="#000" />
<circle cx="1857" cy="1090" r="13.3" fill="#000" />
<circle cx="1852.5" cy="1094" r="13.3" fill="#000" />
<circle cx="1848" cy="1094.9" r="13.3" fill="#000" />
<circle cx="1843.4" cy="1095.5" r="13.3" fill="#000" />
<circle cx="1838.9" cy="1093.6" r="13.3" fill="#000" />
<circle cx="1834.3" cy="1093.4" r="13.3" fill="#000" />
<circle cx="1829.8" cy="1087.7" r="13.3" fill="#000" />
<circle cx="1825.3" cy="1092.8" r="13.3" fill="#000" />
<circle cx="1820.7" cy="1093.7" r="13.3" fill="#000" />
<circle cx="1816.2" cy="1094.1" r="13.3" fill="#000" />
<circle cx="1811.7" cy="1094" r="13.3" fill="#000" />
<circle cx="1807.1" cy="1100.9" r="13.3" fill="#000" />
<circle cx="1802.6" cy="1099.1" r="13.3" fill="#000" />
<circle cx="1798" cy="1102.6" r="13.3" fill="#000" />
<circle cx="1793.5" cy="1104.8" r="13.3" fill="#000" />
<circle cx="1789" cy="1106.9" r="13.3" fill="#000" />
<circle cx="1784.4" cy="1107.5" r="13.3" fill="#000" />
<circle cx="1779.9" cy="1106.6" r="13.3" fill="#000" />
<circle cx="1775.4" cy="1107.6" r="13.3" fill="#000" />
<circle cx="1770.8" cy="1107.8" r="13.3" fill="#000" />
<circle cx="1766.3" cy="1105.4" r="13.3" fill="#000" />
<circle cx="1761.7" cy="1100.7" r="13.3" fill="#000" />
<circle cx="1757.2" cy="1100.4" r="13.3" fill="#000" />
<circle cx="1752.7" cy="1099" r="13.3" fill="#000" />
<circle cx="1748.1" cy="1095.8" r="13.3" fill="#000" />
<circle cx="1743.6" cy="1097.2" r="13.3" fill="#000" />
<circle cx="1739.1" cy="1100.2" r="13.3" fill="#000" />
<circle cx="1734.5" cy="1101.6" r="13.3" fill="#000" />
<circle cx="1730" cy="1095" r="13.3" fill="#000" />
<circle cx="1725.4" cy="1097.8" r="13.3" fill="#000" />
<circle cx="1720.9" cy="1098" r="13.3" fill="#000" />
<circle cx="1716.4" cy="1095.6" r="13.3" fill="#000" />
<circle cx="1711.8" cy="1095.3" r="13.3" fill="#000" />
<circle cx="1707.3" cy="1095" r="13.3" fill="#000" />
<circle cx="1702.8" cy="1096.9" r="13.3" fill="#000" />
<circle cx="1698.2" cy="1094.1" r="13.3" fill="#000" />
<circle cx="1693.7" cy="1097.9" r="13.3" fill="#000" />
<circle cx="1689.1" cy="1093.7" r="13.3" fill="#000" />
<circle cx="1684.6" cy="1100.6" r="13.3" fill="#000" />
<circle cx="1680.1" cy="1098.7" r="13.3" fill="#000" />
<circle cx="1675.5" cy="1102.2" r="13.3" fill="#000" />
<circle cx="1671" cy="1098.3" r="13.3" fill="#000" />
<circle cx="1666.5" cy="1101.1" r="13.3" fill="#000" />
<circle cx="1661.9" cy="1104.7" r="13.3" fill="#000" />
<circle cx="1657.4" cy="1103.5" r="13.3" fill="#000" />
<circle cx="1652.8" cy="1100.2" r="13.3" fill="#000" />
<circle cx="1648.3" cy="1101.8" r="13.3" fill="#000" />
<circle cx="1643.8" cy="1101" r="13.3" fill="#000" />
<circle cx="1639.2" cy="1098.8" r="13.3" fill="#000" />
<circle cx="1634.7" cy="1104.6" r="13.3" fill="#000" />
<circle cx="1630.2" cy="1104.8" r="13.3" fill="#000" />
<circle cx="1625.6" cy="1101.6" r="13.3" fill="#000" />
<circle cx="1621.1" cy="1106.7" r="13.3" fill="#000" />
<circle cx="1616.5" cy="1104.1" r="13.3" fill="#000" />
<circle cx="1612" cy="1100.4" r="13.3" fill="#000" />
<circle cx="1601.9" cy="1118.5" r="13.3" fill="#000" />
<circle cx="1581" cy="1208.7" r="13.3" fill="#000" />
<circle cx="1570.5" cy="1262.7" r="13.3" fill="#000" />
<circle cx="1570" cy="1290" r="13.3" fill="#000" />
<circle cx="1568" cy="1421" r="13.3" fill="#000" />
<circle cx="1560" cy="1446" r="13.3" fill="#000" />
<circle cx="1555.5" cy="1443.7" r="13.3" fill="#000" />
<circle cx="1550.9" cy="1443.4" r="13.3" fill="#000" />
<circle cx="1546.4" cy="1436.4" r="13.3" fill="#000" />
<circle cx="1541.9" cy="1430.1" r="13.3" fill="#000" />
<circle cx="1537.4" cy="1429.8" r="13.3" fill="#000" />
<circle cx="1532.8" cy="1430.6" r="13.3" fill="#000" />
<circle cx="1528.3" cy="1438" r="13.3" fill="#000" />
<circle cx="1523.8" cy="1442.4" r="13.3" fill="#000" />
<circle cx="1519.3" cy="1444.9" r="13.3" fill="#000" />
<circle cx="1514.7" cy="1444.6" r="13.3" fill="#000" />
<circle cx="1510.2" cy="1452" r="13.3" fill="#000" />
<circle cx="1505.7" cy="1447" r="13.3" fill="#000" />
<circle cx="1501.2" cy="1443.5" r="13.3" fill="#000" />
<circle cx="1496.6" cy="1446.7" r="13.3" fill="#000" />
<circle cx="1492.1" cy="1448.6" r="13.3" fill="#000" />
<circle cx="1487.6" cy="1442.1" r="13.3" fill="#000" />
<circle cx="1483" cy="1438.7" r="13.3" fill="#000" />
<circle cx="1478.5" cy="1445.3" r="13.3" fill="#000" />
<circle cx="1474" cy="1444.7" r="13.3" fill="#000" />
<circle cx="1469.5" cy="1437.5" r="13.3" fill="#000" />
<circle cx="1464.9" cy="1437.8" r="13.3" fill="#000" />
<circle cx="1460.4" cy="1437.9" r="13.3" fill="#000" />
<circle cx="1455.9" cy="1435.8" r="13.3" fill="#000" />
<circle cx="1451.4" cy="1435.7" r="13.3" fill="#000" />
<circle cx="1446.8" cy="1442.2" r="13.3" fill="#000" />
<circle cx="1442.3" cy="1445.4" r="13.3" fill="#000" />
<circle cx="1437.8" cy="1443" r="13.3" fill="#000" />
<circle cx="1433.3" cy="1443.4" r="13.3" fill="#000" />
<circle cx="1428.7" cy="1445.7" r="13.3" fill="#000" />
<circle cx="1424.2" cy="1443.6" r="13.3" fill="#000" />
<circle cx="1419.7" cy="1444.6" r="13.3" fill="#000" />
<circle cx="1415.2" cy="1447.5" r="13.3" fill="#000" />
<circle cx="1410.6" cy="1443.6" r="13.3" fill="#000" />
<circle cx="1406.1" cy="1443.7" r="13.3" fill="#000" />
<circle cx="1401.6" cy="1439.2" r="13.3" fill="#000" />
<circle cx="1397" cy="1430" r="13.3" fill="#000" />
<circle cx="1392.5" cy="1434.5" r="13.3" fill="#000" />
<circle cx="1388" cy="1435.2" r="13.3" fill="#000" />
<circle cx="1383.5" cy="1431.6" r="13.3" fill="#000" />
<circle cx="1378.9" cy="1430.6" r="13.3" fill="#000" />
<circle cx="1374.4" cy="1433.1" r="13.3" fill="#000" />
<circle cx="1369.9" cy="1426.7" r="13.3" fill="#000" />
<circle cx="1365.4" cy="1427.8" r="13.3" fill="#000" />
<circle cx="1360.8" cy="1429.7" r="13.3" fill="#000" />
<circle cx="1356.3" cy="1427.1" r="13.3" fill="#000" />
<circle cx="1351.8" cy="1433.2" r="13.3" fill="#000" />
<circle cx="1347.3" cy="1433.1" r="13.3" fill="#000" />
<circle cx="1342.7" cy="1431" r="13.3" fill="#000" />
<circle cx="1338.2" cy="1431.9" r="13.3" fill="#000" />
<circle cx="1333.7" cy="1438.4" r="13.3" fill="#000" />
<circle cx="1329.1" cy="1431.8" r="13.3" fill="#000" />
<circle cx="1324.6" cy="1440.5" r="13.3" fill="#000" />
<circle cx="1320.1" cy="1441.1" r="13.3" fill="#000" />
<circle cx="1315.6" cy="1439.9" r="13.3" fill="#000" />
<circle cx="1311" cy="1440.7" r="13.3" fill="#000" />
<circle cx="1306.5" cy="1449.3" r="13.3" fill="#000" />
<circle cx="1302" cy="1442.6" r="13.3" fill="#000" />
<circle cx="1297.5" cy="1448" r="13.3" fill="#000" />
<circle cx="1292.9" cy="1445.1" r="13.3" fill="#000" />
<circle cx="1288.4" cy="1447.8" r="13.3" fill="#000" />
<circle cx="1283.9" cy="1441.5" r="13.3" fill="#000" />
<circle cx="1279.4" cy="1441.8" r="13.3" fill="#000" />
<circle cx="1274.8" cy="1444.3" r="13.3" fill="#000" />
<circle cx="1270.3" cy="1447.4" r="13.3" fill="#000" />
<circle cx="1265.8" cy="1444.5" r="13.3" fill="#000" />
<circle cx="1261.2" cy="1453.2" r="13.3" fill="#000" />
<circle cx="1256.7" cy="1455.3" r="13.3" fill="#000" />
<circle cx="1252.2" cy="1447.4" r="13.3" fill="#000" />
<circle cx="1247.7" cy="1448.6" r="13.3" fill="#000" />
<circle cx="1243.1" cy="1444.9" r="13.3" fill="#000" />
<circle cx="1238.6" cy="1441.7" r="13.3" fill="#000" />
<circle cx="1234.1" cy="1444.1" r="13.3" fill="#000" />
<circle cx="1229.6" cy="1444.8" r="13.3" fill="#000" />
<circle cx="1225" cy="1440.9" r="13.3" fill="#000" />
<circle cx="1220.5" cy="1444.8" r="13.3" fill="#000" />
<circle cx="1216" cy="1441.6" r="13.3" fill="#000" />
<circle cx="1211.5" cy="1435.2" r="13.3" fill="#000" />
<circle cx="1206.9" cy="1438.5" r="13.3" fill="#000" />
<circle cx="1202.4" cy="1434.4" r="13.3" fill="#000" />
<circle cx="1197.9" cy="1432.7" r="13.3" fill="#000" />
<circle cx="1193.3" cy="1431.4" r="13.3" fill="#000" />
<circle cx="1188.8" cy="1433.5" r="13.3" fill="#000" />
<circle cx="1184.3" cy="1431.8" r="13.3" fill="#000" />
<circle cx="1179.8" cy="1437.8" r="13.3" fill="#000" />
</g>
<g clip-path="url(#cd)">
<polyline points="1179.8,1440 1184.3,1439.5 1188.8,1437.6 1193.4,1432.8 1197.9,1432.9 1202.4,1432.2 1207,1429.9 1211.5,1432 1216,1439.1 1220.5,1445.5 1225.1,1449 1229.6,1451 1234.1,1447.6 1238.7,1447.5 1243.2,1445.4 1247.7,1444.1 1252.2,1445 1256.8,1451.6 1261.3,1451.1 1265.8,1452.3 1270.4,1450.5 1274.9,1451.6 1279.4,1448.8 1284,1447 1288.5,1447.8 1293,1444.9 1297.5,1448.8 1302.1,1447.8 1306.6,1450 1311.1,1446.9 1315.7,1447.6 1320.2,1448.5 1324.7,1447.9 1329.3,1441.3 1333.8,1439.5 1338.3,1439.3 1342.8,1439.7 1347.4,1441.2 1351.9,1447.6 1356.4,1446.7 1361,1448.7 1365.5,1444.4 1370,1449 1374.6,1444.3 1379.1,1448.9 1383.6,1448.8 1388.2,1443.9 1392.7,1438.6 1397.2,1439.8 1401.7,1431.3 1406.3,1432.2 1410.8,1436.7 1415.3,1435.5 1419.9,1432.4 1424.4,1443.4 1428.9,1442.5 1433.5,1443.9 1438,1449.2 1442.5,1451.6 1447,1449.7 1451.6,1448.2 1456.1,1445.1 1460.6,1440.7 1465.2,1442.2 1469.7,1443.1 1474.2,1444.2 1478.8,1443.9 1483.3,1443.2 1487.8,1443.9 1492.3,1437.9 1496.9,1435.8 1501.4,1435.9 1505.9,1434.8 1510.5,1433.3 1515,1433.9 1519.5,1440.9 1524,1444.7 1528.6,1447.4 1533.1,1447.4 1537.6,1455.3 1542.2,1450.2 1546.7,1445.9 1551.2,1445.2 1555.8,1446 1560.3,1443.5 1564.8,1442.3 1569.3,1448.5 1573.9,1444.8 1578.4,1445.7 1582.9,1438.4 1587.5,1438.3 1592,1431.9 1601.9,1426.4 1605.4,1414.2 1612.3,1391.5 1619.3,1327.1 1626.3,1294.9 1633.2,1208.7 1639.3,1155 1653.3,1133.3 1665,1112 1675,1104.7 1679.5,1106.7 1684.1,1109.3 1688.6,1102.7 1693.2,1102.5 1697.7,1099.4 1702.3,1097.5 1706.8,1094.4 1711.4,1095.9 1715.9,1095.1 1720.4,1097.2 1725,1095.1 1729.5,1096.4 1734.1,1100.4 1738.6,1097.5 1743.2,1098 1747.7,1098.6 1752.3,1098.4 1756.8,1092.8 1761.4,1096.6 1765.9,1094.4 1770.4,1096.8 1775,1095.8 1779.5,1097.5 1784.1,1098.5 1788.6,1100.1 1793.2,1095 1797.7,1096 1802.3,1096.9 1806.8,1095.6 1811.3,1098.2 1815.9,1104.3 1820.4,1100.4 1825,1097.9 1829.5,1101.5 1834.1,1102.4 1838.6,1097.9 1843.2,1097.6 1847.7,1097.8 1852.2,1093.1 1856.8,1086.2 1861.3,1087.8 1865.9,1087.5 1870.4,1086.1 1875,1089.1 1879.5,1091 1884.1,1090.7 1888.6,1094.8 1893.2,1099.2 1897.7,1096.3 1902.2,1097.8 1906.8,1096 1911.3,1098.4 1915.9,1097.9 1920.4,1096 1925,1095.8 1929.5,1099.1 1934.1,1096.2 1938.6,1098.7 1943.1,1104.1 1947.7,1102.8 1952.2,1100.8 1956.8,1096.8 1961.3,1093.1 1965.9,1090.3 1970.4,1097.4 1975,1097.7 1979.5,1095.8 1984.1,1093.6 1988.6,1093.4 1993.1,1084.4 1997.7,1084.1 2002.2,1088.6" fill="none" stroke="#000" stroke-width="6.5" stroke-linejoin="round" stroke-linecap="round" />
<circle cx="1179.8" cy="1440" r="13.3" fill="#000" />
<circle cx="1184.3" cy="1439.5" r="13.3" fill="#000" />
<circle cx="1188.8" cy="1437.6" r="13.3" fill="#000" />
<circle cx="1193.4" cy="1432.8" r="13.3" fill="#000" />
<circle cx="1197.9" cy="1432.9" r="13.3" fill="#000" />
<circle cx="1202.4" cy="1432.2" r="13.3" fill="#000" />
<circle cx="1207" cy="1429.9" r="13.3" fill="#000" />
<circle cx="1211.5" cy="1432" r="13.3" fill="#000" />
<circle cx="1216" cy="1439.1" r="13.3" fill="#000" />
<circle cx="1220.5" cy="1445.5" r="13.3" fill="#000" />
<circle cx="1225.1" cy="1449" r="13.3" fill="#000" />
<circle cx="1229.6" cy="1451" r="13.3" fill="#000" />
<circle cx="1234.1" cy="1447.6" r="13.3" fill="#000" />
<circle cx="1238.7" cy="1447.5" r="13.3" fill="#000" />
<circle cx="1243.2" cy="1445.4" r="13.3" fill="#000" />
<circle cx="1247.7" cy="1444.1" r="13.3" fill="#000" />
<circle cx="1252.2" cy="1445" r="13.3" fill="#000" />
<circle cx="1256.8" cy="1451.6" r="13.3" fill="#000" />
<circle cx="1261.3" cy="1451.1" r="13.3" fill="#000" />
<circle cx="1265.8" cy="1452.3" r="13.3" fill="#000" />
<circle cx="1270.4" cy="1450.5" r="13.3" fill="#000" />
<circle cx="1274.9" cy="1451.6" r="13.3" fill="#000" />
<circle cx="1279.4" cy="1448.8" r="13.3" fill="#000" />
<circle cx="1284" cy="1447" r="13.3" fill="#000" />
<circle cx="1288.5" cy="1447.8" r="13.3" fill="#000" />
<circle cx="1293" cy="1444.9" r="13.3" fill="#000" />
<circle cx="1297.5" cy="1448.8" r="13.3" fill="#000" />
<circle cx="1302.1" cy="1447.8" r="13.3" fill="#000" />
<circle cx="1306.6" cy="1450" r="13.3" fill="#000" />
<circle cx="1311.1" cy="1446.9" r="13.3" fill="#000" />
<circle cx="1315.7" cy="1447.6" r="13.3" fill="#000" />
<circle cx="1320.2" cy="1448.5" r="13.3" fill="#000" />
<circle cx="1324.7" cy="1447.9" r="13.3" fill="#000" />
<circle cx="1329.3" cy="1441.3" r="13.3" fill="#000" />
<circle cx="1333.8" cy="1439.5" r="13.3" fill="#000" />
<circle cx="1338.3" cy="1439.3" r="13.3" fill="#000" />
<circle cx="1342.8" cy="1439.7" r="13.3" fill="#000" />
<circle cx="1347.4" cy="1441.2" r="13.3" fill="#000" />
<circle cx="1351.9" cy="1447.6" r="13.3" fill="#000" />
<circle cx="1356.4" cy="1446.7" r="13.3" fill="#000" />
<circle cx="1361" cy="1448.7" r="13.3" fill="#000" />
<circle cx="1365.5" cy="1444.4" r="13.3" fill="#000" />
<circle cx="1370" cy="1449" r="13.3" fill="#000" />
<circle cx="1374.6" cy="1444.3" r="13.3" fill="#000" />
<circle cx="1379.1" cy="1448.9" r="13.3" fill="#000" />
<circle cx="1383.6" cy="1448.8" r="13.3" fill="#000" />
<circle cx="1388.2" cy="1443.9" r="13.3" fill="#000" />
<circle cx="1392.7" cy="1438.6" r="13.3" fill="#000" />
<circle cx="1397.2" cy="1439.8" r="13.3" fill="#000" />
<circle cx="1401.7" cy="1431.3" r="13.3" fill="#000" />
<circle cx="1406.3" cy="1432.2" r="13.3" fill="#000" />
<circle cx="1410.8" cy="1436.7" r="13.3" fill="#000" />
<circle cx="1415.3" cy="1435.5" r="13.3" fill="#000" />
<circle cx="1419.9" cy="1432.4" r="13.3" fill="#000" />
<circle cx="1424.4" cy="1443.4" r="13.3" fill="#000" />
<circle cx="1428.9" cy="1442.5" r="13.3" fill="#000" />
<circle cx="1433.5" cy="1443.9" r="13.3" fill="#000" />
<circle cx="1438" cy="1449.2" r="13.3" fill="#000" />
<circle cx="1442.5" cy="1451.6" r="13.3" fill="#000" />
<circle cx="1447" cy="1449.7" r="13.3" fill="#000" />
<circle cx="1451.6" cy="1448.2" r="13.3" fill="#000" />
<circle cx="1456.1" cy="1445.1" r="13.3" fill="#000" />
<circle cx="1460.6" cy="1440.7" r="13.3" fill="#000" />
<circle cx="1465.2" cy="1442.2" r="13.3" fill="#000" />
<circle cx="1469.7" cy="1443.1" r="13.3" fill="#000" />
<circle cx="1474.2" cy="1444.2" r="13.3" fill="#000" />
<circle cx="1478.8" cy="1443.9" r="13.3" fill="#000" />
<circle cx="1483.3" cy="1443.2" r="13.3" fill="#000" />
<circle cx="1487.8" cy="1443.9" r="13.3" fill="#000" />
<circle cx="1492.3" cy="1437.9" r="13.3" fill="#000" />
<circle cx="1496.9" cy="1435.8" r="13.3" fill="#000" />
<circle cx="1501.4" cy="1435.9" r="13.3" fill="#000" />
<circle cx="1505.9" cy="1434.8" r="13.3" fill="#000" />
<circle cx="1510.5" cy="1433.3" r="13.3" fill="#000" />
<circle cx="1515" cy="1433.9" r="13.3" fill="#000" />
<circle cx="1519.5" cy="1440.9" r="13.3" fill="#000" />
<circle cx="1524" cy="1444.7" r="13.3" fill="#000" />
<circle cx="1528.6" cy="1447.4" r="13.3" fill="#000" />
<circle cx="1533.1" cy="1447.4" r="13.3" fill="#000" />
<circle cx="1537.6" cy="1455.3" r="13.3" fill="#000" />
<circle cx="1542.2" cy="1450.2" r="13.3" fill="#000" />
<circle cx="1546.7" cy="1445.9" r="13.3" fill="#000" />
<circle cx="1551.2" cy="1445.2" r="13.3" fill="#000" />
<circle cx="1555.8" cy="1446" r="13.3" fill="#000" />
<circle cx="1560.3" cy="1443.5" r="13.3" fill="#000" />
<circle cx="1564.8" cy="1442.3" r="13.3" fill="#000" />
<circle cx="1569.3" cy="1448.5" r="13.3" fill="#000" />
<circle cx="1573.9" cy="1444.8" r="13.3" fill="#000" />
<circle cx="1578.4" cy="1445.7" r="13.3" fill="#000" />
<circle cx="1582.9" cy="1438.4" r="13.3" fill="#000" />
<circle cx="1587.5" cy="1438.3" r="13.3" fill="#000" />
<circle cx="1592" cy="1431.9" r="13.3" fill="#000" />
<circle cx="1601.9" cy="1426.4" r="13.3" fill="#000" />
<circle cx="1605.4" cy="1414.2" r="13.3" fill="#000" />
<circle cx="1612.3" cy="1391.5" r="13.3" fill="#000" />
<circle cx="1619.3" cy="1327.1" r="13.3" fill="#000" />
<circle cx="1626.3" cy="1294.9" r="13.3" fill="#000" />
<circle cx="1633.2" cy="1208.7" r="13.3" fill="#000" />
<circle cx="1639.3" cy="1155" r="13.3" fill="#000" />
<circle cx="1653.3" cy="1133.3" r="13.3" fill="#000" />
<circle cx="1665" cy="1112" r="13.3" fill="#000" />
<circle cx="1675" cy="1104.7" r="13.3" fill="#000" />
<circle cx="1679.5" cy="1106.7" r="13.3" fill="#000" />
<circle cx="1684.1" cy="1109.3" r="13.3" fill="#000" />
<circle cx="1688.6" cy="1102.7" r="13.3" fill="#000" />
<circle cx="1693.2" cy="1102.5" r="13.3" fill="#000" />
<circle cx="1697.7" cy="1099.4" r="13.3" fill="#000" />
<circle cx="1702.3" cy="1097.5" r="13.3" fill="#000" />
<circle cx="1706.8" cy="1094.4" r="13.3" fill="#000" />
<circle cx="1711.4" cy="1095.9" r="13.3" fill="#000" />
<circle cx="1715.9" cy="1095.1" r="13.3" fill="#000" />
<circle cx="1720.4" cy="1097.2" r="13.3" fill="#000" />
<circle cx="1725" cy="1095.1" r="13.3" fill="#000" />
<circle cx="1729.5" cy="1096.4" r="13.3" fill="#000" />
<circle cx="1734.1" cy="1100.4" r="13.3" fill="#000" />
<circle cx="1738.6" cy="1097.5" r="13.3" fill="#000" />
<circle cx="1743.2" cy="1098" r="13.3" fill="#000" />
<circle cx="1747.7" cy="1098.6" r="13.3" fill="#000" />
<circle cx="1752.3" cy="1098.4" r="13.3" fill="#000" />
<circle cx="1756.8" cy="1092.8" r="13.3" fill="#000" />
<circle cx="1761.4" cy="1096.6" r="13.3" fill="#000" />
<circle cx="1765.9" cy="1094.4" r="13.3" fill="#000" />
<circle cx="1770.4" cy="1096.8" r="13.3" fill="#000" />
<circle cx="1775" cy="1095.8" r="13.3" fill="#000" />
<circle cx="1779.5" cy="1097.5" r="13.3" fill="#000" />
<circle cx="1784.1" cy="1098.5" r="13.3" fill="#000" />
<circle cx="1788.6" cy="1100.1" r="13.3" fill="#000" />
<circle cx="1793.2" cy="1095" r="13.3" fill="#000" />
<circle cx="1797.7" cy="1096" r="13.3" fill="#000" />
<circle cx="1802.3" cy="1096.9" r="13.3" fill="#000" />
<circle cx="1806.8" cy="1095.6" r="13.3" fill="#000" />
<circle cx="1811.3" cy="1098.2" r="13.3" fill="#000" />
<circle cx="1815.9" cy="1104.3" r="13.3" fill="#000" />
<circle cx="1820.4" cy="1100.4" r="13.3" fill="#000" />
<circle cx="1825" cy="1097.9" r="13.3" fill="#000" />
<circle cx="1829.5" cy="1101.5" r="13.3" fill="#000" />
<circle cx="1834.1" cy="1102.4" r="13.3" fill="#000" />
<circle cx="1838.6" cy="1097.9" r="13.3" fill="#000" />
<circle cx="1843.2" cy="1097.6" r="13.3" fill="#000" />
<circle cx="1847.7" cy="1097.8" r="13.3" fill="#000" />
<circle cx="1852.2" cy="1093.1" r="13.3" fill="#000" />
<circle cx="1856.8" cy="1086.2" r="13.3" fill="#000" />
<circle cx="1861.3" cy="1087.8" r="13.3" fill="#000" />
<circle cx="1865.9" cy="1087.5" r="13.3" fill="#000" />
<circle cx="1870.4" cy="1086.1" r="13.3" fill="#000" />
<circle cx="1875" cy="1089.1" r="13.3" fill="#000" />
<circle cx="1879.5" cy="1091" r="13.3" fill="#000" />
<circle cx="1884.1" cy="1090.7" r="13.3" fill="#000" />
<circle cx="1888.6" cy="1094.8" r="13.3" fill="#000" />
<circle cx="1893.2" cy="1099.2" r="13.3" fill="#000" />
<circle cx="1897.7" cy="1096.3" r="13.3" fill="#000" />
<circle cx="1902.2" cy="1097.8" r="13.3" fill="#000" />
<circle cx="1906.8" cy="1096" r="13.3" fill="#000" />
<circle cx="1911.3" cy="1098.4" r="13.3" fill="#000" />
<circle cx="1915.9" cy="1097.9" r="13.3" fill="#000" />
<circle cx="1920.4" cy="1096" r="13.3" fill="#000" />
<circle cx="1925" cy="1095.8" r="13.3" fill="#000" />
<circle cx="1929.5" cy="1099.1" r="13.3" fill="#000" />
<circle cx="1934.1" cy="1096.2" r="13.3" fill="#000" />
<circle cx="1938.6" cy="1098.7" r="13.3" fill="#000" />
<circle cx="1943.1" cy="1104.1" r="13.3" fill="#000" />
<circle cx="1947.7" cy="1102.8" r="13.3" fill="#000" />
<circle cx="1952.2" cy="1100.8" r="13.3" fill="#000" />
<circle cx="1956.8" cy="1096.8" r="13.3" fill="#000" />
<circle cx="1961.3" cy="1093.1" r="13.3" fill="#000" />
<circle cx="1965.9" cy="1090.3" r="13.3" fill="#000" />
<circle cx="1970.4" cy="1097.4" r="13.3" fill="#000" />
<circle cx="1975" cy="1097.7" r="13.3" fill="#000" />
<circle cx="1979.5" cy="1095.8" r="13.3" fill="#000" />
<circle cx="1984.1" cy="1093.6" r="13.3" fill="#000" />
<circle cx="1988.6" cy="1093.4" r="13.3" fill="#000" />
<circle cx="1993.1" cy="1084.4" r="13.3" fill="#000" />
<circle cx="1997.7" cy="1084.1" r="13.3" fill="#000" />
<circle cx="2002.2" cy="1088.6" r="13.3" fill="#000" />
</g>
<g clip-path="url(#cd)">
<polyline points="2002.2,1006.1 1997.7,1006.2 1993.1,1004.6 1988.6,1008.8 1984.1,1008.9 1979.5,1007.5 1975,1005.2 1970.4,1005.9 1965.9,1006.1 1961.4,1004.1 1956.8,1005.6 1952.3,1010.7 1947.7,1012.1 1943.2,1011.7 1938.7,1013.2 1934.1,1016.8 1929.6,1018.1 1925,1020 1920.5,1016 1916,1016.6 1911.4,1016.3 1906.9,1018.1 1902.3,1018.8 1897.8,1025.9 1893.3,1027.4 1888.7,1025.2 1884.2,1021.9 1879.6,1022.6 1875.1,1016.9 1870.6,1020.8 1866,1024.7 1861.5,1022.6 1856.9,1019.1 1852.4,1023.7 1847.9,1020.6 1843.3,1012.8 1838.8,1017.7 1834.2,1021.5 1829.7,1020.1 1825.2,1026.8 1820.6,1032.9 1816.1,1029.9 1811.5,1030.2 1807,1029.4 1802.5,1023.4 1797.9,1024.5 1793.4,1025.4 1788.8,1024.6 1784.3,1031.1 1779.8,1035.2 1775.2,1036.6 1770.7,1039.5 1766.1,1042.1 1761.6,1042.1 1757.1,1040.3 1752.5,1042.6 1748,1039.3 1743.4,1037.7 1738.9,1031.3 1734.4,1030.6 1729.8,1027.6 1725.3,1033 1720.7,1032.1 1716.2,1035.2 1711.7,1035.1 1707.1,1032.3 1702.6,1026.4 1698,1028 1693.5,1024.1 1689,1025.2 1684.4,1026.9 1679.9,1028.1 1675.3,1025.7 1670.8,1026.5 1666.3,1030.4 1661.7,1027.4 1657.2,1032.3 1652.6,1035.9 1648.1,1038.2 1643.6,1031.4 1639,1036.8 1634.5,1037.1 1629.9,1033.7 1625.4,1033.9 1620.9,1038.8 1616.3,1037.2 1611.8,1037.8 1607.2,1038.6 1602.7,1040.5 1598.2,1035.4 1593.6,1039.3 1589.1,1033.2 1584.5,1034.5 1580,1033.3 1578.4,1025.3 1573.2,1079.3 1561.8,1111.5 1553.1,1247.3 1546.2,1287 1532.2,1330.6 1525,1345.2 1520.5,1352.4 1515.9,1352 1511.4,1359.9 1506.8,1362.9 1502.3,1369.1 1497.7,1362.7 1493.2,1367.5 1488.7,1369.4 1484.1,1366.3 1479.6,1361 1475,1361 1470.5,1354 1465.9,1355.8 1461.4,1351.6 1456.9,1354.6 1452.3,1357.1 1447.8,1359.2 1443.2,1351.9 1438.7,1355.3 1434.2,1352.4 1429.6,1351.3 1425.1,1352.2 1420.5,1357.8 1416,1356.5 1411.4,1355.6 1406.9,1347.7 1402.4,1349.2 1397.8,1346.4 1393.3,1346.8 1388.7,1349.9 1384.2,1357.4 1379.6,1345.3 1375.1,1344.8 1370.6,1341.1 1366,1340.6 1361.5,1346.3 1356.9,1353.8 1352.4,1353.6 1347.8,1357.3 1343.3,1354.6 1338.8,1348.1 1334.2,1353.8 1329.7,1350 1325.1,1355.8 1320.6,1351.3 1316,1349.9 1311.5,1349.3 1307,1354.8 1302.4,1346.3 1297.9,1347 1293.3,1344.4 1288.8,1340.3 1284.2,1341.7 1279.7,1340.5 1275.2,1344.4 1270.6,1348 1266.1,1350 1261.5,1347.7 1257,1357.1 1252.5,1357.2 1247.9,1358 1243.4,1358.1 1238.8,1362.5 1234.3,1351 1229.7,1353.7 1225.2,1350 1220.7,1347.1 1216.1,1337.9 1211.6,1338 1207,1332.4 1202.5,1331 1197.9,1333.6 1193.4,1331.9 1188.9,1342.9 1184.3,1344.2 1179.8,1346.5" fill="none" stroke="#ff0000" stroke-width="6.5" stroke-linejoin="round" stroke-linecap="round" />
<circle cx="2002.2" cy="1006.1" r="13.3" fill="#ff0000" />
<circle cx="1997.7" cy="1006.2" r="13.3" fill="#ff0000" />
<circle cx="1993.1" cy="1004.6" r="13.3" fill="#ff0000" />
<circle cx="1988.6" cy="1008.8" r="13.3" fill="#ff0000" />
<circle cx="1984.1" cy="1008.9" r="13.3" fill="#ff0000" />
<circle cx="1979.5" cy="1007.5" r="13.3" fill="#ff0000" />
<circle cx="1975" cy="1005.2" r="13.3" fill="#ff0000" />
<circle cx="1970.4" cy="1005.9" r="13.3" fill="#ff0000" />
<circle cx="1965.9" cy="1006.1" r="13.3" fill="#ff0000" />
<circle cx="1961.4" cy="1004.1" r="13.3" fill="#ff0000" />
<circle cx="1956.8" cy="1005.6" r="13.3" fill="#ff0000" />
<circle cx="1952.3" cy="1010.7" r="13.3" fill="#ff0000" />
<circle cx="1947.7" cy="1012.1" r="13.3" fill="#ff0000" />
<circle cx="1943.2" cy="1011.7" r="13.3" fill="#ff0000" />
<circle cx="1938.7" cy="1013.2" r="13.3" fill="#ff0000" />
<circle cx="1934.1" cy="1016.8" r="13.3" fill="#ff0000" />
<circle cx="1929.6" cy="1018.1" r="13.3" fill="#ff0000" />
<circle cx="1925" cy="1020" r="13.3" fill="#ff0000" />
<circle cx="1920.5" cy="1016" r="13.3" fill="#ff0000" />
<circle cx="1916" cy="1016.6" r="13.3" fill="#ff0000" />
<circle cx="1911.4" cy="1016.3" r="13.3" fill="#ff0000" />
<circle cx="1906.9" cy="1018.1" r="13.3" fill="#ff0000" />
<circle cx="1902.3" cy="1018.8" r="13.3" fill="#ff0000" />
<circle cx="1897.8" cy="1025.9" r="13.3" fill="#ff0000" />
<circle cx="1893.3" cy="1027.4" r="13.3" fill="#ff0000" />
<circle cx="1888.7" cy="1025.2" r="13.3" fill="#ff0000" />
<circle cx="1884.2" cy="1021.9" r="13.3" fill="#ff0000" />
<circle cx="1879.6" cy="1022.6" r="13.3" fill="#ff0000" />
<circle cx="1875.1" cy="1016.9" r="13.3" fill="#ff0000" />
<circle cx="1870.6" cy="1020.8" r="13.3" fill="#ff0000" />
<circle cx="1866" cy="1024.7" r="13.3" fill="#ff0000" />
<circle cx="1861.5" cy="1022.6" r="13.3" fill="#ff0000" />
<circle cx="1856.9" cy="1019.1" r="13.3" fill="#ff0000" />
<circle cx="1852.4" cy="1023.7" r="13.3" fill="#ff0000" />
<circle cx="1847.9" cy="1020.6" r="13.3" fill="#ff0000" />
<circle cx="1843.3" cy="1012.8" r="13.3" fill="#ff0000" />
<circle cx="1838.8" cy="1017.7" r="13.3" fill="#ff0000" />
<circle cx="1834.2" cy="1021.5" r="13.3" fill="#ff0000" />
<circle cx="1829.7" cy="1020.1" r="13.3" fill="#ff0000" />
<circle cx="1825.2" cy="1026.8" r="13.3" fill="#ff0000" />
<circle cx="1820.6" cy="1032.9" r="13.3" fill="#ff0000" />
<circle cx="1816.1" cy="1029.9" r="13.3" fill="#ff0000" />
<circle cx="1811.5" cy="1030.2" r="13.3" fill="#ff0000" />
<circle cx="1807" cy="1029.4" r="13.3" fill="#ff0000" />
<circle cx="1802.5" cy="1023.4" r="13.3" fill="#ff0000" />
<circle cx="1797.9" cy="1024.5" r="13.3" fill="#ff0000" />
<circle cx="1793.4" cy="1025.4" r="13.3" fill="#ff0000" />
<circle cx="1788.8" cy="1024.6" r="13.3" fill="#ff0000" />
<circle cx="1784.3" cy="1031.1" r="13.3" fill="#ff0000" />
<circle cx="1779.8" cy="1035.2" r="13.3" fill="#ff0000" />
<circle cx="1775.2" cy="1036.6" r="13.3" fill="#ff0000" />
<circle cx="1770.7" cy="1039.5" r="13.3" fill="#ff0000" />
<circle cx="1766.1" cy="1042.1" r="13.3" fill="#ff0000" />
<circle cx="1761.6" cy="1042.1" r="13.3" fill="#ff0000" />
<circle cx="1757.1" cy="1040.3" r="13.3" fill="#ff0000" />
<circle cx="1752.5" cy="1042.6" r="13.3" fill="#ff0000" />
<circle cx="1748" cy="1039.3" r="13.3" fill="#ff0000" />
<circle cx="1743.4" cy="1037.7" r="13.3" fill="#ff0000" />
<circle cx="1738.9" cy="1031.3" r="13.3" fill="#ff0000" />
<circle cx="1734.4" cy="1030.6" r="13.3" fill="#ff0000" />
<circle cx="1729.8" cy="1027.6" r="13.3" fill="#ff0000" />
<circle cx="1725.3" cy="1033" r="13.3" fill="#ff0000" />
<circle cx="1720.7" cy="1032.1" r="13.3" fill="#ff0000" />
<circle cx="1716.2" cy="1035.2" r="13.3" fill="#ff0000" />
<circle cx="1711.7" cy="1035.1" r="13.3" fill="#ff0000" />
<circle cx="1707.1" cy="1032.3" r="13.3" fill="#ff0000" />
<circle cx="1702.6" cy="1026.4" r="13.3" fill="#ff0000" />
<circle cx="1698" cy="1028" r="13.3" fill="#ff0000" />
<circle cx="1693.5" cy="1024.1" r="13.3" fill="#ff0000" />
<circle cx="1689" cy="1025.2" r="13.3" fill="#ff0000" />
<circle cx="1684.4" cy="1026.9" r="13.3" fill="#ff0000" />
<circle cx="1679.9" cy="1028.1" r="13.3" fill="#ff0000" />
<circle cx="1675.3" cy="1025.7" r="13.3" fill="#ff0000" />
<circle cx="1670.8" cy="1026.5" r="13.3" fill="#ff0000" />
<circle cx="1666.3" cy="1030.4" r="13.3" fill="#ff0000" />
<circle cx="1661.7" cy="1027.4" r="13.3" fill="#ff0000" />
<circle cx="1657.2" cy="1032.3" r="13.3" fill="#ff0000" />
<circle cx="1652.6" cy="1035.9" r="13.3" fill="#ff0000" />
<circle cx="1648.1" cy="1038.2" r="13.3" fill="#ff0000" />
<circle cx="1643.6" cy="1031.4" r="13.3" fill="#ff0000" />
<circle cx="1639" cy="1036.8" r="13.3" fill="#ff0000" />
<circle cx="1634.5" cy="1037.1" r="13.3" fill="#ff0000" />
<circle cx="1629.9" cy="1033.7" r="13.3" fill="#ff0000" />
<circle cx="1625.4" cy="1033.9" r="13.3" fill="#ff0000" />
<circle cx="1620.9" cy="1038.8" r="13.3" fill="#ff0000" />
<circle cx="1616.3" cy="1037.2" r="13.3" fill="#ff0000" />
<circle cx="1611.8" cy="1037.8" r="13.3" fill="#ff0000" />
<circle cx="1607.2" cy="1038.6" r="13.3" fill="#ff0000" />
<circle cx="1602.7" cy="1040.5" r="13.3" fill="#ff0000" />
<circle cx="1598.2" cy="1035.4" r="13.3" fill="#ff0000" />
<circle cx="1593.6" cy="1039.3" r="13.3" fill="#ff0000" />
<circle cx="1589.1" cy="1033.2" r="13.3" fill="#ff0000" />
<circle cx="1584.5" cy="1034.5" r="13.3" fill="#ff0000" />
<circle cx="1580" cy="1033.3" r="13.3" fill="#ff0000" />
<circle cx="1578.4" cy="1025.3" r="13.3" fill="#ff0000" />
<circle cx="1573.2" cy="1079.3" r="13.3" fill="#ff0000" />
<circle cx="1561.8" cy="1111.5" r="13.3" fill="#ff0000" />
<circle cx="1553.1" cy="1247.3" r="13.3" fill="#ff0000" />
<circle cx="1546.2" cy="1287" r="13.3" fill="#ff0000" />
<circle cx="1532.2" cy="1330.6" r="13.3" fill="#ff0000" />
<circle cx="1525" cy="1345.2" r="13.3" fill="#ff0000" />
<circle cx="1520.5" cy="1352.4" r="13.3" fill="#ff0000" />
<circle cx="1515.9" cy="1352" r="13.3" fill="#ff0000" />
<circle cx="1511.4" cy="1359.9" r="13.3" fill="#ff0000" />
<circle cx="1506.8" cy="1362.9" r="13.3" fill="#ff0000" />
<circle cx="1502.3" cy="1369.1" r="13.3" fill="#ff0000" />
<circle cx="1497.7" cy="1362.7" r="13.3" fill="#ff0000" />
<circle cx="1493.2" cy="1367.5" r="13.3" fill="#ff0000" />
<circle cx="1488.7" cy="1369.4" r="13.3" fill="#ff0000" />
<circle cx="1484.1" cy="1366.3" r="13.3" fill="#ff0000" />
<circle cx="1479.6" cy="1361" r="13.3" fill="#ff0000" />
<circle cx="1475" cy="1361" r="13.3" fill="#ff0000" />
<circle cx="1470.5" cy="1354" r="13.3" fill="#ff0000" />
<circle cx="1465.9" cy="1355.8" r="13.3" fill="#ff0000" />
<circle cx="1461.4" cy="1351.6" r="13.3" fill="#ff0000" />
<circle cx="1456.9" cy="1354.6" r="13.3" fill="#ff0000" />
<circle cx="1452.3" cy="1357.1" r="13.3" fill="#ff0000" />
<circle cx="1447.8" cy="1359.2" r="13.3" fill="#ff0000" />
<circle cx="1443.2" cy="1351.9" r="13.3" fill="#ff0000" />
<circle cx="1438.7" cy="1355.3" r="13.3" fill="#ff0000" />
<circle cx="1434.2" cy="1352.4" r="13.3" fill="#ff0000" />
<circle cx="1429.6" cy="1351.3" r="13.3" fill="#ff0000" />
<circle cx="1425.1" cy="1352.2" r="13.3" fill="#ff0000" />
<circle cx="1420.5" cy="1357.8" r="13.3" fill="#ff0000" />
<circle cx="1416" cy="1356.5" r="13.3" fill="#ff0000" />
<circle cx="1411.4" cy="1355.6" r="13.3" fill="#ff0000" />
<circle cx="1406.9" cy="1347.7" r="13.3" fill="#ff0000" />
<circle cx="1402.4" cy="1349.2" r="13.3" fill="#ff0000" />
<circle cx="1397.8" cy="1346.4" r="13.3" fill="#ff0000" />
<circle cx="1393.3" cy="1346.8" r="13.3" fill="#ff0000" />
<circle cx="1388.7" cy="1349.9" r="13.3" fill="#ff0000" />
<circle cx="1384.2" cy="1357.4" r="13.3" fill="#ff0000" />
<circle cx="1379.6" cy="1345.3" r="13.3" fill="#ff0000" />
<circle cx="1375.1" cy="1344.8" r="13.3" fill="#ff0000" />
<circle cx="1370.6" cy="1341.1" r="13.3" fill="#ff0000" />
<circle cx="1366" cy="1340.6" r="13.3" fill="#ff0000" />
<circle cx="1361.5" cy="1346.3" r="13.3" fill="#ff0000" />
<circle cx="1356.9" cy="1353.8" r="13.3" fill="#ff0000" />
<circle cx="1352.4" cy="1353.6" r="13.3" fill="#ff0000" />
<circle cx="1347.8" cy="1357.3" r="13.3" fill="#ff0000" />
<circle cx="1343.3" cy="1354.6" r="13.3" fill="#ff0000" />
<circle cx="1338.8" cy="1348.1" r="13.3" fill="#ff0000" />
<circle cx="1334.2" cy="1353.8" r="13.3" fill="#ff0000" />
<circle cx="1329.7" cy="1350" r="13.3" fill="#ff0000" />
<circle cx="1325.1" cy="1355.8" r="13.3" fill="#ff0000" />
<circle cx="1320.6" cy="1351.3" r="13.3" fill="#ff0000" />
<circle cx="1316" cy="1349.9" r="13.3" fill="#ff0000" />
<circle cx="1311.5" cy="1349.3" r="13.3" fill="#ff0000" />
<circle cx="1307" cy="1354.8" r="13.3" fill="#ff0000" />
<circle cx="1302.4" cy="1346.3" r="13.3" fill="#ff0000" />
<circle cx="1297.9" cy="1347" r="13.3" fill="#ff0000" />
<circle cx="1293.3" cy="1344.4" r="13.3" fill="#ff0000" />
<circle cx="1288.8" cy="1340.3" r="13.3" fill="#ff0000" />
<circle cx="1284.2" cy="1341.7" r="13.3" fill="#ff0000" />
<circle cx="1279.7" cy="1340.5" r="13.3" fill="#ff0000" />
<circle cx="1275.2" cy="1344.4" r="13.3" fill="#ff0000" />
<circle cx="1270.6" cy="1348" r="13.3" fill="#ff0000" />
<circle cx="1266.1" cy="1350" r="13.3" fill="#ff0000" />
<circle cx="1261.5" cy="1347.7" r="13.3" fill="#ff0000" />
<circle cx="1257" cy="1357.1" r="13.3" fill="#ff0000" />
<circle cx="1252.5" cy="1357.2" r="13.3" fill="#ff0000" />
<circle cx="1247.9" cy="1358" r="13.3" fill="#ff0000" />
<circle cx="1243.4" cy="1358.1" r="13.3" fill="#ff0000" />
<circle cx="1238.8" cy="1362.5" r="13.3" fill="#ff0000" />
<circle cx="1234.3" cy="1351" r="13.3" fill="#ff0000" />
<circle cx="1229.7" cy="1353.7" r="13.3" fill="#ff0000" />
<circle cx="1225.2" cy="1350" r="13.3" fill="#ff0000" />
<circle cx="1220.7" cy="1347.1" r="13.3" fill="#ff0000" />
<circle cx="1216.1" cy="1337.9" r="13.3" fill="#ff0000" />
<circle cx="1211.6" cy="1338" r="13.3" fill="#ff0000" />
<circle cx="1207" cy="1332.4" r="13.3" fill="#ff0000" />
<circle cx="1202.5" cy="1331" r="13.3" fill="#ff0000" />
<circle cx="1197.9" cy="1333.6" r="13.3" fill="#ff0000" />
<circle cx="1193.4" cy="1331.9" r="13.3" fill="#ff0000" />
<circle cx="1188.9" cy="1342.9" r="13.3" fill="#ff0000" />
<circle cx="1184.3" cy="1344.2" r="13.3" fill="#ff0000" />
<circle cx="1179.8" cy="1346.5" r="13.3" fill="#ff0000" />
</g>
<g clip-path="url(#cd)">
<polyline points="1179.8,1342.7 1184.3,1340.1 1188.9,1336.3 1193.5,1333.5 1198,1334.4 1202.6,1336.2 1207.2,1334.1 1211.7,1337 1216.3,1335.8 1220.9,1336.3 1225.4,1343.2 1230,1350 1234.6,1349.8 1239.1,1347.4 1243.7,1342.1 1248.3,1330.2 1252.8,1330.5 1257.4,1329 1261.9,1334.7 1266.5,1337.4 1271.1,1343.3 1275.6,1345.6 1280.2,1345.9 1284.8,1344.6 1289.3,1344 1293.9,1346.7 1298.5,1338.6 1303,1337.2 1307.6,1333.8 1312.2,1332 1316.7,1330.8 1321.3,1343 1325.9,1343.7 1330.4,1351.8 1335,1357.7 1339.6,1352.7 1344.1,1343.5 1348.7,1346.4 1353.3,1341.2 1357.8,1347.1 1362.4,1344.7 1367,1347.2 1371.5,1349.3 1376.1,1349.8 1380.6,1344 1385.2,1353.4 1389.8,1352.7 1394.3,1353 1398.9,1357.3 1403.5,1350.1 1408,1352.2 1412.6,1359.4 1417.2,1361.4 1421.7,1362.8 1426.3,1365.2 1430.9,1360.2 1435.4,1350.3 1440,1345.5 1444.6,1345.9 1449.1,1348.6 1453.7,1349.2 1458.3,1346.2 1462.8,1348.2 1467.4,1345.8 1472,1346.7 1476.5,1345.1 1481.1,1358.1 1485.7,1354.8 1490.2,1351 1494.8,1350.6 1499.3,1356.8 1503.9,1357.2 1508.5,1361.9 1513,1362.4 1517.6,1363.1 1522.2,1361.9 1526.7,1351 1531.3,1354 1535.9,1360.4 1540.4,1361.1 1545,1356.7 1554.9,1346.3 1565,1335 1574,1325.4 1580.6,1302.7 1588,1271.4 1594,1248.8 1601,1194.2 1607.1,1172.4 1613.2,1151.5 1624.5,1097.6 1634.1,1054 1645,1038 1655,1036.3 1659.6,1039.8 1664.1,1037.4 1668.7,1039.9 1673.3,1037.6 1677.8,1034.2 1682.4,1031 1687,1032.8 1691.6,1028 1696.1,1025.3 1700.7,1024.9 1705.3,1027.9 1709.8,1032.7 1714.4,1036.4 1719,1042.6 1723.5,1043.6 1728.1,1040.2 1732.7,1036.4 1737.2,1032.5 1741.8,1027.7 1746.4,1029 1750.9,1028.5 1755.5,1025.5 1760.1,1028.8 1764.7,1029.9 1769.2,1031.5 1773.8,1031.7 1778.4,1033 1782.9,1031.9 1787.5,1031.7 1792.1,1027.4 1796.6,1026.1 1801.2,1027.9 1805.8,1028.6 1810.3,1031.4 1814.9,1028.7 1819.5,1028.2 1824,1025.1 1828.6,1023.6 1833.2,1019.2 1837.8,1021.4 1842.3,1023.6 1846.9,1024.4 1851.5,1021 1856,1024.5 1860.6,1027.4 1865.2,1023.9 1869.7,1024.9 1874.3,1025.4 1878.9,1024.4 1883.4,1021.2 1888,1020.3 1892.6,1017.1 1897.1,1016.6 1901.7,1014 1906.3,1014.4 1910.9,1015.8 1915.4,1014.9 1920,1008 1924.6,1007.3 1929.1,1002.2 1933.7,1002.2 1938.3,1005.5 1942.8,1013.8 1947.4,1012.3 1952,1015.6 1956.5,1014.3 1961.1,1010.1 1965.7,1007.7 1970.2,1006 1974.8,1008.6 1979.4,1008.4 1984,1011.3 1988.5,1011.6 1993.1,1013.4 1997.7,1010.2 2002.2,1009.8" fill="none" stroke="#ff0000" stroke-width="6.5" stroke-linejoin="round" stroke-linecap="round" />
<circle cx="1179.8" cy="1342.7" r="13.3" fill="#ff0000" />
<circle cx="1184.3" cy="1340.1" r="13.3" fill="#ff0000" />
<circle cx="1188.9" cy="1336.3" r="13.3" fill="#ff0000" />
<circle cx="1193.5" cy="1333.5" r="13.3" fill="#ff0000" />
<circle cx="1198" cy="1334.4" r="13.3" fill="#ff0000" />
<circle cx="1202.6" cy="1336.2" r="13.3" fill="#ff0000" />
<circle cx="1207.2" cy="1334.1" r="13.3" fill="#ff0000" />
<circle cx="1211.7" cy="1337" r="13.3" fill="#ff0000" />
<circle cx="1216.3" cy="1335.8" r="13.3" fill="#ff0000" />
<circle cx="1220.9" cy="1336.3" r="13.3" fill="#ff0000" />
<circle cx="1225.4" cy="1343.2" r="13.3" fill="#ff0000" />
<circle cx="1230" cy="1350" r="13.3" fill="#ff0000" />
<circle cx="1234.6" cy="1349.8" r="13.3" fill="#ff0000" />
<circle cx="1239.1" cy="1347.4" r="13.3" fill="#ff0000" />
<circle cx="1243.7" cy="1342.1" r="13.3" fill="#ff0000" />
<circle cx="1248.3" cy="1330.2" r="13.3" fill="#ff0000" />
<circle cx="1252.8" cy="1330.5" r="13.3" fill="#ff0000" />
<circle cx="1257.4" cy="1329" r="13.3" fill="#ff0000" />
<circle cx="1261.9" cy="1334.7" r="13.3" fill="#ff0000" />
<circle cx="1266.5" cy="1337.4" r="13.3" fill="#ff0000" />
<circle cx="1271.1" cy="1343.3" r="13.3" fill="#ff0000" />
<circle cx="1275.6" cy="1345.6" r="13.3" fill="#ff0000" />
<circle cx="1280.2" cy="1345.9" r="13.3" fill="#ff0000" />
<circle cx="1284.8" cy="1344.6" r="13.3" fill="#ff0000" />
<circle cx="1289.3" cy="1344" r="13.3" fill="#ff0000" />
<circle cx="1293.9" cy="1346.7" r="13.3" fill="#ff0000" />
<circle cx="1298.5" cy="1338.6" r="13.3" fill="#ff0000" />
<circle cx="1303" cy="1337.2" r="13.3" fill="#ff0000" />
<circle cx="1307.6" cy="1333.8" r="13.3" fill="#ff0000" />
<circle cx="1312.2" cy="1332" r="13.3" fill="#ff0000" />
<circle cx="1316.7" cy="1330.8" r="13.3" fill="#ff0000" />
<circle cx="1321.3" cy="1343" r="13.3" fill="#ff0000" />
<circle cx="1325.9" cy="1343.7" r="13.3" fill="#ff0000" />
<circle cx="1330.4" cy="1351.8" r="13.3" fill="#ff0000" />
<circle cx="1335" cy="1357.7" r="13.3" fill="#ff0000" />
<circle cx="1339.6" cy="1352.7" r="13.3" fill="#ff0000" />
<circle cx="1344.1" cy="1343.5" r="13.3" fill="#ff0000" />
<circle cx="1348.7" cy="1346.4" r="13.3" fill="#ff0000" />
<circle cx="1353.3" cy="1341.2" r="13.3" fill="#ff0000" />
<circle cx="1357.8" cy="1347.1" r="13.3" fill="#ff0000" />
<circle cx="1362.4" cy="1344.7" r="13.3" fill="#ff0000" />
<circle cx="1367" cy="1347.2" r="13.3" fill="#ff0000" />
<circle cx="1371.5" cy="1349.3" r="13.3" fill="#ff0000" />
<circle cx="1376.1" cy="1349.8" r="13.3" fill="#ff0000" />
<circle cx="1380.6" cy="1344" r="13.3" fill="#ff0000" />
<circle cx="1385.2" cy="1353.4" r="13.3" fill="#ff0000" />
<circle cx="1389.8" cy="1352.7" r="13.3" fill="#ff0000" />
<circle cx="1394.3" cy="1353" r="13.3" fill="#ff0000" />
<circle cx="1398.9" cy="1357.3" r="13.3" fill="#ff0000" />
<circle cx="1403.5" cy="1350.1" r="13.3" fill="#ff0000" />
<circle cx="1408" cy="1352.2" r="13.3" fill="#ff0000" />
<circle cx="1412.6" cy="1359.4" r="13.3" fill="#ff0000" />
<circle cx="1417.2" cy="1361.4" r="13.3" fill="#ff0000" />
<circle cx="1421.7" cy="1362.8" r="13.3" fill="#ff0000" />
<circle cx="1426.3" cy="1365.2" r="13.3" fill="#ff0000" />
<circle cx="1430.9" cy="1360.2" r="13.3" fill="#ff0000" />
<circle cx="1435.4" cy="1350.3" r="13.3" fill="#ff0000" />
<circle cx="1440" cy="1345.5" r="13.3" fill="#ff0000" />
<circle cx="1444.6" cy="1345.9" r="13.3" fill="#ff0000" />
<circle cx="1449.1" cy="1348.6" r="13.3" fill="#ff0000" />
<circle cx="1453.7" cy="1349.2" r="13.3" fill="#ff0000" />
<circle cx="1458.3" cy="1346.2" r="13.3" fill="#ff0000" />
<circle cx="1462.8" cy="1348.2" r="13.3" fill="#ff0000" />
<circle cx="1467.4" cy="1345.8" r="13.3" fill="#ff0000" />
<circle cx="1472" cy="1346.7" r="13.3" fill="#ff0000" />
<circle cx="1476.5" cy="1345.1" r="13.3" fill="#ff0000" />
<circle cx="1481.1" cy="1358.1" r="13.3" fill="#ff0000" />
<circle cx="1485.7" cy="1354.8" r="13.3" fill="#ff0000" />
<circle cx="1490.2" cy="1351" r="13.3" fill="#ff0000" />
<circle cx="1494.8" cy="1350.6" r="13.3" fill="#ff0000" />
<circle cx="1499.3" cy="1356.8" r="13.3" fill="#ff0000" />
<circle cx="1503.9" cy="1357.2" r="13.3" fill="#ff0000" />
<circle cx="1508.5" cy="1361.9" r="13.3" fill="#ff0000" />
<circle cx="1513" cy="1362.4" r="13.3" fill="#ff0000" />
<circle cx="1517.6" cy="1363.1" r="13.3" fill="#ff0000" />
<circle cx="1522.2" cy="1361.9" r="13.3" fill="#ff0000" />
<circle cx="1526.7" cy="1351" r="13.3" fill="#ff0000" />
<circle cx="1531.3" cy="1354" r="13.3" fill="#ff0000" />
<circle cx="1535.9" cy="1360.4" r="13.3" fill="#ff0000" />
<circle cx="1540.4" cy="1361.1" r="13.3" fill="#ff0000" />
<circle cx="1545" cy="1356.7" r="13.3" fill="#ff0000" />
<circle cx="1554.9" cy="1346.3" r="13.3" fill="#ff0000" />
<circle cx="1565" cy="1335" r="13.3" fill="#ff0000" />
<circle cx="1574" cy="1325.4" r="13.3" fill="#ff0000" />
<circle cx="1580.6" cy="1302.7" r="13.3" fill="#ff0000" />
<circle cx="1588" cy="1271.4" r="13.3" fill="#ff0000" />
<circle cx="1594" cy="1248.8" r="13.3" fill="#ff0000" />
<circle cx="1601" cy="1194.2" r="13.3" fill="#ff0000" />
<circle cx="1607.1" cy="1172.4" r="13.3" fill="#ff0000" />
<circle cx="1613.2" cy="1151.5" r="13.3" fill="#ff0000" />
<circle cx="1624.5" cy="1097.6" r="13.3" fill="#ff0000" />
<circle cx="1634.1" cy="1054" r="13.3" fill="#ff0000" />
<circle cx="1645" cy="1038" r="13.3" fill="#ff0000" />
<circle cx="1655" cy="1036.3" r="13.3" fill="#ff0000" />
<circle cx="1659.6" cy="1039.8" r="13.3" fill="#ff0000" />
<circle cx="1664.1" cy="1037.4" r="13.3" fill="#ff0000" />
<circle cx="1668.7" cy="1039.9" r="13.3" fill="#ff0000" />
<circle cx="1673.3" cy="1037.6" r="13.3" fill="#ff0000" />
<circle cx="1677.8" cy="1034.2" r="13.3" fill="#ff0000" />
<circle cx="1682.4" cy="1031" r="13.3" fill="#ff0000" />
<circle cx="1687" cy="1032.8" r="13.3" fill="#ff0000" />
<circle cx="1691.6" cy="1028" r="13.3" fill="#ff0000" />
<circle cx="1696.1" cy="1025.3" r="13.3" fill="#ff0000" />
<circle cx="1700.7" cy="1024.9" r="13.3" fill="#ff0000" />
<circle cx="1705.3" cy="1027.9" r="13.3" fill="#ff0000" />
<circle cx="1709.8" cy="1032.7" r="13.3" fill="#ff0000" />
<circle cx="1714.4" cy="1036.4" r="13.3" fill="#ff0000" />
<circle cx="1719" cy="1042.6" r="13.3" fill="#ff0000" />
<circle cx="1723.5" cy="1043.6" r="13.3" fill="#ff0000" />
<circle cx="1728.1" cy="1040.2" r="13.3" fill="#ff0000" />
<circle cx="1732.7" cy="1036.4" r="13.3" fill="#ff0000" />
<circle cx="1737.2" cy="1032.5" r="13.3" fill="#ff0000" />
<circle cx="1741.8" cy="1027.7" r="13.3" fill="#ff0000" />
<circle cx="1746.4" cy="1029" r="13.3" fill="#ff0000" />
<circle cx="1750.9" cy="1028.5" r="13.3" fill="#ff0000" />
<circle cx="1755.5" cy="1025.5" r="13.3" fill="#ff0000" />
<circle cx="1760.1" cy="1028.8" r="13.3" fill="#ff0000" />
<circle cx="1764.7" cy="1029.9" r="13.3" fill="#ff0000" />
<circle cx="1769.2" cy="1031.5" r="13.3" fill="#ff0000" />
<circle cx="1773.8" cy="1031.7" r="13.3" fill="#ff0000" />
<circle cx="1778.4" cy="1033" r="13.3" fill="#ff0000" />
<circle cx="1782.9" cy="1031.9" r="13.3" fill="#ff0000" />
<circle cx="1787.5" cy="1031.7" r="13.3" fill="#ff0000" />
<circle cx="1792.1" cy="1027.4" r="13.3" fill="#ff0000" />
<circle cx="1796.6" cy="1026.1" r="13.3" fill="#ff0000" />
<circle cx="1801.2" cy="1027.9" r="13.3" fill="#ff0000" />
<circle cx="1805.8" cy="1028.6" r="13.3" fill="#ff0000" />
<circle cx="1810.3" cy="1031.4" r="13.3" fill="#ff0000" />
<circle cx="1814.9" cy="1028.7" r="13.3" fill="#ff0000" />
<circle cx="1819.5" cy="1028.2" r="13.3" fill="#ff0000" />
<circle cx="1824" cy="1025.1" r="13.3" fill="#ff0000" />
<circle cx="1828.6" cy="1023.6" r="13.3" fill="#ff0000" />
<circle cx="1833.2" cy="1019.2" r="13.3" fill="#ff0000" />
<circle cx="1837.8" cy="1021.4" r="13.3" fill="#ff0000" />
<circle cx="1842.3" cy="1023.6" r="13.3" fill="#ff0000" />
<circle cx="1846.9" cy="1024.4" r="13.3" fill="#ff0000" />
<circle cx="1851.5" cy="1021" r="13.3" fill="#ff0000" />
<circle cx="1856" cy="1024.5" r="13.3" fill="#ff0000" />
<circle cx="1860.6" cy="1027.4" r="13.3" fill="#ff0000" />
<circle cx="1865.2" cy="1023.9" r="13.3" fill="#ff0000" />
<circle cx="1869.7" cy="1024.9" r="13.3" fill="#ff0000" />
<circle cx="1874.3" cy="1025.4" r="13.3" fill="#ff0000" />
<circle cx="1878.9" cy="1024.4" r="13.3" fill="#ff0000" />
<circle cx="1883.4" cy="1021.2" r="13.3" fill="#ff0000" />
<circle cx="1888" cy="1020.3" r="13.3" fill="#ff0000" />
<circle cx="1892.6" cy="1017.1" r="13.3" fill="#ff0000" />
<circle cx="1897.1" cy="1016.6" r="13.3" fill="#ff0000" />
<circle cx="1901.7" cy="1014" r="13.3" fill="#ff0000" />
<circle cx="1906.3" cy="1014.4" r="13.3" fill="#ff0000" />
<circle cx="1910.9" cy="1015.8" r="13.3" fill="#ff0000" />
<circle cx="1915.4" cy="1014.9" r="13.3" fill="#ff0000" />
<circle cx="1920" cy="1008" r="13.3" fill="#ff0000" />
<circle cx="1924.6" cy="1007.3" r="13.3" fill="#ff0000" />
<circle cx="1929.1" cy="1002.2" r="13.3" fill="#ff0000" />
<circle cx="1933.7" cy="1002.2" r="13.3" fill="#ff0000" />
<circle cx="1938.3" cy="1005.5" r="13.3" fill="#ff0000" />
<circle cx="1942.8" cy="1013.8" r="13.3" fill="#ff0000" />
<circle cx="1947.4" cy="1012.3" r="13.3" fill="#ff0000" />
<circle cx="1952" cy="1015.6" r="13.3" fill="#ff0000" />
<circle cx="1956.5" cy="1014.3" r="13.3" fill="#ff0000" />
<circle cx="1961.1" cy="1010.1" r="13.3" fill="#ff0000" />
<circle cx="1965.7" cy="1007.7" r="13.3" fill="#ff0000" />
<circle cx="1970.2" cy="1006" r="13.3" fill="#ff0000" />
<circle cx="1974.8" cy="1008.6" r="13.3" fill="#ff0000" />
<circle cx="1979.4" cy="1008.4" r="13.3" fill="#ff0000" />
<circle cx="1984" cy="1011.3" r="13.3" fill="#ff0000" />
<circle cx="1988.5" cy="1011.6" r="13.3" fill="#ff0000" />
<circle cx="1993.1" cy="1013.4" r="13.3" fill="#ff0000" />
<circle cx="1997.7" cy="1010.2" r="13.3" fill="#ff0000" />
<circle cx="2002.2" cy="1009.8" r="13.3" fill="#ff0000" />
</g>
<line x1="1576.7" y1="906" x2="1576.7" y2="1545" stroke="#ff0000" stroke-width="3.5" stroke-dasharray="12.5 10" stroke-dashoffset="1"/>
<line x1="1602.9" y1="906" x2="1602.9" y2="1545" stroke="#000" stroke-width="3.5" stroke-dasharray="12.5 10" stroke-dashoffset="1"/>
<line x1="1290.1" y1="902" x2="1290.1" y2="914.8" stroke="#000" stroke-width="7.5" stroke-linecap="butt" />
<line x1="1290.1" y1="1549" x2="1290.1" y2="1536.2" stroke="#000" stroke-width="7.5" stroke-linecap="butt" />
<line x1="1591" y1="902" x2="1591" y2="914.8" stroke="#000" stroke-width="7.5" stroke-linecap="butt" />
<line x1="1591" y1="1549" x2="1591" y2="1536.2" stroke="#000" stroke-width="7.5" stroke-linecap="butt" />
<line x1="1891.9" y1="902" x2="1891.9" y2="914.8" stroke="#000" stroke-width="7.5" stroke-linecap="butt" />
<line x1="1891.9" y1="1549" x2="1891.9" y2="1536.2" stroke="#000" stroke-width="7.5" stroke-linecap="butt" />
<line x1="1440.5" y1="902" x2="1440.5" y2="908.8" stroke="#000" stroke-width="7.5" stroke-linecap="butt" />
<line x1="1440.5" y1="1549" x2="1440.5" y2="1542.2" stroke="#000" stroke-width="7.5" stroke-linecap="butt" />
<line x1="1741.5" y1="902" x2="1741.5" y2="908.8" stroke="#000" stroke-width="7.5" stroke-linecap="butt" />
<line x1="1741.5" y1="1549" x2="1741.5" y2="1542.2" stroke="#000" stroke-width="7.5" stroke-linecap="butt" />
<line x1="1189.5" y1="1046.5" x2="1202.2" y2="1046.5" stroke="#000" stroke-width="7.5" stroke-linecap="butt" />
<line x1="1992.5" y1="1046.5" x2="1979.8" y2="1046.5" stroke="#000" stroke-width="7.5" stroke-linecap="butt" />
<line x1="1189.5" y1="1225.5" x2="1202.2" y2="1225.5" stroke="#000" stroke-width="7.5" stroke-linecap="butt" />
<line x1="1992.5" y1="1225.5" x2="1979.8" y2="1225.5" stroke="#000" stroke-width="7.5" stroke-linecap="butt" />
<line x1="1189.5" y1="1404.5" x2="1202.2" y2="1404.5" stroke="#000" stroke-width="7.5" stroke-linecap="butt" />
<line x1="1992.5" y1="1404.5" x2="1979.8" y2="1404.5" stroke="#000" stroke-width="7.5" stroke-linecap="butt" />
<line x1="1189.5" y1="957" x2="1196.2" y2="957" stroke="#000" stroke-width="7.5" stroke-linecap="butt" />
<line x1="1992.5" y1="957" x2="1985.8" y2="957" stroke="#000" stroke-width="7.5" stroke-linecap="butt" />
<line x1="1189.5" y1="1136" x2="1196.2" y2="1136" stroke="#000" stroke-width="7.5" stroke-linecap="butt" />
<line x1="1992.5" y1="1136" x2="1985.8" y2="1136" stroke="#000" stroke-width="7.5" stroke-linecap="butt" />
<line x1="1189.5" y1="1315" x2="1196.2" y2="1315" stroke="#000" stroke-width="7.5" stroke-linecap="butt" />
<line x1="1992.5" y1="1315" x2="1985.8" y2="1315" stroke="#000" stroke-width="7.5" stroke-linecap="butt" />
<line x1="1189.5" y1="1494" x2="1196.2" y2="1494" stroke="#000" stroke-width="7.5" stroke-linecap="butt" />
<line x1="1992.5" y1="1494" x2="1985.8" y2="1494" stroke="#000" stroke-width="7.5" stroke-linecap="butt" />
<rect x="1189.5" y="902" width="803" height="647" fill="none" stroke="#000" stroke-width="7.5" stroke-linejoin="miter"/>
<text x="1322.5" y="1614.5" font-size="70" text-anchor="end"  style="">-30</text>
<text x="1591" y="1614.5" font-size="70" text-anchor="middle"  style="">0</text>
<text x="1891.9" y="1614.5" font-size="70" text-anchor="middle"  style="">30</text>
<text x="1175.5" y="1071.6" font-size="70" text-anchor="end"  style="">1</text>
<text x="1175.5" y="1250.6" font-size="70" text-anchor="end"  style="">0</text>
<text x="1175.5" y="1429.6" font-size="70" text-anchor="end"  style="">-1</text>
<line x1="1197" y1="954.5" x2="1275" y2="954.5" stroke="#ff0000" stroke-width="3" stroke-linecap="round" />
<circle cx="1235.5" cy="954.5" r="9.6" fill="#ff0000" />
<text x="1283.5" y="968.6" font-size="42" text-anchor="start"  style="">1.5x10<tspan font-size="24" dy="-15">10</tspan><tspan dy="15"> A/m</tspan><tspan font-size="24" dy="-15">2</tspan></text>
<line x1="1632" y1="954.5" x2="1708" y2="954.5" stroke="#000" stroke-width="2.8" stroke-linecap="round" />
<circle cx="1670.5" cy="954.5" r="9.4" fill="#000" />
<text x="1715" y="968" font-size="42" text-anchor="start"  style="">-1.5x10<tspan font-size="24" dy="-15">10</tspan><tspan dy="15"> A/m</tspan><tspan font-size="24" dy="-15">2</tspan></text>
<text x="1950" y="1447" font-size="58" text-anchor="end"  style="">500 <tspan font-size="31" dy="-19">o</tspan><tspan dy="19">C</tspan></text>
<text x="1967" y="1510" font-size="58" text-anchor="end"  style=""><tspan font-style="italic">H</tspan><tspan font-size="33" dy="18">x</tspan><tspan dy="-18"> = 200 Oe</tspan></text>
<text x="1591" y="1674" font-size="70" text-anchor="middle"  style=""><tspan font-style="italic">H</tspan><tspan font-size="44" dy="21">z</tspan><tspan dy="-21"> (Oe)</tspan></text>
<g transform="translate(1110.1,1231.5) rotate(-90)">
<text x="0" y="0" font-size="70" text-anchor="middle"  style=""><tspan font-style="italic">R</tspan><tspan font-size="44" dy="21">H</tspan><tspan dy="-21"> (a.u.)</tspan></text>
</g>
<text x="1037" y="924" font-size="70" text-anchor="start"  style="">(d)</text>
<line x1="603" y1="1722" x2="603" y2="2370" stroke="#000" stroke-width="8" stroke-linecap="butt" />
<line x1="202" y1="2046" x2="1005.5" y2="2046" stroke="#000" stroke-width="8" stroke-linecap="butt" />
<polyline points="258,2264.3 315.5,2264.3 401.8,2262.4 430.5,2260.1 459.2,2257.4 488,2248.5 516.8,2238.9 545.5,2233.1 568.5,2179.6 603,2046 637.5,1955.9 660.5,1894.7 689.2,1873.9 718,1867 775.5,1861.2 833,1856 890.5,1847.3 948,1832.3" fill="none" stroke="#ef4040" stroke-width="1.5" stroke-linejoin="miter" stroke-linecap="butt" />
<polyline points="258,2238.3 315.5,2238.9 373,2232 401.8,2224.8 430.5,2222.5 459.2,2210.9 488,2206.3 516.8,2200.5 545.5,2190 568.5,2166.8 603,2046 637.5,1941.4 660.5,1922.8 689.2,1906.5 718,1904.1 746.8,1892.5 775.5,1873.9 804.2,1864.7 833,1856.6 890.5,1850.8 948,1846.2" fill="none" stroke="#505050" stroke-width="1.5" stroke-linejoin="miter" stroke-linecap="butt" />
<polyline points="258,2237.7 315.5,2237.7 373,2227.3 430.5,2216.7 459.2,2204 488,2197 516.8,2181.8 545.5,2176.1 568.5,2168 603,2046 637.5,1929.7 660.5,1913.4 689.2,1903 718,1900.6 775.5,1896 804.2,1893.7 833,1891.3 890.5,1891.3 948,1888.9" fill="none" stroke="#1a6ddb" stroke-width="1.5" stroke-linejoin="miter" stroke-linecap="butt" />
<polyline points="258,2200.4 315.5,2193.5 373,2190 401.8,2187.7 430.5,2183.1 459.2,2170.4 488,2166.8 516.8,2164.5 545.5,2143.5 568.5,2137.8 603,2046 637.5,1956.4 660.5,1934.3 689.2,1930.4 718,1926.1 746.8,1917.3 775.5,1912.3 804.2,1897.1 833,1891.3 890.5,1886.7 948,1883.3" fill="none" stroke="#37a86a" stroke-width="1.5" stroke-linejoin="miter" stroke-linecap="butt" />
<polyline points="258,2177.2 315.5,2172.6 373,2174.9 401.8,2174.9 430.5,2173.3 459.2,2163.8 488,2153 516.8,2143.6 545.5,2142.4 568.5,2128.5 603,2046 637.5,1966.8 660.5,1949.4 689.2,1940.1 718,1934.3 746.8,1929.6 775.5,1926.2 804.2,1921.5 833,1915.7 890.5,1914.6 948,1915.7" fill="none" stroke="#b07ae0" stroke-width="1.5" stroke-linejoin="miter" stroke-linecap="butt" />
<polyline points="258,2163.3 315.5,2164.5 373,2162.1 401.8,2144.8 430.5,2136.7 459.2,2129.6 488,2122.7 516.8,2107.6 568.5,2098.3 603,2046 637.5,1978.4 689.2,1949.4 718,1940.1 746.8,1937.8 775.5,1935.5 804.2,1934.3 833,1929.6 890.5,1927.3 948,1923.8" fill="none" stroke="#c8960b" stroke-width="1.5" stroke-linejoin="miter" stroke-linecap="butt" />
<circle cx="258" cy="2264.3" r="10.5" fill="#ef4040" />
<circle cx="315.5" cy="2264.3" r="10.5" fill="#ef4040" />
<circle cx="401.8" cy="2262.4" r="10.5" fill="#ef4040" />
<circle cx="430.5" cy="2260.1" r="10.5" fill="#ef4040" />
<circle cx="459.2" cy="2257.4" r="10.5" fill="#ef4040" />
<circle cx="488" cy="2248.5" r="10.5" fill="#ef4040" />
<circle cx="516.8" cy="2238.9" r="10.5" fill="#ef4040" />
<circle cx="545.5" cy="2233.1" r="10.5" fill="#ef4040" />
<circle cx="568.5" cy="2179.6" r="10.5" fill="#ef4040" />
<circle cx="603" cy="2046" r="10.5" fill="#ef4040" />
<circle cx="637.5" cy="1955.9" r="10.5" fill="#ef4040" />
<circle cx="660.5" cy="1894.7" r="10.5" fill="#ef4040" />
<circle cx="689.2" cy="1873.9" r="10.5" fill="#ef4040" />
<circle cx="718" cy="1867" r="10.5" fill="#ef4040" />
<circle cx="775.5" cy="1861.2" r="10.5" fill="#ef4040" />
<circle cx="833" cy="1856" r="10.5" fill="#ef4040" />
<circle cx="890.5" cy="1847.3" r="10.5" fill="#ef4040" />
<circle cx="948" cy="1832.3" r="10.5" fill="#ef4040" />
<rect x="248.7" y="2229" width="18.6" height="18.6" fill="#505050"/>
<rect x="306.2" y="2229.6" width="18.6" height="18.6" fill="#505050"/>
<rect x="363.7" y="2222.7" width="18.6" height="18.6" fill="#505050"/>
<rect x="392.4" y="2215.5" width="18.6" height="18.6" fill="#505050"/>
<rect x="421.2" y="2213.2" width="18.6" height="18.6" fill="#505050"/>
<rect x="449.9" y="2201.6" width="18.6" height="18.6" fill="#505050"/>
<rect x="478.7" y="2197" width="18.6" height="18.6" fill="#505050"/>
<rect x="507.4" y="2191.2" width="18.6" height="18.6" fill="#505050"/>
<rect x="536.2" y="2180.7" width="18.6" height="18.6" fill="#505050"/>
<rect x="559.2" y="2157.5" width="18.6" height="18.6" fill="#505050"/>
<rect x="593.7" y="2036.7" width="18.6" height="18.6" fill="#505050"/>
<rect x="628.2" y="1932.1" width="18.6" height="18.6" fill="#505050"/>
<rect x="651.2" y="1913.5" width="18.6" height="18.6" fill="#505050"/>
<rect x="680" y="1897.2" width="18.6" height="18.6" fill="#505050"/>
<rect x="708.7" y="1894.8" width="18.6" height="18.6" fill="#505050"/>
<rect x="737.5" y="1883.2" width="18.6" height="18.6" fill="#505050"/>
<rect x="766.2" y="1864.6" width="18.6" height="18.6" fill="#505050"/>
<rect x="795" y="1855.4" width="18.6" height="18.6" fill="#505050"/>
<rect x="823.7" y="1847.3" width="18.6" height="18.6" fill="#505050"/>
<rect x="881.2" y="1841.5" width="18.6" height="18.6" fill="#505050"/>
<rect x="938.7" y="1836.9" width="18.6" height="18.6" fill="#505050"/>
<polygon points="258,2223.5 270.3,2244.8 245.7,2244.8" fill="#1a6ddb" />
<polygon points="315.5,2223.5 327.8,2244.8 303.2,2244.8" fill="#1a6ddb" />
<polygon points="373,2213.1 385.3,2234.4 360.7,2234.4" fill="#1a6ddb" />
<polygon points="430.5,2202.5 442.8,2223.8 418.2,2223.8" fill="#1a6ddb" />
<polygon points="459.2,2189.8 471.6,2211.1 446.9,2211.1" fill="#1a6ddb" />
<polygon points="488,2182.8 500.3,2204.1 475.7,2204.1" fill="#1a6ddb" />
<polygon points="516.8,2167.6 529,2188.9 504.4,2188.9" fill="#1a6ddb" />
<polygon points="545.5,2161.9 557.8,2183.2 533.2,2183.2" fill="#1a6ddb" />
<polygon points="568.5,2153.8 580.8,2175.1 556.2,2175.1" fill="#1a6ddb" />
<polygon points="603,2031.8 615.3,2053.1 590.7,2053.1" fill="#1a6ddb" />
<polygon points="637.5,1915.5 649.8,1936.8 625.2,1936.8" fill="#1a6ddb" />
<polygon points="660.5,1899.2 672.8,1920.5 648.2,1920.5" fill="#1a6ddb" />
<polygon points="689.2,1888.8 701.5,1910.1 677,1910.1" fill="#1a6ddb" />
<polygon points="718,1886.4 730.3,1907.7 705.7,1907.7" fill="#1a6ddb" />
<polygon points="775.5,1881.8 787.8,1903.1 763.2,1903.1" fill="#1a6ddb" />
<polygon points="804.2,1879.5 816.5,1900.8 792,1900.8" fill="#1a6ddb" />
<polygon points="833,1877.1 845.3,1898.4 820.7,1898.4" fill="#1a6ddb" />
<polygon points="890.5,1877.1 902.8,1898.4 878.2,1898.4" fill="#1a6ddb" />
<polygon points="948,1874.7 960.3,1896 935.7,1896" fill="#1a6ddb" />
<polygon points="258,2214.6 270.3,2193.3 245.7,2193.3" fill="#37a86a" />
<polygon points="315.5,2207.7 327.8,2186.4 303.2,2186.4" fill="#37a86a" />
<polygon points="373,2204.2 385.3,2182.9 360.7,2182.9" fill="#37a86a" />
<polygon points="401.8,2201.9 414.1,2180.6 389.4,2180.6" fill="#37a86a" />
<polygon points="430.5,2197.3 442.8,2176 418.2,2176" fill="#37a86a" />
<polygon points="459.2,2184.6 471.6,2163.3 446.9,2163.3" fill="#37a86a" />
<polygon points="488,2181 500.3,2159.7 475.7,2159.7" fill="#37a86a" />
<polygon points="516.8,2178.7 529,2157.4 504.4,2157.4" fill="#37a86a" />
<polygon points="545.5,2157.7 557.8,2136.4 533.2,2136.4" fill="#37a86a" />
<polygon points="568.5,2152 580.8,2130.7 556.2,2130.7" fill="#37a86a" />
<polygon points="603,2060.2 615.3,2038.9 590.7,2038.9" fill="#37a86a" />
<polygon points="637.5,1970.6 649.8,1949.3 625.2,1949.3" fill="#37a86a" />
<polygon points="660.5,1948.5 672.8,1927.2 648.2,1927.2" fill="#37a86a" />
<polygon points="689.2,1944.6 701.5,1923.3 677,1923.3" fill="#37a86a" />
<polygon points="718,1940.3 730.3,1919 705.7,1919" fill="#37a86a" />
<polygon points="746.8,1931.5 759,1910.2 734.5,1910.2" fill="#37a86a" />
<polygon points="775.5,1926.5 787.8,1905.2 763.2,1905.2" fill="#37a86a" />
<polygon points="804.2,1911.3 816.5,1890 792,1890" fill="#37a86a" />
<polygon points="833,1905.5 845.3,1884.2 820.7,1884.2" fill="#37a86a" />
<polygon points="890.5,1900.9 902.8,1879.6 878.2,1879.6" fill="#37a86a" />
<polygon points="948,1897.5 960.3,1876.2 935.7,1876.2" fill="#37a86a" />
<polygon points="258,2164.4 271.4,2177.2 258,2190 244.6,2177.2" fill="#b07ae0" />
<polygon points="315.5,2159.8 328.9,2172.6 315.5,2185.4 302.1,2172.6" fill="#b07ae0" />
<polygon points="373,2162.1 386.4,2174.9 373,2187.7 359.6,2174.9" fill="#b07ae0" />
<polygon points="401.8,2162.1 415.1,2174.9 401.8,2187.7 388.4,2174.9" fill="#b07ae0" />
<polygon points="430.5,2160.5 443.9,2173.3 430.5,2186.1 417.1,2173.3" fill="#b07ae0" />
<polygon points="459.2,2151 472.6,2163.8 459.2,2176.6 445.9,2163.8" fill="#b07ae0" />
<polygon points="488,2140.2 501.4,2153 488,2165.8 474.6,2153" fill="#b07ae0" />
<polygon points="516.8,2130.8 530.1,2143.6 516.8,2156.4 503.4,2143.6" fill="#b07ae0" />
<polygon points="545.5,2129.6 558.9,2142.4 545.5,2155.2 532.1,2142.4" fill="#b07ae0" />
<polygon points="568.5,2115.7 581.9,2128.5 568.5,2141.3 555.1,2128.5" fill="#b07ae0" />
<polygon points="603,2033.2 616.4,2046 603,2058.8 589.6,2046" fill="#b07ae0" />
<polygon points="637.5,1954 650.9,1966.8 637.5,1979.6 624.1,1966.8" fill="#b07ae0" />
<polygon points="660.5,1936.6 673.9,1949.4 660.5,1962.2 647.1,1949.4" fill="#b07ae0" />
<polygon points="689.2,1927.3 702.6,1940.1 689.2,1952.9 675.9,1940.1" fill="#b07ae0" />
<polygon points="718,1921.5 731.4,1934.3 718,1947.1 704.6,1934.3" fill="#b07ae0" />
<polygon points="746.8,1916.8 760.1,1929.6 746.8,1942.4 733.4,1929.6" fill="#b07ae0" />
<polygon points="775.5,1913.4 788.9,1926.2 775.5,1939 762.1,1926.2" fill="#b07ae0" />
<polygon points="804.2,1908.7 817.6,1921.5 804.2,1934.3 790.9,1921.5" fill="#b07ae0" />
<polygon points="833,1902.9 846.4,1915.7 833,1928.5 819.6,1915.7" fill="#b07ae0" />
<polygon points="890.5,1901.8 903.9,1914.6 890.5,1927.4 877.1,1914.6" fill="#b07ae0" />
<polygon points="948,1902.9 961.4,1915.7 948,1928.5 934.6,1915.7" fill="#b07ae0" />
<polygon points="243.8,2163.3 265.1,2151 265.1,2175.6" fill="#c8960b" />
<polygon points="301.3,2164.5 322.6,2152.2 322.6,2176.8" fill="#c8960b" />
<polygon points="358.8,2162.1 380.1,2149.8 380.1,2174.4" fill="#c8960b" />
<polygon points="387.6,2144.8 408.9,2132.5 408.9,2157.1" fill="#c8960b" />
<polygon points="416.3,2136.7 437.6,2124.4 437.6,2149" fill="#c8960b" />
<polygon points="445.1,2129.6 466.4,2117.3 466.4,2141.9" fill="#c8960b" />
<polygon points="473.8,2122.7 495.1,2110.4 495.1,2135" fill="#c8960b" />
<polygon points="502.6,2107.6 523.9,2095.3 523.9,2119.9" fill="#c8960b" />
<polygon points="554.3,2098.3 575.6,2086 575.6,2110.6" fill="#c8960b" />
<polygon points="588.8,2046 610.1,2033.7 610.1,2058.3" fill="#c8960b" />
<polygon points="623.3,1978.4 644.6,1966.1 644.6,1990.7" fill="#c8960b" />
<polygon points="675,1949.4 696.4,1937.1 696.4,1961.7" fill="#c8960b" />
<polygon points="703.8,1940.1 725.1,1927.8 725.1,1952.4" fill="#c8960b" />
<polygon points="732.5,1937.8 753.9,1925.5 753.9,1950.1" fill="#c8960b" />
<polygon points="761.3,1935.5 782.6,1923.2 782.6,1947.8" fill="#c8960b" />
<polygon points="790,1934.3 811.4,1922 811.4,1946.6" fill="#c8960b" />
<polygon points="818.8,1929.6 840.1,1917.3 840.1,1941.9" fill="#c8960b" />
<polygon points="876.3,1927.3 897.6,1915 897.6,1939.6" fill="#c8960b" />
<polygon points="933.8,1923.8 955.1,1911.5 955.1,1936.1" fill="#c8960b" />
<line x1="373" y1="1722" x2="373" y2="1734.7" stroke="#000" stroke-width="7.3" stroke-linecap="butt" />
<line x1="373" y1="2370" x2="373" y2="2357.3" stroke="#000" stroke-width="7.3" stroke-linecap="butt" />
<line x1="603" y1="1722" x2="603" y2="1734.7" stroke="#000" stroke-width="7.3" stroke-linecap="butt" />
<line x1="603" y1="2370" x2="603" y2="2357.3" stroke="#000" stroke-width="7.3" stroke-linecap="butt" />
<line x1="833" y1="1722" x2="833" y2="1734.7" stroke="#000" stroke-width="7.3" stroke-linecap="butt" />
<line x1="833" y1="2370" x2="833" y2="2357.3" stroke="#000" stroke-width="7.3" stroke-linecap="butt" />
<line x1="258" y1="1722" x2="258" y2="1728.7" stroke="#000" stroke-width="7.3" stroke-linecap="butt" />
<line x1="258" y1="2370" x2="258" y2="2363.3" stroke="#000" stroke-width="7.3" stroke-linecap="butt" />
<line x1="488" y1="1722" x2="488" y2="1728.7" stroke="#000" stroke-width="7.3" stroke-linecap="butt" />
<line x1="488" y1="2370" x2="488" y2="2363.3" stroke="#000" stroke-width="7.3" stroke-linecap="butt" />
<line x1="718" y1="1722" x2="718" y2="1728.7" stroke="#000" stroke-width="7.3" stroke-linecap="butt" />
<line x1="718" y1="2370" x2="718" y2="2363.3" stroke="#000" stroke-width="7.3" stroke-linecap="butt" />
<line x1="948" y1="1722" x2="948" y2="1728.7" stroke="#000" stroke-width="7.3" stroke-linecap="butt" />
<line x1="948" y1="2370" x2="948" y2="2363.3" stroke="#000" stroke-width="7.3" stroke-linecap="butt" />
<line x1="202" y1="1815" x2="214.7" y2="1815" stroke="#000" stroke-width="7.3" stroke-linecap="butt" />
<line x1="1005.5" y1="1815" x2="992.9" y2="1815" stroke="#000" stroke-width="7.3" stroke-linecap="butt" />
<line x1="202" y1="2046" x2="214.7" y2="2046" stroke="#000" stroke-width="7.3" stroke-linecap="butt" />
<line x1="1005.5" y1="2046" x2="992.9" y2="2046" stroke="#000" stroke-width="7.3" stroke-linecap="butt" />
<line x1="202" y1="2277" x2="214.7" y2="2277" stroke="#000" stroke-width="7.3" stroke-linecap="butt" />
<line x1="1005.5" y1="2277" x2="992.9" y2="2277" stroke="#000" stroke-width="7.3" stroke-linecap="butt" />
<line x1="202" y1="1930.5" x2="208.7" y2="1930.5" stroke="#000" stroke-width="7.3" stroke-linecap="butt" />
<line x1="1005.5" y1="1930.5" x2="998.9" y2="1930.5" stroke="#000" stroke-width="7.3" stroke-linecap="butt" />
<line x1="202" y1="2161.5" x2="208.7" y2="2161.5" stroke="#000" stroke-width="7.3" stroke-linecap="butt" />
<line x1="1005.5" y1="2161.5" x2="998.9" y2="2161.5" stroke="#000" stroke-width="7.3" stroke-linecap="butt" />
<rect x="202" y="1722" width="803.5" height="648" fill="none" stroke="#000" stroke-width="7.3" stroke-linejoin="miter"/>
<text x="431.4" y="2441" font-size="70" text-anchor="end"  style="">-200</text>
<text x="603" y="2441" font-size="70" text-anchor="middle"  style="">0</text>
<text x="833" y="2441" font-size="70" text-anchor="middle"  style="">200</text>
<text x="190" y="1840.1" font-size="70" text-anchor="end"  style="">2</text>
<text x="190" y="2071.1" font-size="70" text-anchor="end"  style="">0</text>
<text x="190" y="2302.1" font-size="70" text-anchor="end"  style="">-2</text>
<line x1="242" y1="1777.1" x2="345" y2="1777.1" stroke="#ef4040" stroke-width="1.3" stroke-linecap="butt" />
<circle cx="294" cy="1777.1" r="10.5" fill="#ef4040" />
<line x1="242" y1="1851.1" x2="345" y2="1851.1" stroke="#505050" stroke-width="1.3" stroke-linecap="butt" />
<rect x="284.7" y="1841.8" width="18.6" height="18.6" fill="#505050"/>
<line x1="242" y1="1934.2" x2="345" y2="1934.2" stroke="#1a6ddb" stroke-width="1.3" stroke-linecap="butt" />
<polygon points="294,1920 306.3,1941.3 281.7,1941.3" fill="#1a6ddb" />
<text x="363.3" y="1802.2" font-size="54.5" text-anchor="start"  style="">RT</text>
<text x="362.3" y="1873" font-size="54.5" text-anchor="start"  style="">100 <tspan font-size="30" dy="-19">o</tspan><tspan dy="19">C</tspan></text>
<text x="362.3" y="1955.5" font-size="54.5" text-anchor="start"  style="">200 <tspan font-size="30" dy="-19">o</tspan><tspan dy="19">C</tspan></text>
<line x1="697.2" y1="2160" x2="800.6" y2="2160" stroke="#37a86a" stroke-width="1.3" stroke-linecap="butt" />
<polygon points="749,2174.2 761.3,2152.9 736.7,2152.9" fill="#37a86a" />
<text x="820.5" y="2178" font-size="54.5" text-anchor="start"  style="">300 <tspan font-size="30" dy="-19">o</tspan><tspan dy="19">C</tspan></text>
<line x1="697.2" y1="2230.5" x2="800.6" y2="2230.5" stroke="#b07ae0" stroke-width="1.3" stroke-linecap="butt" />
<polygon points="749,2217.7 762.4,2230.5 749,2243.3 735.6,2230.5" fill="#b07ae0" />
<text x="820.5" y="2254.5" font-size="54.5" text-anchor="start"  style="">400 <tspan font-size="30" dy="-19">o</tspan><tspan dy="19">C</tspan></text>
<line x1="697.2" y1="2304.4" x2="800.6" y2="2304.4" stroke="#c8960b" stroke-width="1.3" stroke-linecap="butt" />
<polygon points="734.8,2304.4 756.1,2292.1 756.1,2316.7" fill="#c8960b" />
<text x="820.5" y="2325" font-size="54.5" text-anchor="start"  style="">500 <tspan font-size="30" dy="-19">o</tspan><tspan dy="19">C</tspan></text>
<text x="604" y="2499.5" font-size="70" text-anchor="middle"  style=""><tspan font-style="italic">H</tspan><tspan font-size="44" dy="21">x</tspan><tspan dy="-21"> (Oe)</tspan></text>
<g transform="translate(107.9,2322.6) rotate(-90)">
<text x="0" y="-9" font-size="60" font-family="'DejaVu Serif Condensed', 'DejaVu Serif', serif">χ</text>
<text x="66.1" y="0" font-size="70" text-anchor="start"  style="">(10<tspan font-size="42" dy="-23">-10</tspan><tspan dy="23"> Oe A</tspan><tspan font-size="42" dy="-23">-1</tspan><tspan dy="23"> m</tspan><tspan font-size="42" dy="-23">2</tspan><tspan dy="23">)</tspan></text>
</g>
<text x="37" y="1719" font-size="70" text-anchor="start"  style="">(e)</text>
<line x1="1227.7" y1="1811" x2="1227.7" y2="1900.9" stroke="#000" stroke-width="6" stroke-linecap="butt" />
<line x1="1215.7" y1="1811" x2="1239.7" y2="1811" stroke="#000" stroke-width="7.8" stroke-linecap="round" />
<line x1="1215.7" y1="1900.9" x2="1239.7" y2="1900.9" stroke="#000" stroke-width="7.8" stroke-linecap="round" />
<line x1="1337" y1="1914.5" x2="1337" y2="1961.7" stroke="#000" stroke-width="6" stroke-linecap="butt" />
<line x1="1325" y1="1914.5" x2="1349" y2="1914.5" stroke="#000" stroke-width="7.8" stroke-linecap="round" />
<line x1="1325" y1="1961.7" x2="1349" y2="1961.7" stroke="#000" stroke-width="7.8" stroke-linecap="round" />
<line x1="1483" y1="1940.5" x2="1483" y2="2103.5" stroke="#000" stroke-width="6" stroke-linecap="butt" />
<line x1="1471" y1="1940.5" x2="1495" y2="1940.5" stroke="#000" stroke-width="7.8" stroke-linecap="round" />
<line x1="1471" y1="2103.5" x2="1495" y2="2103.5" stroke="#000" stroke-width="7.8" stroke-linecap="round" />
<line x1="1628.3" y1="2076" x2="1628.3" y2="2107.7" stroke="#000" stroke-width="6" stroke-linecap="butt" />
<line x1="1616.3" y1="2076" x2="1640.3" y2="2076" stroke="#000" stroke-width="7.8" stroke-linecap="round" />
<line x1="1616.3" y1="2107.7" x2="1640.3" y2="2107.7" stroke="#000" stroke-width="7.8" stroke-linecap="round" />
<circle cx="1227.7" cy="1856.6" r="18.4" fill="#888888" stroke="#000" stroke-width="7.6"/>
<circle cx="1337" cy="1938" r="18.4" fill="#888888" stroke="#000" stroke-width="7.6"/>
<circle cx="1483" cy="2022" r="18.4" fill="#888888" stroke="#000" stroke-width="7.6"/>
<circle cx="1628.3" cy="2091.7" r="18.4" fill="#888888" stroke="#000" stroke-width="7.6"/>
<circle cx="1774.9" cy="2208" r="18.4" fill="#888888" stroke="#000" stroke-width="7.6"/>
<circle cx="1920.8" cy="2271.3" r="18.4" fill="#888888" stroke="#000" stroke-width="7.6"/>
<line x1="1191" y1="1720.5" x2="1191" y2="1733" stroke="#000" stroke-width="7" stroke-linecap="butt" />
<line x1="1191" y1="2367.6" x2="1191" y2="2355.1" stroke="#000" stroke-width="7" stroke-linecap="butt" />
<line x1="1483.3" y1="1720.5" x2="1483.3" y2="1733" stroke="#000" stroke-width="7" stroke-linecap="butt" />
<line x1="1483.3" y1="2367.6" x2="1483.3" y2="2355.1" stroke="#000" stroke-width="7" stroke-linecap="butt" />
<line x1="1775.6" y1="1720.5" x2="1775.6" y2="1733" stroke="#000" stroke-width="7" stroke-linecap="butt" />
<line x1="1775.6" y1="2367.6" x2="1775.6" y2="2355.1" stroke="#000" stroke-width="7" stroke-linecap="butt" />
<line x1="1337.2" y1="1720.5" x2="1337.2" y2="1727" stroke="#000" stroke-width="7" stroke-linecap="butt" />
<line x1="1337.2" y1="2367.6" x2="1337.2" y2="2361.1" stroke="#000" stroke-width="7" stroke-linecap="butt" />
<line x1="1629.5" y1="1720.5" x2="1629.5" y2="1727" stroke="#000" stroke-width="7" stroke-linecap="butt" />
<line x1="1629.5" y1="2367.6" x2="1629.5" y2="2361.1" stroke="#000" stroke-width="7" stroke-linecap="butt" />
<line x1="1921.8" y1="1720.5" x2="1921.8" y2="1727" stroke="#000" stroke-width="7" stroke-linecap="butt" />
<line x1="1921.8" y1="2367.6" x2="1921.8" y2="2361.1" stroke="#000" stroke-width="7" stroke-linecap="butt" />
<line x1="1191" y1="2272" x2="1203.5" y2="2272" stroke="#000" stroke-width="7" stroke-linecap="butt" />
<line x1="1994.5" y1="2272" x2="1982" y2="2272" stroke="#000" stroke-width="7" stroke-linecap="butt" />
<line x1="1191" y1="1792.5" x2="1203.5" y2="1792.5" stroke="#000" stroke-width="7" stroke-linecap="butt" />
<line x1="1994.5" y1="1792.5" x2="1982" y2="1792.5" stroke="#000" stroke-width="7" stroke-linecap="butt" />
<line x1="1191" y1="2032.2" x2="1197.5" y2="2032.2" stroke="#000" stroke-width="7" stroke-linecap="butt" />
<line x1="1994.5" y1="2032.2" x2="1988" y2="2032.2" stroke="#000" stroke-width="7" stroke-linecap="butt" />
<rect x="1191" y="1720.5" width="803.5" height="647.1" fill="none" stroke="#000" stroke-width="7" stroke-linejoin="miter"/>
<text x="1191" y="2438.6" font-size="70" text-anchor="middle"  style="">0</text>
<text x="1483.3" y="2438.6" font-size="70" text-anchor="middle"  style="">200</text>
<text x="1775.6" y="2438.6" font-size="70" text-anchor="middle"  style="">400</text>
<text x="1172.5" y="1817.6" font-size="70" text-anchor="end"  style="">2</text>
<text x="1172.5" y="2297.1" font-size="70" text-anchor="end"  style="">1</text>
<text x="1589" y="2499.5" font-size="71" text-anchor="middle"  style="">Annealing temp. (<tspan font-size="37" dy="-22">o</tspan><tspan dy="22">C)</tspan></text>
<g transform="translate(1107.2,2334.8) rotate(-90)">
<text x="0" y="-9.6" font-size="60" font-family="'DejaVu Serif Condensed', 'DejaVu Serif', serif">χ</text>
<text x="38.3" y="11.3" font-size="40" text-anchor="start"  style="">sat</text>
<text x="99" y="0" font-size="70" text-anchor="start"  style="">(10<tspan font-size="42" dy="-23">-10</tspan><tspan dy="23"> Oe A</tspan><tspan font-size="42" dy="-23">-1</tspan><tspan dy="23"> m</tspan><tspan font-size="42" dy="-23">2</tspan><tspan dy="23">)</tspan></text>
</g>
<text x="1037" y="1719" font-size="70" text-anchor="start"  style="">(f)</text>
<polygon points="759.3,429.8 849.5,365.6 849.5,386.6 759.3,450.8" fill="#967470" />
<polygon points="759.3,450.3 849.5,386.1 849.5,408.1 759.3,472.3" fill="#b8611f" />
<polygon points="348.6,325 568.7,424.2 568.7,445.2 348.6,346" fill="#e9b5ae" />
<polygon points="348.6,345.5 568.7,444.7 568.7,466.7 348.6,367.5" fill="#f08234" />
<polygon points="480.7,488.6 604,544.1 604,565.1 480.7,509.6" fill="#e9b5ae" />
<polygon points="480.7,509.1 604,564.6 604,586.6 480.7,531.1" fill="#f08234" />
<polygon points="692,479.7 914.5,580 914.5,601 692,500.7" fill="#e9b5ae" />
<polygon points="692,500.2 914.5,600.5 914.5,622.5 692,522.2" fill="#f08234" />
<polygon points="604,544.1 692,479.7 692,500.7 604,565.1" fill="#967470" />
<polygon points="604,564.6 692,500.2 692,522.2 604,586.6" fill="#b8611f" />
<polygon points="914.5,580 981.8,530.1 981.8,551.1 914.5,601" fill="#967470" />
<polygon points="914.5,600.5 981.8,550.6 981.8,572.6 914.5,622.5" fill="#b8611f" />
<polygon points="348.6,325 568.7,424.2 480.7,488.6 604,544.1 692,479.7 914.5,580 981.8,530.1 759.3,429.8 849.5,365.6 726.2,310.1 636,374.3 415.9,275.1" fill="#d2a59f" />
<polyline points="374.9,304.2 329,281.5 322,282.5 93.1,452.2 399.4,593" fill="none" stroke="#5a1c06" stroke-width="3.6" stroke-linejoin="round" stroke-linecap="butt" />
<polyline points="462.6,622.2 760,758 766,761.5 773,761.5 1000,592 1002,586 948.9,562.4" fill="none" stroke="#5a1c06" stroke-width="3.6" stroke-linejoin="round" stroke-linecap="butt" />
<ellipse cx="431" cy="607.6" rx="39" ry="23" fill="none" stroke="#7a3010" stroke-width="1.6"/>
<line x1="461.6" y1="623.1" x2="424" y2="598.5" stroke="#000" stroke-width="2.6" stroke-linecap="butt" />
<polygon points="412.4,590.2 437.5,594.5 425.5,611.5" fill="#000" />
<polyline points="540.1,527 503,553.7 509.5,366 514,359 649.2,257.9" fill="none" stroke="#5a1c06" stroke-width="3" stroke-linejoin="round" stroke-linecap="butt" />
<polyline points="693.1,222.7 829,125.5 832,127 826.5,312 823,318 795.3,340.1" fill="none" stroke="#5a1c06" stroke-width="3" stroke-linejoin="round" stroke-linecap="butt" />
<ellipse cx="671.3" cy="242.8" rx="17.6" ry="35.4" transform="rotate(24 671.3 242.8)" fill="none" stroke="#7a3010" stroke-width="1.6"/>
<g transform="translate(675.5,262) rotate(-9) scale(0.97,1)">
<text x="0" y="0" font-size="47" text-anchor="middle"  style="">V</text>
</g>
<polygon points="449.1,469.6 473.9,469.6 473.9,347.8 492,347.8 462.3,318 432.8,347.8 449.1,347.8" fill="#000" />
<polygon points="595.8,392 610.6,431.2 618.5,413.7 731,465.1 739.6,445.9 627.1,394.6 635,377.1" fill="#000" />
<line x1="291.4" y1="266.7" x2="291.4" y2="160" stroke="#000" stroke-width="4.6" stroke-linecap="butt" />
<polygon points="291.4,131.3 306,166 276.8,166" fill="#000" />
<line x1="291.4" y1="264.7" x2="197.7" y2="214.4" stroke="#000" stroke-width="4.6" stroke-linecap="butt" />
<polygon points="169.5,199.3 208.1,203.5 194.4,229.1" fill="#000" />
<line x1="291.4" y1="264.7" x2="214.9" y2="321.2" stroke="#000" stroke-width="4.6" stroke-linecap="butt" />
<polygon points="189.2,340.2 209.5,307.1 226.8,330.5" fill="#000" />
<text x="34" y="105.5" font-size="70" text-anchor="start"  style="">(a)</text>
<text x="273.5" y="122" font-size="70" text-anchor="start" font-style="italic" style="">z</text>
<text x="132.5" y="215.3" font-size="70" text-anchor="start" font-style="italic" style="">x</text>
<text x="142" y="358" font-size="70" text-anchor="start" font-style="italic" style="">y</text>
<text x="364" y="638.5" font-size="66" text-anchor="start" font-style="italic" style="">I</text>
<text x="369.5" y="458.5" font-size="71" text-anchor="start"  style=""><tspan font-style="italic">H</tspan><tspan font-size="42" dy="22.5">z</tspan></text>
<text x="670.5" y="406.2" font-size="71.5" text-anchor="start"  style=""><tspan font-style="italic">H</tspan><tspan font-size="43" dy="23">x</tspan></text>
<g transform="translate(841.0,566.0) rotate(27.5)">
<text x="0" y="0" font-size="41" text-anchor="middle" font-weight="bold" style="">Pt</text>
</g>
<g transform="translate(820.0,600.5) rotate(27.5)">
<text x="0" y="0" font-size="41" text-anchor="middle" font-weight="bold" style="">TmIG</text>
</g>
</svg></body></html>
